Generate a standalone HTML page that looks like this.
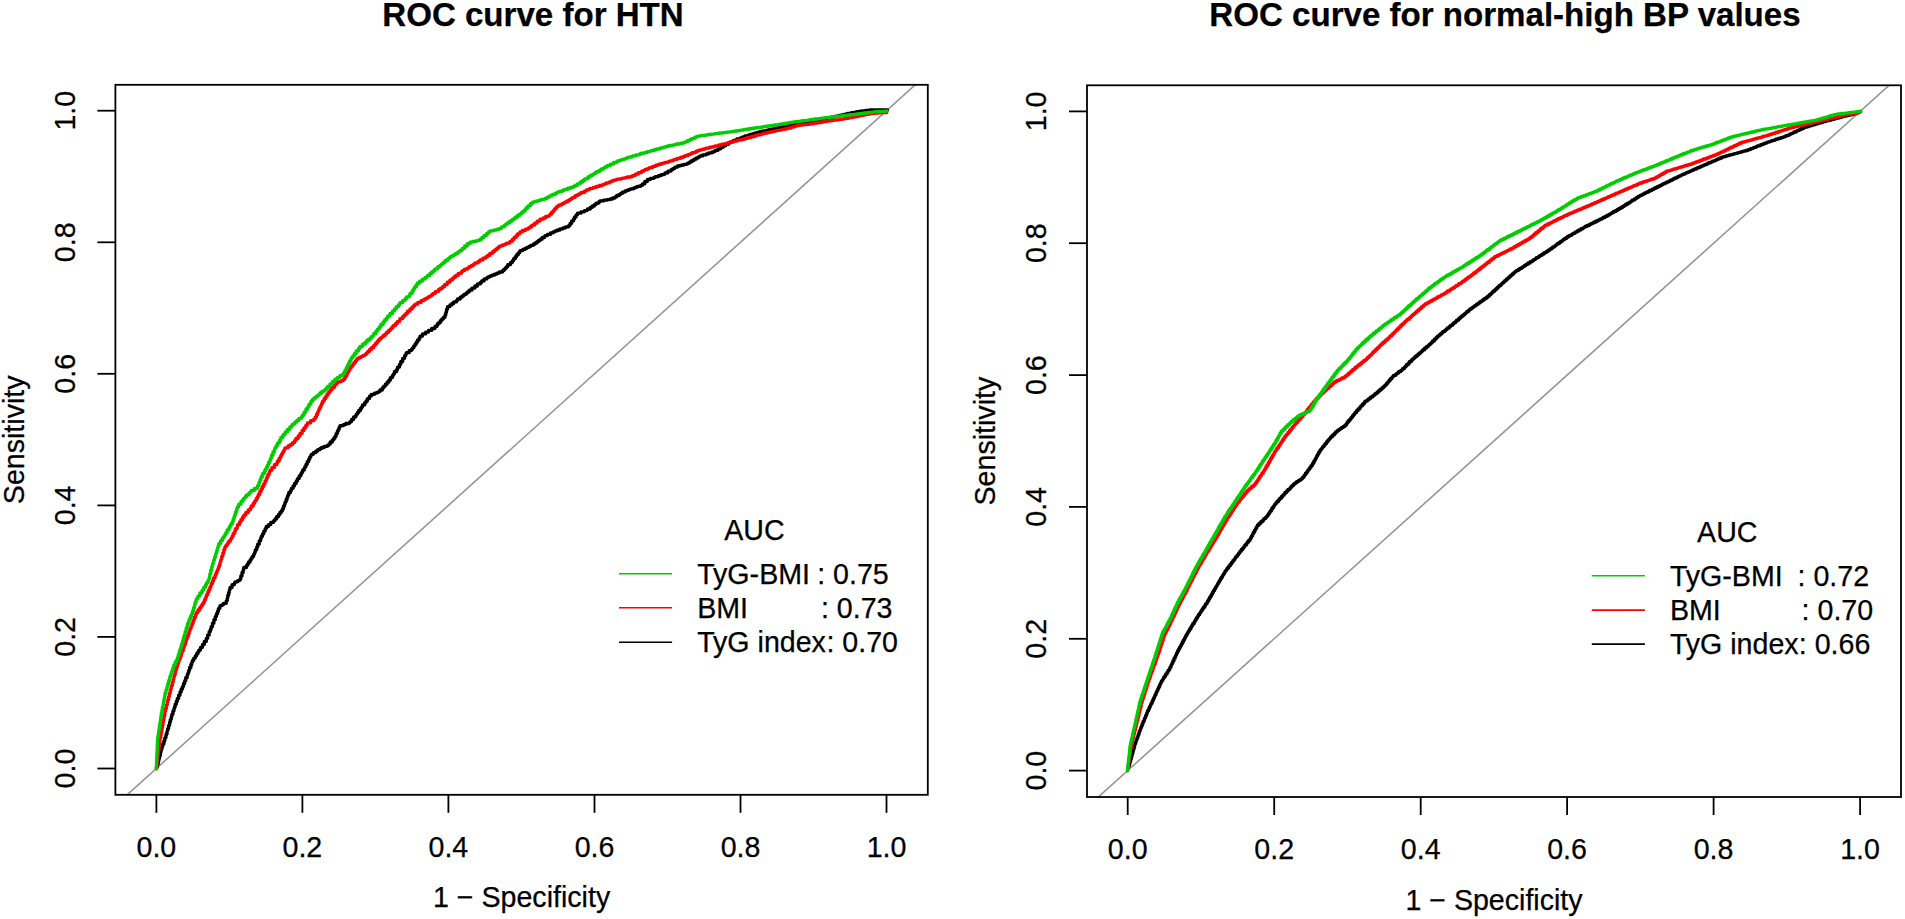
<!DOCTYPE html>
<html lang="en"><head><meta charset="utf-8"><title>ROC curves</title>
<style>
html,body{margin:0;padding:0;background:#fff;}
body{width:1905px;height:919px;overflow:hidden;}
svg{display:block;}
text{font-family:"Liberation Sans", Arial, Helvetica, sans-serif;fill:#000;stroke:#000;stroke-width:0.25px;}
.t{font-size:28.6px;}
.ttl{font-size:33.1px;font-weight:bold;}
.ax{stroke:#000;stroke-width:1.8;fill:none;stroke-linecap:butt;}
.cv{fill:none;stroke-width:3.3;stroke-linejoin:round;stroke-linecap:round;}
</style></head><body>
<svg width="1905" height="919" viewBox="0 0 1905 919">
<rect width="1905" height="919" fill="#fff"/>

<g id="panelL">
<clipPath id="clipL"><rect x="115.4" y="84.8" width="812.4" height="710.0"/></clipPath>
<line x1="115.4" y1="805.4" x2="927.8" y2="73.5" stroke="#969696" stroke-width="1.6" clip-path="url(#clipL)"/>
<path class="cv" stroke="#000000" d="M157.0,767.5 L157.0,766.4 L157.5,766.4 L157.5,765.4 L157.5,763.9 L158.2,763.9 L158.2,762.5 L158.2,761.3 L158.8,761.3 L158.8,760.1 L158.8,758.6 L159.5,758.6 L159.5,757.2 L159.5,755.7 L160.3,755.7 L160.3,754.2 L160.3,753.3 L160.7,753.3 L160.7,752.4 L160.7,751.6 L161.1,751.6 L161.1,750.7 L161.1,750.4 L161.3,750.4 L161.3,750.0 L161.3,748.9 L162.0,748.9 L162.0,747.9 L162.0,746.8 L162.7,746.8 L162.7,745.8 L162.7,743.9 L163.9,743.9 L163.9,742.1 L163.9,740.8 L164.8,740.8 L164.8,739.5 L164.8,737.8 L165.9,737.8 L165.9,736.1 L165.9,735.5 L166.3,735.5 L166.3,735.0 L166.3,733.5 L167.2,733.5 L167.2,732.0 L167.2,731.0 L167.7,731.0 L167.7,730.1 L167.7,728.6 L168.6,728.6 L168.6,727.1 L168.6,725.3 L169.6,725.3 L169.6,723.6 L169.6,722.2 L170.3,722.2 L170.3,720.9 L170.3,719.3 L171.3,719.3 L171.3,717.6 L171.3,717.6 L171.3,717.6 L171.3,717.5 L171.3,716.6 L171.9,716.6 L171.9,715.8 L171.9,714.2 L172.9,714.2 L172.9,712.6 L172.9,711.1 L173.9,711.1 L173.9,709.7 L173.9,708.6 L174.6,708.6 L174.6,707.5 L174.6,706.7 L175.2,706.7 L175.2,705.8 L175.2,704.2 L176.3,704.2 L176.3,702.5 L176.3,701.2 L177.3,701.2 L177.3,700.0 L177.3,698.4 L178.6,698.4 L178.6,696.9 L178.6,695.2 L180.0,695.2 L180.0,693.6 L180.0,692.0 L181.2,692.0 L181.2,690.5 L181.2,689.0 L182.5,689.0 L182.5,687.5 L182.5,686.3 L183.5,686.3 L183.5,685.1 L183.5,683.5 L184.7,683.5 L184.7,681.9 L184.7,680.7 L185.7,680.7 L185.7,679.4 L185.7,677.7 L187.1,677.7 L187.1,675.9 L187.1,675.5 L187.5,675.5 L187.5,675.0 L187.5,674.1 L188.2,674.1 L188.2,673.2 L188.2,672.3 L188.8,672.3 L188.8,671.4 L188.8,670.3 L189.6,670.3 L189.6,669.3 L189.6,667.5 L190.9,667.5 L190.9,665.7 L190.9,664.5 L191.8,664.5 L191.8,663.2 L191.8,662.3 L192.5,662.3 L192.5,661.3 L192.5,660.3 L193.8,660.3 L193.8,659.3 L193.8,658.1 L195.3,658.1 L195.3,656.9 L195.3,655.8 L196.6,655.8 L196.6,654.8 L196.6,653.7 L197.9,653.7 L197.9,652.7 L197.9,652.0 L198.8,652.0 L198.8,651.3 L198.8,650.1 L200.5,650.1 L200.5,648.8 L200.5,647.3 L202.5,647.3 L202.5,645.7 L202.5,644.4 L204.3,644.4 L204.3,643.1 L204.3,641.5 L206.3,641.5 L206.3,640.0 L206.3,638.3 L207.7,638.3 L207.7,636.7 L207.7,634.9 L209.2,634.9 L209.2,633.1 L209.2,631.6 L210.4,631.6 L210.4,630.1 L210.4,629.2 L211.2,629.2 L211.2,628.2 L211.2,626.6 L212.5,626.6 L212.5,625.0 L212.5,623.2 L213.9,623.2 L213.9,621.4 L213.9,619.7 L215.3,619.7 L215.3,618.0 L215.3,616.6 L216.4,616.6 L216.4,615.3 L216.4,613.7 L217.6,613.7 L217.6,612.2 L217.6,611.2 L218.4,611.2 L218.4,610.2 L218.4,608.6 L219.8,608.6 L219.8,606.9 L219.8,606.6 L220.0,606.6 L220.0,606.3 L220.0,605.7 L222.0,605.7 L222.0,605.1 L222.0,604.6 L223.5,604.6 L223.5,604.2 L223.5,603.3 L226.3,603.3 L226.3,602.5 L226.3,600.6 L227.3,600.6 L227.3,598.7 L227.3,597.8 L227.8,597.8 L227.8,596.9 L227.8,595.2 L228.7,595.2 L228.7,593.6 L228.7,592.3 L229.4,592.3 L229.4,591.1 L229.4,590.1 L229.9,590.1 L229.9,589.1 L229.9,589.0 L230.0,589.0 L230.0,588.8 L230.0,587.5 L232.1,587.5 L232.1,586.1 L232.1,584.7 L234.4,584.7 L234.4,583.3 L234.4,582.9 L235.0,582.9 L235.0,582.5 L235.0,581.8 L237.7,581.8 L237.7,581.1 L237.7,580.7 L239.3,580.7 L239.3,580.3 L239.3,580.2 L240.0,580.2 L240.0,580.0 L240.0,578.9 L240.8,578.9 L240.8,577.7 L240.8,576.0 L242.0,576.0 L242.0,574.2 L242.0,572.4 L243.2,572.4 L243.2,570.6 L243.2,569.7 L243.8,569.7 L243.8,568.8 L243.8,567.4 L246.5,567.4 L246.5,565.9 L246.5,565.4 L247.5,565.4 L247.5,564.8 L247.5,564.0 L248.5,564.0 L248.5,563.2 L248.5,562.0 L250.1,562.0 L250.1,560.7 L250.1,560.0 L251.1,560.0 L251.1,559.2 L251.1,558.3 L252.2,558.3 L252.2,557.4 L252.2,556.4 L253.6,556.4 L253.6,555.3 L253.6,555.1 L253.8,555.1 L253.8,555.0 L253.8,554.1 L254.6,554.1 L254.6,553.1 L254.6,552.3 L255.3,552.3 L255.3,551.5 L255.3,549.8 L256.7,549.8 L256.7,548.2 L256.7,547.1 L257.7,547.1 L257.7,546.0 L257.7,544.2 L259.2,544.2 L259.2,542.5 L259.2,540.8 L260.6,540.8 L260.6,539.1 L260.6,538.3 L261.3,538.3 L261.3,537.5 L261.3,536.3 L262.5,536.3 L262.5,535.1 L262.5,533.8 L263.8,533.8 L263.8,532.5 L263.8,531.1 L265.2,531.1 L265.2,529.7 L265.2,528.6 L266.3,528.6 L266.3,527.5 L266.3,526.5 L268.5,526.5 L268.5,525.6 L268.5,524.6 L270.8,524.6 L270.8,523.6 L270.8,522.3 L273.7,522.3 L273.7,521.1 L273.7,520.6 L275.0,520.6 L275.0,520.0 L275.0,518.9 L276.6,518.9 L276.6,517.9 L276.6,516.6 L278.6,516.6 L278.6,515.2 L278.6,514.4 L279.9,514.4 L279.9,513.5 L279.9,512.5 L281.3,512.5 L281.3,511.6 L281.3,510.8 L282.5,510.8 L282.5,510.0 L282.5,508.7 L283.5,508.7 L283.5,507.3 L283.5,506.0 L284.6,506.0 L284.6,504.6 L284.6,503.8 L285.2,503.8 L285.2,503.0 L285.2,501.8 L286.2,501.8 L286.2,500.6 L286.2,499.2 L287.2,499.2 L287.2,497.8 L287.2,497.0 L287.9,497.0 L287.9,496.2 L287.9,495.0 L288.8,495.0 L288.8,493.8 L288.8,492.5 L290.5,492.5 L290.5,491.2 L290.5,490.4 L291.4,490.4 L291.4,489.6 L291.4,488.3 L293.1,488.3 L293.1,487.0 L293.1,485.9 L294.5,485.9 L294.5,484.7 L294.5,483.4 L296.2,483.4 L296.2,482.0 L296.2,481.0 L297.5,481.0 L297.5,480.0 L297.5,478.6 L299.2,478.6 L299.2,477.2 L299.2,475.8 L300.9,475.8 L300.9,474.3 L300.9,473.6 L301.8,473.6 L301.8,472.9 L301.8,472.1 L302.7,472.1 L302.7,471.3 L302.7,469.9 L304.4,469.9 L304.4,468.6 L304.4,468.0 L305.0,468.0 L305.0,467.5 L305.0,466.5 L306.0,466.5 L306.0,465.5 L306.0,464.3 L307.2,464.3 L307.2,463.1 L307.2,461.7 L308.6,461.7 L308.6,460.4 L308.6,459.3 L309.7,459.3 L309.7,458.3 L309.7,457.1 L310.8,457.1 L310.8,456.0 L310.8,455.5 L311.3,455.5 L311.3,455.0 L311.3,454.3 L313.3,454.3 L313.3,453.5 L313.3,452.7 L315.8,452.7 L315.8,451.8 L315.8,451.1 L317.7,451.1 L317.7,450.4 L317.7,449.7 L319.8,449.7 L319.8,449.0 L319.8,448.9 L320.0,448.9 L320.0,448.8 L320.0,448.5 L321.6,448.5 L321.6,448.1 L321.6,447.5 L324.3,447.5 L324.3,446.9 L324.3,446.3 L327.4,446.3 L327.4,445.6 L327.4,445.3 L328.8,445.3 L328.8,445.0 L328.8,444.2 L330.2,444.2 L330.2,443.3 L330.2,442.0 L332.4,442.0 L332.4,440.6 L332.4,439.8 L333.8,439.8 L333.8,438.9 L333.8,438.2 L335.0,438.2 L335.0,437.5 L335.0,436.3 L336.1,436.3 L336.1,435.1 L336.1,433.6 L337.4,433.6 L337.4,432.1 L337.4,431.2 L338.2,431.2 L338.2,430.4 L338.2,429.3 L339.2,429.3 L339.2,428.2 L339.2,427.2 L340.0,427.2 L340.0,426.3 L340.0,425.7 L343.3,425.7 L343.3,425.0 L343.3,424.6 L345.8,424.6 L345.8,424.1 L345.8,423.5 L349.2,423.5 L349.2,422.8 L349.2,422.7 L350.0,422.7 L350.0,422.5 L350.0,421.6 L351.6,421.6 L351.6,420.6 L351.6,419.4 L353.6,419.4 L353.6,418.2 L353.6,416.8 L355.9,416.8 L355.9,415.4 L355.9,415.2 L356.3,415.2 L356.3,415.0 L356.3,414.1 L357.6,414.1 L357.6,413.2 L357.6,412.4 L358.7,412.4 L358.7,411.6 L358.7,410.5 L360.4,410.5 L360.4,409.3 L360.4,408.4 L361.6,408.4 L361.6,407.6 L361.6,406.9 L362.5,406.9 L362.5,406.3 L362.5,404.9 L364.7,404.9 L364.7,403.5 L364.7,402.7 L366.0,402.7 L366.0,401.8 L366.0,400.9 L367.4,400.9 L367.4,400.0 L367.4,398.6 L369.5,398.6 L369.5,397.3 L369.5,396.1 L371.3,396.1 L371.3,395.0 L371.3,394.3 L374.5,394.3 L374.5,393.6 L374.5,393.2 L376.8,393.2 L376.8,392.7 L376.8,392.3 L378.6,392.3 L378.6,391.9 L378.6,391.6 L380.0,391.6 L380.0,391.3 L380.0,390.0 L382.3,390.0 L382.3,388.7 L382.3,387.8 L383.8,387.8 L383.8,387.0 L383.8,386.1 L385.4,386.1 L385.4,385.1 L385.4,384.2 L387.1,384.2 L387.1,383.2 L387.1,382.2 L388.8,382.2 L388.8,381.3 L388.8,380.2 L390.3,380.2 L390.3,379.2 L390.3,377.6 L392.4,377.6 L392.4,376.1 L392.4,375.3 L393.6,375.3 L393.6,374.4 L393.6,373.7 L394.5,373.7 L394.5,373.0 L394.5,371.5 L396.7,371.5 L396.7,369.9 L396.7,369.4 L397.5,369.4 L397.5,368.8 L397.5,367.1 L399.5,367.1 L399.5,365.4 L399.5,364.3 L400.8,364.3 L400.8,363.2 L400.8,361.5 L402.7,361.5 L402.7,359.9 L402.7,358.3 L404.6,358.3 L404.6,356.6 L404.6,355.7 L405.7,355.7 L405.7,354.8 L405.7,354.3 L406.3,354.3 L406.3,353.8 L406.3,352.7 L409.1,352.7 L409.1,351.6 L409.1,350.6 L411.5,350.6 L411.5,349.6 L411.5,349.2 L412.5,349.2 L412.5,348.8 L412.5,347.8 L413.8,347.8 L413.8,346.9 L413.8,345.8 L415.1,345.8 L415.1,344.8 L415.1,343.9 L416.3,343.9 L416.3,343.0 L416.3,342.2 L417.4,342.2 L417.4,341.5 L417.4,340.2 L419.0,340.2 L419.0,339.0 L419.0,338.2 L420.0,338.2 L420.0,337.5 L420.0,336.2 L422.4,336.2 L422.4,334.9 L422.4,334.9 L422.5,334.9 L422.5,334.8 L422.5,333.9 L425.7,333.9 L425.7,332.9 L425.7,332.1 L428.5,332.1 L428.5,331.3 L428.5,330.4 L431.7,330.4 L431.7,329.4 L431.7,328.5 L434.9,328.5 L434.9,327.6 L434.9,327.5 L435.0,327.5 L435.0,327.5 L435.0,326.4 L437.0,326.4 L437.0,325.3 L437.0,324.6 L438.1,324.6 L438.1,324.0 L438.1,322.8 L440.3,322.8 L440.3,321.5 L440.3,320.7 L441.7,320.7 L441.7,320.0 L441.7,319.1 L443.3,319.1 L443.3,318.2 L443.3,317.3 L445.0,317.3 L445.0,316.3 L445.0,314.9 L445.8,314.9 L445.8,313.6 L445.8,312.3 L446.5,312.3 L446.5,311.0 L446.5,309.3 L447.5,309.3 L447.5,307.5 L447.5,306.6 L449.9,306.6 L449.9,305.7 L449.9,304.9 L451.9,304.9 L451.9,304.2 L451.9,303.5 L453.7,303.5 L453.7,302.9 L453.7,301.8 L456.6,301.8 L456.6,300.7 L456.6,300.3 L457.5,300.3 L457.5,300.0 L457.5,299.0 L460.2,299.0 L460.2,297.9 L460.2,297.2 L462.2,297.2 L462.2,296.5 L462.2,295.8 L463.9,295.8 L463.9,295.2 L463.9,294.3 L466.2,294.3 L466.2,293.5 L466.2,293.0 L467.5,293.0 L467.5,292.5 L467.5,291.9 L469.2,291.9 L469.2,291.3 L469.2,290.2 L471.9,290.2 L471.9,289.2 L471.9,288.1 L474.9,288.1 L474.9,286.9 L474.9,286.0 L477.5,286.0 L477.5,285.0 L477.5,283.9 L480.3,283.9 L480.3,282.9 L480.3,282.4 L481.7,282.4 L481.7,281.9 L481.7,280.9 L484.1,280.9 L484.1,280.0 L484.1,278.9 L487.0,278.9 L487.0,277.8 L487.0,277.7 L487.5,277.7 L487.5,277.5 L487.5,277.1 L489.6,277.1 L489.6,276.6 L489.6,276.2 L491.7,276.2 L491.7,275.8 L491.7,275.2 L494.4,275.2 L494.4,274.7 L494.4,274.2 L496.8,274.2 L496.8,273.7 L496.8,273.1 L499.3,273.1 L499.3,272.6 L499.3,272.0 L502.5,272.0 L502.5,271.3 L502.5,271.3 L502.5,271.3 L502.5,271.3 L502.5,270.7 L503.8,270.7 L503.8,270.0 L503.8,269.3 L505.2,269.3 L505.2,268.6 L505.2,267.9 L506.5,267.9 L506.5,267.3 L506.5,266.6 L507.8,266.6 L507.8,266.0 L507.8,264.6 L510.6,264.6 L510.6,263.2 L510.6,262.3 L512.5,262.3 L512.5,261.3 L512.5,260.6 L513.6,260.6 L513.6,259.8 L513.6,258.7 L515.3,258.7 L515.3,257.6 L515.3,256.6 L516.7,256.6 L516.7,255.6 L516.7,254.7 L518.2,254.7 L518.2,253.7 L518.2,252.8 L519.7,252.8 L519.7,251.8 L519.7,251.5 L520.0,251.5 L520.0,251.3 L520.0,250.6 L522.7,250.6 L522.7,250.0 L522.7,249.4 L524.9,249.4 L524.9,248.8 L524.9,248.4 L526.8,248.4 L526.8,247.9 L526.8,247.4 L529.0,247.4 L529.0,246.8 L529.0,246.4 L530.7,246.4 L530.7,245.9 L530.7,245.3 L533.3,245.3 L533.3,244.6 L533.3,244.2 L535.0,244.2 L535.0,243.8 L535.0,243.0 L537.0,243.0 L537.0,242.3 L537.0,241.7 L538.5,241.7 L538.5,241.2 L538.5,240.5 L540.2,240.5 L540.2,239.9 L540.2,239.2 L542.2,239.2 L542.2,238.4 L542.2,237.5 L544.6,237.5 L544.6,236.6 L544.6,236.4 L545.0,236.4 L545.0,236.3 L545.0,235.7 L547.3,235.7 L547.3,235.2 L547.3,234.4 L550.4,234.4 L550.4,233.6 L550.4,232.9 L553.1,232.9 L553.1,232.2 L553.1,231.8 L555.0,231.8 L555.0,231.3 L555.0,230.9 L557.4,230.9 L557.4,230.4 L557.4,230.0 L560.0,230.0 L560.0,229.5 L560.0,228.9 L563.0,228.9 L563.0,228.4 L563.0,227.9 L565.5,227.9 L565.5,227.5 L565.5,226.9 L568.6,226.9 L568.6,226.4 L568.6,226.3 L568.8,226.3 L568.8,226.3 L568.8,225.4 L570.1,225.4 L570.1,224.5 L570.1,223.3 L571.7,223.3 L571.7,222.1 L571.7,220.8 L573.6,220.8 L573.6,219.4 L573.6,218.7 L574.6,218.7 L574.6,217.9 L574.6,216.9 L576.1,216.9 L576.1,215.8 L576.1,214.8 L577.5,214.8 L577.5,213.8 L577.5,213.2 L580.9,213.2 L580.9,212.5 L580.9,211.8 L584.4,211.8 L584.4,211.2 L584.4,210.7 L586.8,210.7 L586.8,210.3 L586.8,210.1 L587.5,210.1 L587.5,210.0 L587.5,209.0 L590.3,209.0 L590.3,208.0 L590.3,207.4 L592.2,207.4 L592.2,206.7 L592.2,206.0 L594.4,206.0 L594.4,205.2 L594.4,204.6 L596.0,204.6 L596.0,204.1 L596.0,203.1 L598.9,203.1 L598.9,202.1 L598.9,201.7 L600.0,201.7 L600.0,201.3 L600.0,200.9 L603.6,200.9 L603.6,200.6 L603.6,200.2 L607.0,200.2 L607.0,199.9 L607.0,199.6 L610.1,199.6 L610.1,199.3 L610.1,199.0 L612.5,199.0 L612.5,198.8 L612.5,198.0 L615.0,198.0 L615.0,197.3 L615.0,196.8 L616.7,196.8 L616.7,196.3 L616.7,195.5 L619.2,195.5 L619.2,194.8 L619.2,194.3 L620.7,194.3 L620.7,193.9 L620.7,193.4 L622.4,193.4 L622.4,192.9 L622.4,192.1 L625.0,192.1 L625.0,191.3 L625.0,191.0 L626.7,191.0 L626.7,190.7 L626.7,190.4 L628.4,190.4 L628.4,190.1 L628.4,189.7 L630.2,189.7 L630.2,189.4 L630.2,188.8 L633.7,188.8 L633.7,188.2 L633.7,187.8 L635.6,187.8 L635.6,187.5 L635.6,187.2 L637.3,187.2 L637.3,186.9 L637.3,186.3 L640.6,186.3 L640.6,185.7 L640.6,185.3 L642.5,185.3 L642.5,185.0 L642.5,185.0 L642.5,185.0 L642.5,185.0 L642.5,183.9 L644.8,183.9 L644.8,182.7 L644.8,181.5 L647.3,181.5 L647.3,180.2 L647.3,180.1 L647.5,180.1 L647.5,180.0 L647.5,179.5 L650.3,179.5 L650.3,179.0 L650.3,178.4 L653.6,178.4 L653.6,177.8 L653.6,177.6 L655.2,177.6 L655.2,177.3 L655.2,176.7 L658.4,176.7 L658.4,176.1 L658.4,175.7 L661.1,175.7 L661.1,175.2 L661.1,174.6 L664.2,174.6 L664.2,174.1 L664.2,173.9 L665.0,173.9 L665.0,173.8 L665.0,172.9 L667.9,172.9 L667.9,172.1 L667.9,171.1 L671.1,171.1 L671.1,170.1 L671.1,169.7 L672.7,169.7 L672.7,169.2 L672.7,168.6 L674.7,168.6 L674.7,168.0 L674.7,167.2 L677.3,167.2 L677.3,166.4 L677.3,166.4 L677.5,166.4 L677.5,166.3 L677.5,166.0 L679.7,166.0 L679.7,165.8 L679.7,165.5 L681.7,165.5 L681.7,165.3 L681.7,165.0 L683.8,165.0 L683.8,164.7 L683.8,164.3 L686.8,164.3 L686.8,164.0 L686.8,163.9 L687.5,163.9 L687.5,163.8 L687.5,163.1 L689.7,163.1 L689.7,162.5 L689.7,161.8 L691.8,161.8 L691.8,161.2 L691.8,160.5 L694.0,160.5 L694.0,159.9 L694.0,159.2 L696.2,159.2 L696.2,158.6 L696.2,157.9 L698.4,157.9 L698.4,157.3 L698.4,156.8 L700.0,156.8 L700.0,156.3 L700.0,155.9 L702.7,155.9 L702.7,155.4 L702.7,154.8 L706.3,154.8 L706.3,154.2 L706.3,153.8 L708.8,153.8 L708.8,153.4 L708.8,152.8 L712.0,152.8 L712.0,152.3 L712.0,152.0 L713.9,152.0 L713.9,151.7 L713.9,151.5 L715.0,151.5 L715.0,151.3 L715.0,150.4 L717.9,150.4 L717.9,149.6 L717.9,148.8 L720.7,148.8 L720.7,148.0 L720.7,147.3 L723.1,147.3 L723.1,146.5 L723.1,145.8 L725.5,145.8 L725.5,145.1 L725.5,144.4 L728.2,144.4 L728.2,143.6 L728.2,143.0 L730.0,143.0 L730.0,142.5 L730.0,142.1 L731.9,142.1 L731.9,141.7 L731.9,141.4 L733.6,141.4 L733.6,141.0 L733.6,140.4 L736.7,140.4 L736.7,139.7 L736.7,139.0 L740.2,139.0 L740.2,138.3 L740.2,137.8 L742.8,137.8 L742.8,137.2 L742.8,136.8 L745.0,136.8 L745.0,136.3 L745.0,135.8 L748.2,135.8 L748.2,135.4 L748.2,135.1 L750.2,135.1 L750.2,134.8 L750.2,134.5 L752.4,134.5 L752.4,134.1 L752.4,133.8 L754.4,133.8 L754.4,133.5 L754.4,133.1 L757.3,133.1 L757.3,132.7 L757.3,132.4 L759.6,132.4 L759.6,132.0 L759.6,132.0 L760.0,132.0 L760.0,131.9 L760.0,131.5 L763.1,131.5 L763.1,131.2 L763.1,130.8 L766.9,130.8 L766.9,130.3 L766.9,130.1 L769.2,130.1 L769.2,129.8 L769.2,129.5 L772.3,129.5 L772.3,129.1 L772.3,128.8 L774.9,128.8 L774.9,128.5 L774.9,128.5 L775.0,128.5 L775.0,128.5 L775.0,128.2 L777.9,128.2 L777.9,127.9 L777.9,127.6 L780.1,127.6 L780.1,127.4 L780.1,127.1 L782.3,127.1 L782.3,126.9 L782.3,126.7 L784.0,126.7 L784.0,126.5 L784.0,126.4 L785.0,126.4 L785.0,126.3 L785.0,126.0 L787.5,126.0 L787.5,125.7 L787.5,125.4 L789.5,125.4 L789.5,125.2 L789.5,124.9 L791.9,124.9 L791.9,124.6 L791.9,124.3 L794.2,124.3 L794.2,124.0 L794.2,123.5 L797.5,123.5 L797.5,123.1 L797.5,122.9 L799.5,122.9 L799.5,122.6 L799.5,122.6 L800.0,122.6 L800.0,122.5 L800.0,122.3 L802.7,122.3 L802.7,122.1 L802.7,121.9 L805.7,121.9 L805.7,121.7 L805.7,121.5 L808.4,121.5 L808.4,121.3 L808.4,121.0 L811.9,121.0 L811.9,120.7 L811.9,120.5 L815.4,120.5 L815.4,120.2 L815.4,120.0 L818.3,120.0 L818.3,119.8 L818.3,119.6 L821.0,119.6 L821.0,119.4 L821.0,119.1 L824.3,119.1 L824.3,118.9 L824.3,118.9 L825.0,118.9 L825.0,118.8 L825.0,118.5 L827.5,118.5 L827.5,118.2 L827.5,117.9 L830.8,117.9 L830.8,117.5 L830.8,117.1 L834.5,117.1 L834.5,116.7 L834.5,116.4 L837.2,116.4 L837.2,116.1 L837.2,115.9 L839.3,115.9 L839.3,115.6 L839.3,115.4 L841.5,115.4 L841.5,115.1 L841.5,114.8 L844.7,114.8 L844.7,114.4 L844.7,114.1 L847.5,114.1 L847.5,113.8 L847.5,113.4 L851.3,113.4 L851.3,113.0 L851.3,112.7 L854.8,112.7 L854.8,112.3 L854.8,112.1 L857.0,112.1 L857.0,111.9 L857.0,111.7 L859.0,111.7 L859.0,111.5 L859.0,111.4 L860.0,111.4 L860.0,111.3 L860.0,111.2 L862.1,111.2 L862.1,111.0 L862.1,110.8 L865.3,110.8 L865.3,110.6 L865.3,110.4 L868.9,110.4 L868.9,110.1 L868.9,110.1 L870.0,110.1 L870.0,110.0 L870.0,110.0 L872.3,110.0 L872.3,110.0 L872.3,110.0 L875.9,110.0 L875.9,110.0 L875.9,110.0 L878.3,110.0 L878.3,110.0 L878.3,110.0 L880.9,110.0 L880.9,110.0 L880.9,110.0 L884.2,110.0 L884.2,110.0 L884.2,110.0 L886.1,110.0 L886.1,110.0 L886.1,110.0 L887.5,110.0 L887.5,110.0"/>
<path class="cv" stroke="#ff0000" d="M156.3,768.8 L156.3,767.0 L156.8,767.0 L156.8,765.3 L156.8,764.1 L157.0,764.1 L157.0,763.0 L157.0,761.7 L157.4,761.7 L157.4,760.5 L157.4,759.0 L157.7,759.0 L157.7,757.6 L157.7,756.0 L158.2,756.0 L158.2,754.4 L158.2,753.5 L158.4,753.5 L158.4,752.7 L158.4,751.5 L158.7,751.5 L158.7,750.3 L158.7,749.0 L159.0,749.0 L159.0,747.7 L159.0,746.3 L159.4,746.3 L159.4,744.9 L159.4,743.8 L159.6,743.8 L159.6,742.8 L159.6,741.4 L160.0,741.4 L160.0,740.0 L160.0,738.1 L160.7,738.1 L160.7,736.2 L160.7,735.0 L161.1,735.0 L161.1,733.7 L161.1,732.3 L161.7,732.3 L161.7,730.9 L161.7,729.9 L162.0,729.9 L162.0,729.0 L162.0,727.8 L162.4,727.8 L162.4,726.7 L162.4,725.1 L163.0,725.1 L163.0,723.6 L163.0,722.6 L163.3,722.6 L163.3,721.7 L163.3,719.9 L164.0,719.9 L164.0,718.1 L164.0,716.2 L164.7,716.2 L164.7,714.4 L164.7,713.5 L165.0,713.5 L165.0,712.6 L165.0,712.5 L165.0,712.5 L165.0,712.5 L165.0,711.3 L165.6,711.3 L165.6,710.1 L165.6,708.4 L166.4,708.4 L166.4,706.8 L166.4,705.1 L167.3,705.1 L167.3,703.5 L167.3,702.3 L167.8,702.3 L167.8,701.2 L167.8,699.7 L168.6,699.7 L168.6,698.1 L168.6,696.6 L169.4,696.6 L169.4,695.1 L169.4,693.4 L170.2,693.4 L170.2,691.7 L170.2,690.6 L170.8,690.6 L170.8,689.5 L170.8,688.5 L171.3,688.5 L171.3,687.5 L171.3,685.7 L172.3,685.7 L172.3,683.8 L172.3,682.3 L173.2,682.3 L173.2,680.7 L173.2,679.3 L173.9,679.3 L173.9,678.0 L173.9,677.0 L174.4,677.0 L174.4,676.1 L174.4,674.7 L175.2,674.7 L175.2,673.4 L175.2,672.2 L175.8,672.2 L175.8,671.0 L175.8,669.4 L176.7,669.4 L176.7,667.9 L176.7,666.4 L177.5,666.4 L177.5,665.0 L177.5,663.6 L178.5,663.6 L178.5,662.2 L178.5,661.2 L179.2,661.2 L179.2,660.3 L179.2,658.8 L180.3,658.8 L180.3,657.3 L180.3,655.9 L181.3,655.9 L181.3,654.4 L181.3,653.4 L182.0,653.4 L182.0,652.5 L182.0,650.7 L183.3,650.7 L183.3,649.0 L183.3,648.2 L183.8,648.2 L183.8,647.5 L183.8,646.6 L184.5,646.6 L184.5,645.7 L184.5,643.9 L185.7,643.9 L185.7,642.1 L185.7,641.2 L186.4,641.2 L186.4,640.2 L186.4,639.1 L187.2,639.1 L187.2,637.9 L187.2,636.4 L188.3,636.4 L188.3,634.8 L188.3,633.4 L189.3,633.4 L189.3,632.0 L189.3,631.0 L190.0,631.0 L190.0,630.0 L190.0,628.5 L191.1,628.5 L191.1,627.1 L191.1,625.8 L192.1,625.8 L192.1,624.6 L192.1,623.5 L193.0,623.5 L193.0,622.3 L193.0,621.4 L193.7,621.4 L193.7,620.4 L193.7,619.6 L194.4,619.6 L194.4,618.7 L194.4,617.2 L195.6,617.2 L195.6,615.6 L195.6,614.7 L196.3,614.7 L196.3,613.8 L196.3,612.6 L197.9,612.6 L197.9,611.4 L197.9,610.0 L199.7,610.0 L199.7,608.6 L199.7,607.6 L201.1,607.6 L201.1,606.5 L201.1,605.6 L202.4,605.6 L202.4,604.6 L202.4,603.6 L203.8,603.6 L203.8,602.5 L203.8,602.5 L203.8,602.5 L203.8,602.5 L203.8,601.7 L204.5,601.7 L204.5,600.9 L204.5,599.6 L205.6,599.6 L205.6,598.3 L205.6,597.3 L206.5,597.3 L206.5,596.2 L206.5,594.7 L207.8,594.7 L207.8,593.1 L207.8,592.0 L208.8,592.0 L208.8,590.8 L208.8,589.7 L209.8,589.7 L209.8,588.6 L209.8,587.4 L210.8,587.4 L210.8,586.2 L210.8,585.6 L211.3,585.6 L211.3,585.0 L211.3,583.4 L212.6,583.4 L212.6,581.9 L212.6,580.7 L213.6,580.7 L213.6,579.6 L213.6,578.0 L215.0,578.0 L215.0,576.3 L215.0,575.4 L215.8,575.4 L215.8,574.5 L215.8,573.5 L216.7,573.5 L216.7,572.4 L216.7,571.6 L217.4,571.6 L217.4,570.7 L217.4,569.8 L218.2,569.8 L218.2,568.9 L218.2,568.2 L218.8,568.2 L218.8,567.5 L218.8,565.9 L219.8,565.9 L219.8,564.3 L219.8,563.3 L220.4,563.3 L220.4,562.3 L220.4,561.3 L221.0,561.3 L221.0,560.3 L221.0,559.1 L221.8,559.1 L221.8,557.8 L221.8,556.2 L222.8,556.2 L222.8,554.6 L222.8,553.0 L223.8,553.0 L223.8,551.3 L223.8,549.7 L224.8,549.7 L224.8,548.1 L224.8,547.8 L225.0,547.8 L225.0,547.5 L225.0,546.7 L226.2,546.7 L226.2,545.9 L226.2,544.8 L227.7,544.8 L227.7,543.8 L227.7,542.9 L228.9,542.9 L228.9,542.1 L228.9,540.9 L230.6,540.9 L230.6,539.8 L230.6,539.3 L231.3,539.3 L231.3,538.8 L231.3,537.8 L232.2,537.8 L232.2,536.9 L232.2,535.9 L233.2,535.9 L233.2,534.9 L233.2,533.3 L234.8,533.3 L234.8,531.8 L234.8,531.0 L235.5,531.0 L235.5,530.2 L235.5,528.7 L237.1,528.7 L237.1,527.1 L237.1,526.7 L237.5,526.7 L237.5,526.3 L237.5,524.7 L239.5,524.7 L239.5,523.1 L239.5,522.0 L240.9,522.0 L240.9,520.9 L240.9,519.7 L242.4,519.7 L242.4,518.5 L242.4,517.4 L243.8,517.4 L243.8,516.3 L243.8,515.1 L245.8,515.1 L245.8,513.9 L245.8,512.5 L248.3,512.5 L248.3,511.0 L248.3,509.8 L250.4,509.8 L250.4,508.5 L250.4,508.0 L251.3,508.0 L251.3,507.5 L251.3,506.0 L253.2,506.0 L253.2,504.4 L253.2,503.3 L254.7,503.3 L254.7,502.1 L254.7,500.8 L256.3,500.8 L256.3,499.5 L256.3,498.5 L257.5,498.5 L257.5,497.5 L257.5,496.7 L258.3,496.7 L258.3,496.0 L258.3,494.5 L259.8,494.5 L259.8,492.9 L259.8,491.5 L261.2,491.5 L261.2,490.1 L261.2,488.9 L262.4,488.9 L262.4,487.6 L262.4,486.4 L263.7,486.4 L263.7,485.1 L263.7,483.9 L264.9,483.9 L264.9,482.7 L264.9,482.6 L265.0,482.6 L265.0,482.5 L265.0,481.2 L266.2,481.2 L266.2,479.9 L266.2,479.1 L266.9,479.1 L266.9,478.3 L266.9,477.0 L268.0,477.0 L268.0,475.7 L268.0,474.3 L269.3,474.3 L269.3,472.9 L269.3,472.1 L270.0,472.1 L270.0,471.3 L270.0,470.2 L271.9,470.2 L271.9,469.1 L271.9,467.6 L274.4,467.6 L274.4,466.1 L274.4,464.7 L276.8,464.7 L276.8,463.3 L276.8,462.9 L277.5,462.9 L277.5,462.5 L277.5,461.0 L279.2,461.0 L279.2,459.5 L279.2,458.1 L280.6,458.1 L280.6,456.8 L280.6,456.0 L281.5,456.0 L281.5,455.2 L281.5,454.1 L282.7,454.1 L282.7,453.0 L282.7,452.1 L283.7,452.1 L283.7,451.1 L283.7,450.3 L284.6,450.3 L284.6,449.5 L284.6,449.1 L285.0,449.1 L285.0,448.8 L285.0,447.8 L288.1,447.8 L288.1,446.7 L288.1,446.0 L290.1,446.0 L290.1,445.4 L290.1,444.6 L292.5,444.6 L292.5,443.8 L292.5,442.6 L294.6,442.6 L294.6,441.3 L294.6,440.6 L295.9,440.6 L295.9,439.8 L295.9,438.5 L298.2,438.5 L298.2,437.1 L298.2,436.0 L300.0,436.0 L300.0,435.0 L300.0,433.4 L302.1,433.4 L302.1,431.9 L302.1,430.5 L303.9,430.5 L303.9,429.2 L303.9,427.8 L305.8,427.8 L305.8,426.4 L305.8,425.4 L307.1,425.4 L307.1,424.3 L307.1,424.1 L307.5,424.1 L307.5,423.8 L307.5,422.8 L310.6,422.8 L310.6,421.7 L310.6,420.7 L313.6,420.7 L313.6,419.7 L313.6,419.3 L315.0,419.3 L315.0,418.8 L315.0,417.3 L316.4,417.3 L316.4,415.7 L316.4,414.5 L317.6,414.5 L317.6,413.2 L317.6,412.3 L318.4,412.3 L318.4,411.5 L318.4,410.7 L319.1,410.7 L319.1,409.9 L319.1,409.0 L319.9,409.0 L319.9,408.2 L319.9,407.2 L320.8,407.2 L320.8,406.2 L320.8,405.3 L321.6,405.3 L321.6,404.4 L321.6,403.4 L322.5,403.4 L322.5,402.5 L322.5,401.1 L324.2,401.1 L324.2,399.8 L324.2,398.5 L325.8,398.5 L325.8,397.3 L325.8,396.2 L327.2,396.2 L327.2,395.1 L327.2,393.8 L328.8,393.8 L328.8,392.5 L328.8,391.6 L330.4,391.6 L330.4,390.7 L330.4,389.7 L332.1,389.7 L332.1,388.7 L332.1,387.4 L334.4,387.4 L334.4,386.1 L334.4,385.1 L336.0,385.1 L336.0,384.2 L336.0,383.4 L337.4,383.4 L337.4,382.6 L337.4,382.5 L337.5,382.5 L337.5,382.5 L337.5,381.9 L340.6,381.9 L340.6,381.3 L340.6,380.8 L342.9,380.8 L342.9,380.4 L342.9,380.2 L343.8,380.2 L343.8,380.0 L343.8,378.7 L345.2,378.7 L345.2,377.5 L345.2,376.2 L346.6,376.2 L346.6,374.9 L346.6,373.9 L347.7,373.9 L347.7,372.9 L347.7,372.2 L348.5,372.2 L348.5,371.5 L348.5,370.5 L349.6,370.5 L349.6,369.6 L349.6,369.2 L350.0,369.2 L350.0,368.8 L350.0,368.0 L351.2,368.0 L351.2,367.2 L351.2,366.1 L352.8,366.1 L352.8,365.0 L352.8,364.2 L354.1,364.2 L354.1,363.3 L354.1,362.5 L355.4,362.5 L355.4,361.6 L355.4,360.8 L356.6,360.8 L356.6,360.0 L356.6,359.4 L357.5,359.4 L357.5,358.8 L357.5,358.3 L359.3,358.3 L359.3,357.9 L359.3,357.5 L360.9,357.5 L360.9,357.1 L360.9,356.6 L362.6,356.6 L362.6,356.2 L362.6,355.7 L364.4,355.7 L364.4,355.3 L364.4,355.1 L365.0,355.1 L365.0,355.0 L365.0,354.4 L366.3,354.4 L366.3,353.7 L366.3,353.1 L367.5,353.1 L367.5,352.5 L367.5,351.6 L369.4,351.6 L369.4,350.6 L369.4,349.7 L371.3,349.7 L371.3,348.8 L371.3,347.7 L373.6,347.7 L373.6,346.5 L373.6,346.4 L373.8,346.4 L373.8,346.3 L373.8,345.3 L375.4,345.3 L375.4,344.3 L375.4,343.3 L377.1,343.3 L377.1,342.3 L377.1,341.7 L378.2,341.7 L378.2,341.0 L378.2,339.9 L380.0,339.9 L380.0,338.8 L380.0,338.1 L381.7,338.1 L381.7,337.4 L381.7,336.9 L383.2,336.9 L383.2,336.3 L383.2,335.5 L385.0,335.5 L385.0,334.8 L385.0,334.1 L386.5,334.1 L386.5,333.4 L386.5,332.3 L388.6,332.3 L388.6,331.2 L388.6,330.3 L390.4,330.3 L390.4,329.5 L390.4,328.8 L391.8,328.8 L391.8,328.1 L391.8,327.5 L393.1,327.5 L393.1,326.8 L393.1,325.7 L395.4,325.7 L395.4,324.5 L395.4,323.7 L397.1,323.7 L397.1,322.9 L397.1,321.7 L399.5,321.7 L399.5,320.5 L399.5,320.2 L400.0,320.2 L400.0,320.0 L400.0,318.7 L402.7,318.7 L402.7,317.3 L402.7,316.5 L404.3,316.5 L404.3,315.7 L404.3,314.9 L405.9,314.9 L405.9,314.1 L405.9,313.3 L407.5,313.3 L407.5,312.5 L407.5,311.2 L410.0,311.2 L410.0,310.0 L410.0,308.9 L412.2,308.9 L412.2,307.8 L412.2,306.9 L413.9,306.9 L413.9,306.1 L413.9,305.5 L415.0,305.5 L415.0,305.0 L415.0,304.2 L417.8,304.2 L417.8,303.4 L417.8,302.4 L421.1,302.4 L421.1,301.5 L421.1,300.7 L423.7,300.7 L423.7,299.9 L423.7,299.5 L425.2,299.5 L425.2,299.1 L425.2,298.7 L426.7,298.7 L426.7,298.2 L426.7,297.8 L428.3,297.8 L428.3,297.3 L428.3,296.8 L430.0,296.8 L430.0,296.3 L430.0,295.8 L431.4,295.8 L431.4,295.3 L431.4,294.8 L432.9,294.8 L432.9,294.2 L432.9,293.3 L435.5,293.3 L435.5,292.4 L435.5,291.4 L438.5,291.4 L438.5,290.3 L438.5,289.7 L440.2,289.7 L440.2,289.1 L440.2,288.3 L442.5,288.3 L442.5,287.5 L442.5,286.6 L444.6,286.6 L444.6,285.7 L444.6,284.6 L447.2,284.6 L447.2,283.4 L447.2,282.2 L450.0,282.2 L450.0,281.0 L450.0,279.9 L452.5,279.9 L452.5,278.8 L452.5,278.3 L453.9,278.3 L453.9,277.7 L453.9,277.0 L455.8,277.0 L455.8,276.3 L455.8,275.4 L458.2,275.4 L458.2,274.5 L458.2,273.4 L461.3,273.4 L461.3,272.2 L461.3,271.8 L462.5,271.8 L462.5,271.3 L462.5,270.7 L464.5,270.7 L464.5,270.1 L464.5,269.2 L467.6,269.2 L467.6,268.3 L467.6,267.8 L469.2,267.8 L469.2,267.3 L469.2,266.6 L471.4,266.6 L471.4,265.9 L471.4,265.3 L473.5,265.3 L473.5,264.7 L473.5,264.2 L475.0,264.2 L475.0,263.8 L475.0,262.8 L478.2,262.8 L478.2,261.9 L478.2,261.3 L480.0,261.3 L480.0,260.8 L480.0,259.9 L482.9,259.9 L482.9,259.1 L482.9,258.2 L485.7,258.2 L485.7,257.4 L485.7,256.8 L487.5,256.8 L487.5,256.3 L487.5,255.4 L489.8,255.4 L489.8,254.5 L489.8,253.3 L492.7,253.3 L492.7,252.1 L492.7,251.4 L494.7,251.4 L494.7,250.6 L494.7,249.8 L496.7,249.8 L496.7,248.9 L496.7,248.3 L498.4,248.3 L498.4,247.6 L498.4,246.9 L500.0,246.9 L500.0,246.3 L500.0,245.8 L502.6,245.8 L502.6,245.3 L502.6,244.9 L504.7,244.9 L504.7,244.5 L504.7,244.1 L506.6,244.1 L506.6,243.8 L506.6,243.2 L509.7,243.2 L509.7,242.6 L509.7,242.6 L510.0,242.6 L510.0,242.5 L510.0,241.3 L512.3,241.3 L512.3,240.2 L512.3,239.3 L514.1,239.3 L514.1,238.4 L514.1,237.4 L516.1,237.4 L516.1,236.4 L516.1,235.7 L517.5,235.7 L517.5,235.0 L517.5,233.8 L519.8,233.8 L519.8,232.7 L519.8,232.6 L520.0,232.6 L520.0,232.5 L520.0,231.9 L522.4,231.9 L522.4,231.3 L522.4,230.5 L525.5,230.5 L525.5,229.8 L525.5,229.1 L528.3,229.1 L528.3,228.3 L528.3,227.9 L530.0,227.9 L530.0,227.5 L530.0,226.8 L531.8,226.8 L531.8,226.2 L531.8,225.1 L534.6,225.1 L534.6,224.0 L534.6,223.1 L537.1,223.1 L537.1,222.2 L537.1,221.1 L540.0,221.1 L540.0,220.0 L540.0,219.2 L543.3,219.2 L543.3,218.4 L543.3,217.8 L545.7,217.8 L545.7,217.2 L545.7,216.3 L549.0,216.3 L549.0,215.5 L549.0,215.3 L550.0,215.3 L550.0,215.0 L550.0,214.1 L551.6,214.1 L551.6,213.2 L551.6,212.2 L553.2,212.2 L553.2,211.3 L553.2,210.6 L554.4,210.6 L554.4,209.9 L554.4,208.9 L556.1,208.9 L556.1,207.9 L556.1,207.1 L557.5,207.1 L557.5,206.3 L557.5,205.9 L559.2,205.9 L559.2,205.4 L559.2,204.8 L561.9,204.8 L561.9,204.1 L561.9,203.7 L563.6,203.7 L563.6,203.3 L563.6,202.8 L565.2,202.8 L565.2,202.4 L565.2,201.9 L567.5,201.9 L567.5,201.3 L567.5,200.7 L569.4,200.7 L569.4,200.1 L569.4,199.6 L570.9,199.6 L570.9,199.2 L570.9,198.6 L572.6,198.6 L572.6,198.1 L572.6,197.3 L575.2,197.3 L575.2,196.4 L575.2,195.7 L577.5,195.7 L577.5,195.0 L577.5,194.6 L579.0,194.6 L579.0,194.2 L579.0,193.8 L581.0,193.8 L581.0,193.3 L581.0,192.4 L584.4,192.4 L584.4,191.6 L584.4,191.1 L586.4,191.1 L586.4,190.6 L586.4,189.9 L589.0,189.9 L589.0,189.3 L589.0,189.0 L590.0,189.0 L590.0,188.8 L590.0,188.3 L593.3,188.3 L593.3,187.8 L593.3,187.4 L596.2,187.4 L596.2,186.9 L596.2,186.4 L599.5,186.4 L599.5,185.9 L599.5,185.5 L602.2,185.5 L602.2,185.1 L602.2,185.0 L602.5,185.0 L602.5,185.0 L602.5,184.6 L604.4,184.6 L604.4,184.2 L604.4,183.9 L606.2,183.9 L606.2,183.5 L606.2,182.9 L609.4,182.9 L609.4,182.2 L609.4,181.9 L611.2,181.9 L611.2,181.5 L611.2,181.2 L612.8,181.2 L612.8,180.9 L612.8,180.4 L615.0,180.4 L615.0,180.0 L615.0,179.8 L617.1,179.8 L617.1,179.6 L617.1,179.2 L620.7,179.2 L620.7,178.8 L620.7,178.6 L622.5,178.6 L622.5,178.4 L622.5,178.1 L625.2,178.1 L625.2,177.8 L625.2,177.6 L627.3,177.6 L627.3,177.4 L627.3,177.0 L630.8,177.0 L630.8,176.7 L630.8,176.5 L632.5,176.5 L632.5,176.3 L632.5,175.6 L635.3,175.6 L635.3,174.9 L635.3,174.1 L638.3,174.1 L638.3,173.4 L638.3,172.6 L641.6,172.6 L641.6,171.7 L641.6,171.2 L643.7,171.2 L643.7,170.6 L643.7,170.3 L645.0,170.3 L645.0,170.0 L645.0,169.5 L647.5,169.5 L647.5,169.0 L647.5,168.6 L649.3,168.6 L649.3,168.3 L649.3,167.6 L652.6,167.6 L652.6,167.0 L652.6,166.4 L655.4,166.4 L655.4,165.9 L655.4,165.4 L657.5,165.4 L657.5,165.0 L657.5,164.7 L659.6,164.7 L659.6,164.4 L659.6,164.0 L662.3,164.0 L662.3,163.6 L662.3,163.2 L664.9,163.2 L664.9,162.8 L664.9,162.3 L668.1,162.3 L668.1,161.9 L668.1,161.6 L669.9,161.6 L669.9,161.3 L669.9,161.3 L670.0,161.3 L670.0,161.3 L670.0,160.9 L672.6,160.9 L672.6,160.4 L672.6,160.1 L674.4,160.1 L674.4,159.8 L674.4,159.4 L677.1,159.4 L677.1,158.9 L677.1,158.4 L680.3,158.4 L680.3,157.9 L680.3,157.5 L682.8,157.5 L682.8,157.0 L682.8,156.7 L685.0,156.7 L685.0,156.3 L685.0,155.7 L687.8,155.7 L687.8,155.1 L687.8,154.7 L689.8,154.7 L689.8,154.3 L689.8,153.8 L692.1,153.8 L692.1,153.3 L692.1,152.6 L695.7,152.6 L695.7,151.8 L695.7,151.3 L697.9,151.3 L697.9,150.9 L697.9,150.4 L700.0,150.4 L700.0,150.0 L700.0,149.8 L701.8,149.8 L701.8,149.6 L701.8,149.3 L703.9,149.3 L703.9,149.0 L703.9,148.8 L705.9,148.8 L705.9,148.5 L705.9,148.1 L709.6,148.1 L709.6,147.6 L709.6,147.2 L712.8,147.2 L712.8,146.8 L712.8,146.6 L715.0,146.6 L715.0,146.3 L715.0,145.8 L718.8,145.8 L718.8,145.3 L718.8,145.0 L721.7,145.0 L721.7,144.6 L721.7,144.1 L725.4,144.1 L725.4,143.7 L725.4,143.3 L728.2,143.3 L728.2,143.0 L728.2,142.7 L730.0,142.7 L730.0,142.5 L730.0,142.0 L733.7,142.0 L733.7,141.6 L733.7,141.1 L737.3,141.1 L737.3,140.7 L737.3,140.2 L741.0,140.2 L741.0,139.8 L741.0,139.5 L743.7,139.5 L743.7,139.1 L743.7,139.0 L745.0,139.0 L745.0,138.8 L745.0,138.4 L747.5,138.4 L747.5,138.1 L747.5,137.5 L751.3,137.5 L751.3,137.0 L751.3,136.5 L754.9,136.5 L754.9,136.0 L754.9,135.7 L757.1,135.7 L757.1,135.3 L757.1,134.9 L760.0,134.9 L760.0,134.5 L760.0,134.3 L762.0,134.3 L762.0,134.0 L762.0,133.8 L763.9,133.8 L763.9,133.6 L763.9,133.2 L767.1,133.2 L767.1,132.8 L767.1,132.6 L769.4,132.6 L769.4,132.3 L769.4,132.0 L772.1,132.0 L772.1,131.7 L772.1,131.3 L775.0,131.3 L775.0,131.0 L775.0,130.8 L776.7,130.8 L776.7,130.7 L776.7,130.3 L780.0,130.3 L780.0,130.0 L780.0,129.8 L782.3,129.8 L782.3,129.6 L782.3,129.3 L784.9,129.3 L784.9,129.1 L784.9,128.9 L787.3,128.9 L787.3,128.6 L787.3,128.6 L788.0,128.6 L788.0,128.5 L788.0,128.0 L791.2,128.0 L791.2,127.5 L791.2,127.2 L793.4,127.2 L793.4,126.8 L793.4,126.6 L795.3,126.6 L795.3,126.3 L795.3,125.9 L797.5,125.9 L797.5,125.6 L797.5,125.4 L800.1,125.4 L800.1,125.3 L800.1,125.2 L801.9,125.2 L801.9,125.1 L801.9,124.9 L803.9,124.9 L803.9,124.8 L803.9,124.6 L807.3,124.6 L807.3,124.4 L807.3,124.3 L810.0,124.3 L810.0,124.1 L810.0,123.8 L813.8,123.8 L813.8,123.5 L813.8,123.1 L817.6,123.1 L817.6,122.8 L817.6,122.5 L821.2,122.5 L821.2,122.2 L821.2,122.0 L823.7,122.0 L823.7,121.8 L823.7,121.6 L825.7,121.6 L825.7,121.5 L825.7,121.3 L828.0,121.3 L828.0,121.1 L828.0,120.9 L830.7,120.9 L830.7,120.7 L830.7,120.6 L833.5,120.6 L833.5,120.4 L833.5,120.2 L836.4,120.2 L836.4,120.0 L836.4,119.8 L838.9,119.8 L838.9,119.7 L838.9,119.6 L840.0,119.6 L840.0,119.5 L840.0,119.3 L842.3,119.3 L842.3,119.1 L842.3,118.9 L845.0,118.9 L845.0,118.6 L845.0,118.3 L848.6,118.3 L848.6,118.0 L848.6,117.7 L852.0,117.7 L852.0,117.4 L852.0,117.2 L854.3,117.2 L854.3,117.0 L854.3,117.0 L854.6,117.0 L854.6,117.0 L854.6,116.6 L858.0,116.6 L858.0,116.3 L858.0,116.1 L859.7,116.1 L859.7,115.9 L859.7,115.7 L861.6,115.7 L861.6,115.5 L861.6,115.3 L864.0,115.3 L864.0,115.0 L864.0,114.7 L866.8,114.7 L866.8,114.5 L866.8,114.3 L868.8,114.3 L868.8,114.1 L868.8,113.9 L870.6,113.9 L870.6,113.8 L870.6,113.6 L872.5,113.6 L872.5,113.4 L872.5,113.3 L875.9,113.3 L875.9,113.2 L875.9,113.1 L878.6,113.1 L878.6,113.1 L878.6,112.9 L882.5,112.9 L882.5,112.8 L882.5,112.7 L885.9,112.7 L885.9,112.6 L885.9,112.6 L886.8,112.6 L886.8,112.6"/>
<path class="cv" stroke="#00cd00" d="M156.3,768.8 L156.3,767.9 L156.4,767.9 L156.4,767.0 L156.4,766.0 L156.5,766.0 L156.5,765.0 L156.5,764.1 L156.5,764.1 L156.5,763.2 L156.5,761.9 L156.6,761.9 L156.6,760.6 L156.6,759.4 L156.7,759.4 L156.7,758.2 L156.7,757.3 L156.8,757.3 L156.8,756.4 L156.8,754.9 L156.9,754.9 L156.9,753.5 L156.9,752.5 L157.0,752.5 L157.0,751.6 L157.0,750.4 L157.1,750.4 L157.1,749.2 L157.1,748.1 L157.2,748.1 L157.2,747.0 L157.2,745.2 L157.4,745.2 L157.4,743.5 L157.4,742.2 L157.5,742.2 L157.5,740.9 L157.5,740.4 L157.5,740.4 L157.5,740.0 L157.5,739.1 L157.8,739.1 L157.8,738.2 L157.8,736.9 L158.2,736.9 L158.2,735.6 L158.2,734.1 L158.6,734.1 L158.6,732.6 L158.6,731.0 L159.1,731.0 L159.1,729.4 L159.1,727.6 L159.7,727.6 L159.7,725.7 L159.7,724.0 L160.2,724.0 L160.2,722.3 L160.2,721.2 L160.5,721.2 L160.5,720.1 L160.5,719.1 L160.8,719.1 L160.8,718.1 L160.8,716.6 L161.3,716.6 L161.3,715.0 L161.3,713.3 L161.9,713.3 L161.9,711.6 L161.9,710.2 L162.4,710.2 L162.4,708.8 L162.4,707.1 L163.1,707.1 L163.1,705.4 L163.1,703.9 L163.6,703.9 L163.6,702.5 L163.6,701.4 L164.0,701.4 L164.0,700.2 L164.0,699.2 L164.4,699.2 L164.4,698.2 L164.4,697.4 L164.7,697.4 L164.7,696.5 L164.7,695.8 L165.0,695.8 L165.0,695.0 L165.0,693.2 L166.0,693.2 L166.0,691.5 L166.0,689.7 L167.0,689.7 L167.0,687.9 L167.0,686.6 L167.8,686.6 L167.8,685.3 L167.8,683.7 L168.7,683.7 L168.7,682.2 L168.7,680.4 L169.7,680.4 L169.7,678.6 L169.7,678.0 L170.0,678.0 L170.0,677.5 L170.0,676.1 L171.0,676.1 L171.0,674.6 L171.0,673.4 L171.8,673.4 L171.8,672.2 L171.8,670.8 L172.7,670.8 L172.7,669.5 L172.7,668.5 L173.4,668.5 L173.4,667.5 L173.4,666.9 L173.8,666.9 L173.8,666.3 L173.8,664.9 L175.2,664.9 L175.2,663.4 L175.2,661.7 L176.9,661.7 L176.9,659.9 L176.9,659.4 L177.5,659.4 L177.5,658.8 L177.5,657.6 L178.3,657.6 L178.3,656.3 L178.3,655.1 L179.0,655.1 L179.0,654.0 L179.0,652.7 L179.8,652.7 L179.8,651.4 L179.8,649.7 L180.8,649.7 L180.8,648.1 L180.8,646.8 L181.6,646.8 L181.6,645.5 L181.6,644.0 L182.5,644.0 L182.5,642.5 L182.5,641.5 L183.1,641.5 L183.1,640.6 L183.1,639.4 L183.7,639.4 L183.7,638.3 L183.7,636.9 L184.5,636.9 L184.5,635.5 L184.5,634.3 L185.2,634.3 L185.2,633.0 L185.2,631.3 L186.2,631.3 L186.2,629.6 L186.2,627.9 L187.2,627.9 L187.2,626.2 L187.2,625.6 L187.5,625.6 L187.5,625.0 L187.5,623.6 L188.6,623.6 L188.6,622.2 L188.6,621.4 L189.3,621.4 L189.3,620.5 L189.3,619.2 L190.4,619.2 L190.4,617.8 L190.4,616.4 L191.5,616.4 L191.5,615.1 L191.5,613.8 L192.5,613.8 L192.5,612.5 L192.5,612.5 L192.5,612.5 L192.5,612.5 L192.5,610.9 L193.5,610.9 L193.5,609.4 L193.5,607.6 L194.5,607.6 L194.5,605.8 L194.5,604.9 L195.1,604.9 L195.1,604.0 L195.1,602.5 L196.0,602.5 L196.0,600.9 L196.0,600.5 L196.3,600.5 L196.3,600.0 L196.3,598.8 L197.9,598.8 L197.9,597.6 L197.9,596.1 L199.9,596.1 L199.9,594.6 L199.9,593.0 L202.1,593.0 L202.1,591.4 L202.1,590.1 L203.8,590.1 L203.8,588.8 L203.8,588.8 L203.8,588.8 L203.8,588.8 L203.8,587.2 L205.6,587.2 L205.6,585.5 L205.6,584.6 L206.7,584.6 L206.7,583.7 L206.7,582.6 L207.9,582.6 L207.9,581.5 L207.9,580.8 L208.8,580.8 L208.8,580.0 L208.8,578.8 L209.4,578.8 L209.4,577.7 L209.4,576.6 L209.9,576.6 L209.9,575.5 L209.9,573.6 L210.8,573.6 L210.8,571.8 L210.8,569.9 L211.7,569.9 L211.7,568.1 L211.7,566.9 L212.3,566.9 L212.3,565.8 L212.3,565.4 L212.5,565.4 L212.5,565.0 L212.5,563.9 L213.2,563.9 L213.2,562.8 L213.2,561.9 L213.8,561.9 L213.8,560.9 L213.8,559.8 L214.5,559.8 L214.5,558.8 L214.5,556.9 L215.6,556.9 L215.6,555.1 L215.6,554.2 L216.2,554.2 L216.2,553.3 L216.2,552.3 L216.8,552.3 L216.8,551.2 L216.8,550.2 L217.5,550.2 L217.5,549.2 L217.5,548.3 L218.0,548.3 L218.0,547.4 L218.0,546.2 L218.8,546.2 L218.8,545.0 L218.8,543.6 L220.6,543.6 L220.6,542.2 L220.6,540.6 L222.4,540.6 L222.4,539.1 L222.4,537.8 L224.1,537.8 L224.1,536.5 L224.1,535.8 L225.0,535.8 L225.0,535.0 L225.0,534.3 L225.9,534.3 L225.9,533.5 L225.9,532.6 L227.1,532.6 L227.1,531.6 L227.1,529.9 L229.0,529.9 L229.0,528.3 L229.0,527.5 L230.0,527.5 L230.0,526.7 L230.0,525.7 L231.1,525.7 L231.1,524.8 L231.1,523.6 L232.5,523.6 L232.5,522.5 L232.5,521.4 L233.2,521.4 L233.2,520.3 L233.2,519.0 L234.1,519.0 L234.1,517.6 L234.1,516.7 L234.7,516.7 L234.7,515.9 L234.7,514.8 L235.4,514.8 L235.4,513.8 L235.4,512.0 L236.6,512.0 L236.6,510.2 L236.6,509.2 L237.2,509.2 L237.2,508.3 L237.2,507.9 L237.5,507.9 L237.5,507.5 L237.5,506.7 L238.7,506.7 L238.7,505.8 L238.7,504.2 L241.0,504.2 L241.0,502.7 L241.0,501.4 L242.9,501.4 L242.9,500.1 L242.9,499.4 L243.8,499.4 L243.8,498.8 L243.8,498.1 L245.2,498.1 L245.2,497.4 L245.2,496.7 L246.5,496.7 L246.5,496.1 L246.5,494.9 L248.9,494.9 L248.9,493.7 L248.9,493.0 L250.3,493.0 L250.3,492.3 L250.3,491.8 L251.3,491.8 L251.3,491.3 L251.3,490.4 L254.3,490.4 L254.3,489.5 L254.3,488.5 L257.4,488.5 L257.4,487.6 L257.4,487.5 L257.5,487.5 L257.5,487.5 L257.5,485.7 L258.9,485.7 L258.9,483.9 L258.9,482.6 L259.9,482.6 L259.9,481.2 L259.9,480.0 L260.8,480.0 L260.8,478.9 L260.8,478.2 L261.3,478.2 L261.3,477.5 L261.3,476.4 L262.5,476.4 L262.5,475.3 L262.5,473.6 L264.4,473.6 L264.4,471.9 L264.4,470.9 L265.5,470.9 L265.5,469.8 L265.5,469.0 L266.5,469.0 L266.5,468.1 L266.5,467.2 L267.5,467.2 L267.5,466.4 L267.5,466.3 L267.5,466.3 L267.5,466.3 L267.5,465.2 L268.5,465.2 L268.5,464.0 L268.5,462.3 L269.9,462.3 L269.9,460.6 L269.9,459.8 L270.7,459.8 L270.7,458.9 L270.7,457.9 L271.5,457.9 L271.5,457.0 L271.5,455.2 L273.0,455.2 L273.0,453.5 L273.0,451.7 L274.5,451.7 L274.5,449.9 L274.5,449.3 L275.0,449.3 L275.0,448.8 L275.0,447.8 L276.1,447.8 L276.1,446.9 L276.1,445.8 L277.4,445.8 L277.4,444.8 L277.4,443.1 L279.4,443.1 L279.4,441.5 L279.4,440.3 L280.8,440.3 L280.8,439.1 L280.8,437.7 L282.5,437.7 L282.5,436.3 L282.5,436.3 L282.5,436.3 L282.5,436.3 L282.5,435.7 L283.6,435.7 L283.6,435.0 L283.6,434.1 L285.3,434.1 L285.3,433.2 L285.3,431.9 L287.5,431.9 L287.5,430.7 L287.5,429.4 L289.8,429.4 L289.8,428.1 L289.8,427.0 L291.7,427.0 L291.7,425.9 L291.7,425.4 L292.5,425.4 L292.5,425.0 L292.5,424.1 L294.7,424.1 L294.7,423.1 L294.7,422.2 L296.7,422.2 L296.7,421.4 L296.7,420.4 L298.9,420.4 L298.9,419.5 L298.9,418.3 L301.5,418.3 L301.5,417.1 L301.5,416.7 L302.5,416.7 L302.5,416.3 L302.5,415.0 L304.1,415.0 L304.1,413.7 L304.1,412.1 L306.0,412.1 L306.0,410.5 L306.0,409.0 L307.9,409.0 L307.9,407.5 L307.9,406.6 L309.0,406.6 L309.0,405.7 L309.0,404.1 L311.0,404.1 L311.0,402.4 L311.0,401.2 L312.5,401.2 L312.5,400.0 L312.5,399.3 L314.1,399.3 L314.1,398.7 L314.1,398.0 L315.8,398.0 L315.8,397.2 L315.8,396.6 L317.5,396.6 L317.5,395.9 L317.5,395.3 L318.9,395.3 L318.9,394.7 L318.9,394.3 L320.0,394.3 L320.0,393.8 L320.0,393.0 L322.0,393.0 L322.0,392.2 L322.0,391.1 L324.9,391.1 L324.9,389.9 L324.9,389.4 L326.3,389.4 L326.3,388.8 L326.3,388.2 L327.5,388.2 L327.5,387.6 L327.5,386.3 L330.1,386.3 L330.1,385.0 L330.1,383.8 L332.5,383.8 L332.5,382.5 L332.5,381.3 L335.0,381.3 L335.0,380.0 L335.0,379.1 L337.6,379.1 L337.6,378.1 L337.6,377.3 L340.0,377.3 L340.0,376.5 L340.0,375.5 L342.7,375.5 L342.7,374.5 L342.7,374.2 L343.8,374.2 L343.8,373.8 L343.8,372.5 L345.1,372.5 L345.1,371.2 L345.1,370.0 L346.3,370.0 L346.3,368.8 L346.3,367.9 L347.2,367.9 L347.2,367.0 L347.2,365.7 L348.5,365.7 L348.5,364.3 L348.5,363.3 L349.6,363.3 L349.6,362.2 L349.6,360.9 L350.9,360.9 L350.9,359.7 L350.9,359.2 L351.3,359.2 L351.3,358.8 L351.3,357.9 L352.8,357.9 L352.8,356.9 L352.8,355.9 L354.3,355.9 L354.3,354.9 L354.3,353.7 L356.1,353.7 L356.1,352.5 L356.1,351.0 L358.5,351.0 L358.5,349.5 L358.5,348.5 L360.0,348.5 L360.0,347.5 L360.0,346.3 L362.7,346.3 L362.7,345.1 L362.7,344.0 L365.4,344.0 L365.4,342.8 L365.4,342.0 L367.2,342.0 L367.2,341.3 L367.2,340.0 L370.0,340.0 L370.0,338.8 L370.0,338.0 L371.6,338.0 L371.6,337.1 L371.6,336.4 L372.9,336.4 L372.9,335.7 L372.9,335.3 L373.8,335.3 L373.8,334.8 L373.8,333.5 L375.9,333.5 L375.9,332.2 L375.9,331.2 L377.4,331.2 L377.4,330.3 L377.4,329.1 L379.3,329.1 L379.3,327.8 L379.3,326.9 L380.8,326.9 L380.8,326.0 L380.8,324.5 L383.1,324.5 L383.1,323.0 L383.1,321.9 L384.8,321.9 L384.8,320.9 L384.8,319.8 L386.5,319.8 L386.5,318.7 L386.5,318.1 L387.5,318.1 L387.5,317.5 L387.5,316.2 L390.0,316.2 L390.0,314.8 L390.0,313.4 L392.6,313.4 L392.6,311.9 L392.6,310.9 L394.5,310.9 L394.5,309.8 L394.5,308.8 L396.3,308.8 L396.3,307.9 L396.3,306.7 L398.4,306.7 L398.4,305.6 L398.4,304.9 L399.6,304.9 L399.6,304.2 L399.6,304.0 L400.0,304.0 L400.0,303.8 L400.0,302.6 L402.7,302.6 L402.7,301.4 L402.7,300.3 L405.3,300.3 L405.3,299.2 L405.3,298.6 L406.6,298.6 L406.6,298.0 L406.6,296.8 L409.3,296.8 L409.3,295.6 L409.3,295.3 L410.0,295.3 L410.0,295.0 L410.0,293.4 L412.2,293.4 L412.2,291.8 L412.2,290.7 L413.5,290.7 L413.5,289.7 L413.5,288.8 L414.8,288.8 L414.8,287.9 L414.8,286.7 L416.4,286.7 L416.4,285.5 L416.4,284.6 L417.5,284.6 L417.5,283.8 L417.5,283.0 L419.6,283.0 L419.6,282.2 L419.6,281.1 L422.5,281.1 L422.5,280.0 L422.5,279.1 L425.1,279.1 L425.1,278.1 L425.1,277.3 L427.1,277.3 L427.1,276.6 L427.1,276.4 L427.5,276.4 L427.5,276.3 L427.5,275.4 L429.7,275.4 L429.7,274.5 L429.7,273.7 L431.6,273.7 L431.6,272.8 L431.6,272.0 L433.5,272.0 L433.5,271.2 L433.5,270.6 L435.0,270.6 L435.0,270.0 L435.0,268.8 L437.8,268.8 L437.8,267.7 L437.8,266.7 L440.1,266.7 L440.1,265.8 L440.1,265.1 L441.6,265.1 L441.6,264.5 L441.6,263.8 L443.3,263.8 L443.3,263.1 L443.3,262.3 L445.2,262.3 L445.2,261.5 L445.2,260.5 L447.6,260.5 L447.6,259.5 L447.6,258.9 L449.1,258.9 L449.1,258.2 L449.1,257.9 L450.0,257.9 L450.0,257.5 L450.0,256.9 L452.0,256.9 L452.0,256.2 L452.0,255.6 L454.0,255.6 L454.0,255.0 L454.0,254.6 L455.5,254.6 L455.5,254.1 L455.5,253.3 L457.9,253.3 L457.9,252.6 L457.9,251.9 L460.0,251.9 L460.0,251.3 L460.0,250.3 L462.2,250.3 L462.2,249.4 L462.2,248.3 L464.7,248.3 L464.7,247.2 L464.7,246.0 L467.3,246.0 L467.3,244.9 L467.3,243.7 L470.0,243.7 L470.0,242.5 L470.0,242.5 L470.0,242.5 L470.0,242.5 L470.0,242.2 L472.6,242.2 L472.6,241.9 L472.6,241.5 L475.7,241.5 L475.7,241.1 L475.7,240.8 L477.6,240.8 L477.6,240.6 L477.6,240.3 L480.0,240.3 L480.0,240.0 L480.0,239.2 L481.9,239.2 L481.9,238.3 L481.9,237.4 L484.0,237.4 L484.0,236.5 L484.0,235.3 L486.7,235.3 L486.7,234.1 L486.7,233.4 L488.5,233.4 L488.5,232.6 L488.5,232.0 L490.0,232.0 L490.0,231.3 L490.0,230.9 L493.4,230.9 L493.4,230.4 L493.4,230.1 L496.4,230.1 L496.4,229.7 L496.4,229.5 L498.2,229.5 L498.2,229.3 L498.2,229.0 L499.9,229.0 L499.9,228.8 L499.9,228.8 L500.0,228.8 L500.0,228.8 L500.0,228.3 L501.4,228.3 L501.4,227.8 L501.4,226.8 L504.3,226.8 L504.3,225.8 L504.3,225.2 L506.0,225.2 L506.0,224.6 L506.0,223.9 L507.9,223.9 L507.9,223.3 L507.9,222.5 L510.0,222.5 L510.0,221.8 L510.0,221.0 L512.3,221.0 L512.3,220.2 L512.3,220.1 L512.5,220.1 L512.5,220.0 L512.5,219.1 L515.0,219.1 L515.0,218.1 L515.0,217.2 L517.5,217.2 L517.5,216.3 L517.5,215.5 L519.6,215.5 L519.6,214.7 L519.6,214.1 L521.1,214.1 L521.1,213.5 L521.1,213.0 L522.5,213.0 L522.5,212.5 L522.5,211.4 L524.8,211.4 L524.8,210.2 L524.8,209.6 L526.1,209.6 L526.1,208.9 L526.1,208.0 L528.0,208.0 L528.0,207.0 L528.0,205.8 L530.4,205.8 L530.4,204.6 L530.4,203.6 L532.5,203.6 L532.5,202.5 L532.5,202.2 L534.3,202.2 L534.3,202.0 L534.3,201.7 L535.9,201.7 L535.9,201.5 L535.9,201.1 L538.5,201.1 L538.5,200.7 L538.5,200.3 L541.0,200.3 L541.0,200.0 L541.0,199.4 L544.6,199.4 L544.6,198.9 L544.6,198.9 L545.0,198.9 L545.0,198.8 L545.0,198.3 L547.2,198.3 L547.2,197.7 L547.2,197.1 L549.5,197.1 L549.5,196.5 L549.5,195.9 L552.2,195.9 L552.2,195.2 L552.2,194.4 L555.4,194.4 L555.4,193.5 L555.4,193.1 L557.3,193.1 L557.3,192.6 L557.3,192.5 L557.5,192.5 L557.5,192.5 L557.5,192.2 L559.3,192.2 L559.3,191.9 L559.3,191.4 L562.2,191.4 L562.2,190.8 L562.2,190.5 L563.8,190.5 L563.8,190.3 L563.8,189.6 L567.4,189.6 L567.4,189.0 L567.4,188.5 L570.1,188.5 L570.1,188.0 L570.1,187.5 L572.9,187.5 L572.9,187.0 L572.9,186.7 L574.7,186.7 L574.7,186.4 L574.7,186.4 L575.0,186.4 L575.0,186.3 L575.0,185.5 L577.3,185.5 L577.3,184.8 L577.3,183.8 L580.3,183.8 L580.3,182.8 L580.3,182.0 L582.7,182.0 L582.7,181.2 L582.7,180.5 L584.6,180.5 L584.6,179.9 L584.6,178.8 L587.8,178.8 L587.8,177.7 L587.8,177.0 L590.0,177.0 L590.0,176.3 L590.0,175.6 L592.5,175.6 L592.5,174.9 L592.5,174.3 L594.3,174.3 L594.3,173.8 L594.3,173.2 L596.3,173.2 L596.3,172.6 L596.3,171.6 L599.5,171.6 L599.5,170.7 L599.5,170.2 L601.2,170.2 L601.2,169.7 L601.2,169.0 L603.7,169.0 L603.7,168.3 L603.7,167.9 L605.0,167.9 L605.0,167.5 L605.0,167.0 L607.2,167.0 L607.2,166.4 L607.2,165.6 L610.3,165.6 L610.3,164.9 L610.3,164.1 L613.6,164.1 L613.6,163.2 L613.6,162.4 L616.8,162.4 L616.8,161.6 L616.8,161.5 L617.5,161.5 L617.5,161.3 L617.5,161.0 L619.5,161.0 L619.5,160.6 L619.5,160.3 L621.2,160.3 L621.2,160.1 L621.2,159.6 L623.8,159.6 L623.8,159.2 L623.8,158.8 L626.0,158.8 L626.0,158.5 L626.0,158.1 L628.0,158.1 L628.0,157.8 L628.0,157.2 L631.5,157.2 L631.5,156.6 L631.5,156.5 L632.5,156.5 L632.5,156.3 L632.5,155.8 L635.9,155.8 L635.9,155.3 L635.9,154.8 L639.5,154.8 L639.5,154.3 L639.5,154.0 L641.4,154.0 L641.4,153.8 L641.4,153.2 L645.0,153.2 L645.0,152.7 L645.0,152.4 L647.4,152.4 L647.4,152.0 L647.4,151.7 L649.5,151.7 L649.5,151.4 L649.5,151.4 L650.0,151.4 L650.0,151.3 L650.0,151.1 L651.7,151.1 L651.7,150.8 L651.7,150.4 L654.4,150.4 L654.4,150.0 L654.4,149.7 L656.8,149.7 L656.8,149.3 L656.8,148.9 L660.3,148.9 L660.3,148.4 L660.3,147.9 L663.7,147.9 L663.7,147.4 L663.7,147.1 L665.4,147.1 L665.4,146.9 L665.4,146.6 L667.5,146.6 L667.5,146.3 L667.5,146.0 L670.0,146.0 L670.0,145.8 L670.0,145.5 L672.0,145.5 L672.0,145.3 L672.0,145.1 L674.2,145.1 L674.2,144.8 L674.2,144.6 L676.4,144.6 L676.4,144.4 L676.4,144.0 L679.6,144.0 L679.6,143.7 L679.6,143.4 L682.0,143.4 L682.0,143.2 L682.0,143.0 L683.9,143.0 L683.9,142.7 L683.9,142.6 L685.0,142.6 L685.0,142.5 L685.0,141.9 L687.4,141.9 L687.4,141.3 L687.4,140.7 L690.0,140.7 L690.0,140.0 L690.0,139.5 L692.0,139.5 L692.0,139.0 L692.0,138.3 L694.9,138.3 L694.9,137.6 L694.9,137.1 L696.9,137.1 L696.9,136.6 L696.9,136.5 L697.5,136.5 L697.5,136.3 L697.5,136.1 L700.5,136.1 L700.5,135.9 L700.5,135.7 L702.6,135.7 L702.6,135.6 L702.6,135.3 L705.9,135.3 L705.9,135.1 L705.9,134.9 L708.4,134.9 L708.4,134.7 L708.4,134.5 L711.3,134.5 L711.3,134.3 L711.3,134.1 L714.3,134.1 L714.3,133.9 L714.3,133.9 L715.0,133.9 L715.0,133.8 L715.0,133.6 L717.7,133.6 L717.7,133.5 L717.7,133.4 L719.4,133.4 L719.4,133.2 L719.4,133.0 L722.9,133.0 L722.9,132.8 L722.9,132.6 L726.4,132.6 L726.4,132.4 L726.4,132.2 L729.2,132.2 L729.2,132.0 L729.2,131.8 L732.1,131.8 L732.1,131.7 L732.1,131.5 L734.4,131.5 L734.4,131.4 L734.4,131.3 L735.0,131.3 L735.0,131.3 L735.0,131.0 L738.2,131.0 L738.2,130.8 L738.2,130.6 L740.3,130.6 L740.3,130.4 L740.3,130.1 L743.8,130.1 L743.8,129.8 L743.8,129.5 L747.6,129.5 L747.6,129.2 L747.6,129.0 L750.0,129.0 L750.0,128.8 L750.0,128.5 L753.9,128.5 L753.9,128.2 L753.9,128.0 L756.6,128.0 L756.6,127.8 L756.6,127.7 L758.7,127.7 L758.7,127.5 L758.7,127.3 L761.9,127.3 L761.9,127.0 L761.9,126.8 L764.3,126.8 L764.3,126.7 L764.3,126.4 L767.6,126.4 L767.6,126.2 L767.6,126.0 L770.0,126.0 L770.0,125.8 L770.0,125.6 L771.9,125.6 L771.9,125.5 L771.9,125.3 L774.7,125.3 L774.7,125.0 L774.7,124.8 L778.3,124.8 L778.3,124.5 L778.3,124.3 L781.0,124.3 L781.0,124.1 L781.0,123.8 L783.8,123.8 L783.8,123.6 L783.8,123.3 L787.4,123.3 L787.4,123.0 L787.4,122.8 L790.1,122.8 L790.1,122.6 L790.1,122.5 L792.0,122.5 L792.0,122.3 L792.0,122.1 L795.0,122.1 L795.0,121.9 L795.0,121.7 L798.5,121.7 L798.5,121.4 L798.5,121.3 L800.6,121.3 L800.6,121.2 L800.6,121.0 L802.4,121.0 L802.4,120.9 L802.4,120.7 L805.8,120.7 L805.8,120.5 L805.8,120.3 L808.7,120.3 L808.7,120.1 L808.7,119.9 L811.0,119.9 L811.0,119.8 L811.0,119.5 L814.7,119.5 L814.7,119.3 L814.7,119.0 L818.3,119.0 L818.3,118.8 L818.3,118.6 L821.2,118.6 L821.2,118.4 L821.2,118.2 L825.0,118.2 L825.0,117.9 L825.0,117.7 L828.0,117.7 L828.0,117.5 L828.0,117.3 L831.3,117.3 L831.3,117.1 L831.3,117.0 L833.6,117.0 L833.6,116.8 L833.6,116.7 L835.3,116.7 L835.3,116.6 L835.3,116.4 L838.5,116.4 L838.5,116.3 L838.5,116.1 L841.8,116.1 L841.8,115.9 L841.8,115.7 L844.3,115.7 L844.3,115.6 L844.3,115.5 L845.0,115.5 L845.0,115.5 L845.0,115.3 L847.9,115.3 L847.9,115.1 L847.9,115.0 L850.2,115.0 L850.2,114.9 L850.2,114.7 L853.4,114.7 L853.4,114.5 L853.4,114.3 L856.3,114.3 L856.3,114.1 L856.3,114.0 L858.8,114.0 L858.8,113.8 L858.8,113.7 L860.7,113.7 L860.7,113.6 L860.7,113.4 L863.6,113.4 L863.6,113.2 L863.6,113.2 L864.0,113.2 L864.0,113.2 L864.0,113.0 L867.3,113.0 L867.3,112.8 L867.3,112.7 L869.3,112.7 L869.3,112.5 L869.3,112.4 L871.9,112.4 L871.9,112.2 L871.9,112.1 L874.0,112.1 L874.0,111.9 L874.0,111.9 L875.0,111.9 L875.0,111.8 L875.0,111.7 L878.0,111.7 L878.0,111.6 L878.0,111.5 L879.9,111.5 L879.9,111.5 L879.9,111.4 L881.7,111.4 L881.7,111.4 L881.7,111.3 L884.4,111.3 L884.4,111.2 L884.4,111.1 L886.6,111.1 L886.6,111.0 L886.6,111.0 L887.0,111.0 L887.0,111.0"/>
<rect class="ax" x="115.4" y="84.8" width="812.4" height="710.0"/>
<line class="ax" x1="156.4" y1="794.8" x2="156.4" y2="812.8"/>
<line class="ax" x1="115.4" y1="768.5" x2="97.4" y2="768.5"/>
<text class="t" x="156.4" y="856.5" text-anchor="middle">0.0</text>
<text class="t" transform="translate(74.8,768.5) rotate(-90)" text-anchor="middle">0.0</text>
<line class="ax" x1="302.4" y1="794.8" x2="302.4" y2="812.8"/>
<line class="ax" x1="115.4" y1="636.9" x2="97.4" y2="636.9"/>
<text class="t" x="302.4" y="856.5" text-anchor="middle">0.2</text>
<text class="t" transform="translate(74.8,636.9) rotate(-90)" text-anchor="middle">0.2</text>
<line class="ax" x1="448.4" y1="794.8" x2="448.4" y2="812.8"/>
<line class="ax" x1="115.4" y1="505.4" x2="97.4" y2="505.4"/>
<text class="t" x="448.4" y="856.5" text-anchor="middle">0.4</text>
<text class="t" transform="translate(74.8,505.4) rotate(-90)" text-anchor="middle">0.4</text>
<line class="ax" x1="594.5" y1="794.8" x2="594.5" y2="812.8"/>
<line class="ax" x1="115.4" y1="373.8" x2="97.4" y2="373.8"/>
<text class="t" x="594.5" y="856.5" text-anchor="middle">0.6</text>
<text class="t" transform="translate(74.8,373.8) rotate(-90)" text-anchor="middle">0.6</text>
<line class="ax" x1="740.5" y1="794.8" x2="740.5" y2="812.8"/>
<line class="ax" x1="115.4" y1="242.3" x2="97.4" y2="242.3"/>
<text class="t" x="740.5" y="856.5" text-anchor="middle">0.8</text>
<text class="t" transform="translate(74.8,242.3) rotate(-90)" text-anchor="middle">0.8</text>
<line class="ax" x1="886.5" y1="794.8" x2="886.5" y2="812.8"/>
<line class="ax" x1="115.4" y1="110.7" x2="97.4" y2="110.7"/>
<text class="t" x="886.5" y="856.5" text-anchor="middle">1.0</text>
<text class="t" transform="translate(74.8,110.7) rotate(-90)" text-anchor="middle">1.0</text>
<text class="t" x="521.6" y="907.4" text-anchor="middle">1 − Specificity</text>
<text class="t" transform="translate(23.7,439.8) rotate(-90)" text-anchor="middle">Sensitivity</text>
<text class="ttl" x="533" y="26.3" text-anchor="middle">ROC curve for HTN</text>
<text class="t" x="724.2" y="539.7">AUC</text>
<line x1="619" y1="573.8" x2="672.1" y2="573.8" stroke="#00cd00" stroke-width="1.6"/>
<text class="t" x="697.2" y="583.6">TyG-BMI</text>
<text class="t" x="817.2" y="583.6">: 0.75</text>
<line x1="619" y1="607.7" x2="672.1" y2="607.7" stroke="#ff0000" stroke-width="1.6"/>
<text class="t" x="697.2" y="617.5">BMI</text>
<text class="t" x="820.9" y="617.5">: 0.73</text>
<line x1="619" y1="642.2" x2="672.1" y2="642.2" stroke="#000000" stroke-width="1.6"/>
<text class="t" x="697.2" y="652">TyG index</text>
<text class="t" x="826.4" y="652">: 0.70</text>
</g>
<g id="panelR">
<clipPath id="clipR"><rect x="1087.0" y="85.3" width="814.0" height="711.7"/></clipPath>
<line x1="1087.0" y1="807.2" x2="1901.0" y2="74.6" stroke="#969696" stroke-width="1.6" clip-path="url(#clipR)"/>
<path class="cv" stroke="#000000" d="M1128.8,767.0 L1128.8,766.3 L1129.2,766.3 L1129.2,765.6 L1129.2,764.9 L1129.6,764.9 L1129.6,764.3 L1129.6,763.3 L1130.1,763.3 L1130.1,762.3 L1130.1,761.0 L1130.8,761.0 L1130.8,759.7 L1130.8,758.5 L1131.5,758.5 L1131.5,757.2 L1131.5,756.2 L1132.0,756.2 L1132.0,755.3 L1132.0,754.4 L1132.5,754.4 L1132.5,753.5 L1132.5,752.9 L1132.9,752.9 L1132.9,752.2 L1132.9,751.4 L1133.3,751.4 L1133.3,750.6 L1133.3,749.8 L1133.8,749.8 L1133.8,749.0 L1133.8,747.7 L1134.5,747.7 L1134.5,746.4 L1134.5,745.7 L1134.8,745.7 L1134.8,745.1 L1134.8,744.8 L1135.0,744.8 L1135.0,744.5 L1135.0,743.6 L1135.7,743.6 L1135.7,742.7 L1135.7,741.8 L1136.3,741.8 L1136.3,740.9 L1136.3,740.1 L1136.9,740.1 L1136.9,739.3 L1136.9,738.1 L1137.8,738.1 L1137.8,736.8 L1137.8,736.1 L1138.3,736.1 L1138.3,735.4 L1138.3,734.4 L1139.0,734.4 L1139.0,733.4 L1139.0,732.4 L1139.7,732.4 L1139.7,731.5 L1139.7,730.8 L1140.2,730.8 L1140.2,730.0 L1140.2,729.3 L1140.7,729.3 L1140.7,728.6 L1140.7,727.8 L1141.3,727.8 L1141.3,727.0 L1141.3,725.9 L1142.2,725.9 L1142.2,724.7 L1142.2,723.6 L1143.1,723.6 L1143.1,722.5 L1143.1,721.3 L1144.2,721.3 L1144.2,720.1 L1144.2,719.5 L1144.7,719.5 L1144.7,718.8 L1144.7,717.8 L1145.6,717.8 L1145.6,716.7 L1145.6,715.6 L1146.5,715.6 L1146.5,714.5 L1146.5,713.7 L1147.1,713.7 L1147.1,713.0 L1147.1,712.5 L1147.5,712.5 L1147.5,712.0 L1147.5,710.7 L1148.7,710.7 L1148.7,709.5 L1148.7,708.7 L1149.4,708.7 L1149.4,707.9 L1149.4,706.8 L1150.4,706.8 L1150.4,705.7 L1150.4,705.1 L1151.0,705.1 L1151.0,704.4 L1151.0,703.4 L1152.0,703.4 L1152.0,702.4 L1152.0,701.6 L1152.7,701.6 L1152.7,700.9 L1152.7,700.0 L1153.5,700.0 L1153.5,699.0 L1153.5,698.2 L1154.3,698.2 L1154.3,697.4 L1154.3,696.6 L1155.0,696.6 L1155.0,695.8 L1155.0,694.7 L1156.0,694.7 L1156.0,693.6 L1156.0,692.7 L1156.8,692.7 L1156.8,691.8 L1156.8,690.8 L1157.8,690.8 L1157.8,689.7 L1157.8,688.8 L1158.6,688.8 L1158.6,688.0 L1158.6,686.9 L1159.6,686.9 L1159.6,685.7 L1159.6,685.0 L1160.3,685.0 L1160.3,684.3 L1160.3,683.3 L1161.1,683.3 L1161.1,682.4 L1161.1,682.2 L1161.3,682.2 L1161.3,682.0 L1161.3,681.2 L1162.3,681.2 L1162.3,680.5 L1162.3,679.9 L1163.0,679.9 L1163.0,679.4 L1163.0,678.8 L1163.7,678.8 L1163.7,678.1 L1163.7,677.2 L1164.9,677.2 L1164.9,676.3 L1164.9,675.6 L1165.8,675.6 L1165.8,675.0 L1165.8,673.9 L1167.1,673.9 L1167.1,672.9 L1167.1,672.1 L1168.1,672.1 L1168.1,671.2 L1168.1,670.1 L1169.6,670.1 L1169.6,668.9 L1169.6,668.6 L1170.0,668.6 L1170.0,668.3 L1170.0,667.2 L1171.0,667.2 L1171.0,666.2 L1171.0,665.3 L1171.7,665.3 L1171.7,664.5 L1171.7,663.9 L1172.3,663.9 L1172.3,663.4 L1172.3,662.4 L1173.1,662.4 L1173.1,661.5 L1173.1,660.4 L1174.1,660.4 L1174.1,659.3 L1174.1,658.1 L1175.3,658.1 L1175.3,656.9 L1175.3,656.2 L1175.9,656.2 L1175.9,655.5 L1175.9,654.8 L1176.5,654.8 L1176.5,654.2 L1176.5,653.1 L1177.5,653.1 L1177.5,652.0 L1177.5,650.9 L1178.6,650.9 L1178.6,649.9 L1178.6,649.0 L1179.6,649.0 L1179.6,648.2 L1179.6,647.1 L1180.7,647.1 L1180.7,646.1 L1180.7,645.4 L1181.4,645.4 L1181.4,644.8 L1181.4,643.9 L1182.3,643.9 L1182.3,643.0 L1182.3,642.0 L1183.4,642.0 L1183.4,641.0 L1183.4,640.0 L1184.4,640.0 L1184.4,639.0 L1184.4,638.4 L1185.1,638.4 L1185.1,637.8 L1185.1,637.1 L1185.8,637.1 L1185.8,636.5 L1185.8,635.5 L1186.8,635.5 L1186.8,634.6 L1186.8,633.9 L1187.5,633.9 L1187.5,633.3 L1187.5,632.7 L1188.2,632.7 L1188.2,632.1 L1188.2,631.6 L1188.9,631.6 L1188.9,631.1 L1188.9,630.5 L1189.6,630.5 L1189.6,629.9 L1189.6,628.9 L1190.9,628.9 L1190.9,627.8 L1190.9,627.0 L1191.8,627.0 L1191.8,626.3 L1191.8,625.4 L1192.8,625.4 L1192.8,624.6 L1192.8,623.4 L1194.3,623.4 L1194.3,622.2 L1194.3,621.3 L1195.4,621.3 L1195.4,620.4 L1195.4,619.7 L1196.3,619.7 L1196.3,619.0 L1196.3,618.0 L1197.5,618.0 L1197.5,617.0 L1197.5,617.0 L1197.5,617.0 L1197.5,617.0 L1197.5,616.3 L1198.4,616.3 L1198.4,615.6 L1198.4,614.7 L1199.7,614.7 L1199.7,613.7 L1199.7,613.1 L1200.5,613.1 L1200.5,612.5 L1200.5,612.0 L1201.2,612.0 L1201.2,611.4 L1201.2,610.6 L1202.3,610.6 L1202.3,609.7 L1202.3,609.0 L1203.3,609.0 L1203.3,608.3 L1203.3,607.2 L1204.8,607.2 L1204.8,606.0 L1204.8,605.4 L1205.6,605.4 L1205.6,604.9 L1205.6,603.8 L1207.0,603.8 L1207.0,602.8 L1207.0,602.4 L1207.5,602.4 L1207.5,602.0 L1207.5,600.9 L1208.7,600.9 L1208.7,599.8 L1208.7,599.0 L1209.7,599.0 L1209.7,598.2 L1209.7,597.2 L1210.8,597.2 L1210.8,596.2 L1210.8,595.5 L1211.7,595.5 L1211.7,594.7 L1211.7,594.0 L1212.4,594.0 L1212.4,593.4 L1212.4,592.5 L1213.4,592.5 L1213.4,591.7 L1213.4,590.6 L1214.6,590.6 L1214.6,589.5 L1214.6,588.8 L1215.5,588.8 L1215.5,588.0 L1215.5,587.3 L1216.3,587.3 L1216.3,586.7 L1216.3,585.8 L1217.2,585.8 L1217.2,585.0 L1217.2,584.8 L1217.5,584.8 L1217.5,584.5 L1217.5,583.8 L1218.4,583.8 L1218.4,583.0 L1218.4,582.1 L1219.5,582.1 L1219.5,581.2 L1219.5,580.3 L1220.5,580.3 L1220.5,579.4 L1220.5,578.5 L1221.6,578.5 L1221.6,577.6 L1221.6,576.9 L1222.5,576.9 L1222.5,576.2 L1222.5,575.6 L1223.1,575.6 L1223.1,575.1 L1223.1,574.6 L1223.8,574.6 L1223.8,574.0 L1223.8,573.3 L1224.7,573.3 L1224.7,572.5 L1224.7,572.3 L1225.0,572.3 L1225.0,572.0 L1225.0,571.1 L1226.2,571.1 L1226.2,570.3 L1226.2,569.6 L1227.2,569.6 L1227.2,569.0 L1227.2,568.0 L1228.6,568.0 L1228.6,567.0 L1228.6,566.9 L1228.8,566.9 L1228.8,566.8 L1228.8,565.9 L1230.2,565.9 L1230.2,565.0 L1230.2,564.1 L1231.6,564.1 L1231.6,563.1 L1231.6,562.3 L1232.8,562.3 L1232.8,561.5 L1232.8,560.7 L1234.0,560.7 L1234.0,560.0 L1234.0,559.3 L1235.0,559.3 L1235.0,558.6 L1235.0,558.1 L1235.8,558.1 L1235.8,557.6 L1235.8,556.6 L1237.3,556.6 L1237.3,555.6 L1237.3,554.8 L1238.5,554.8 L1238.5,554.0 L1238.5,553.5 L1239.3,553.5 L1239.3,552.9 L1239.3,552.5 L1240.0,552.5 L1240.0,552.0 L1240.0,551.2 L1241.3,551.2 L1241.3,550.3 L1241.3,549.5 L1242.7,549.5 L1242.7,548.6 L1242.7,547.9 L1243.9,547.9 L1243.9,547.1 L1243.9,546.6 L1244.8,546.6 L1244.8,546.0 L1244.8,544.9 L1246.5,544.9 L1246.5,543.9 L1246.5,543.3 L1247.4,543.3 L1247.4,542.7 L1247.4,542.0 L1248.6,542.0 L1248.6,541.3 L1248.6,540.4 L1250.0,540.4 L1250.0,539.5 L1250.0,538.9 L1250.7,538.9 L1250.7,538.3 L1250.7,537.4 L1251.6,537.4 L1251.6,536.5 L1251.6,535.7 L1252.6,535.7 L1252.6,534.8 L1252.6,534.1 L1253.3,534.1 L1253.3,533.4 L1253.3,532.2 L1254.6,532.2 L1254.6,531.0 L1254.6,530.2 L1255.5,530.2 L1255.5,529.4 L1255.5,528.9 L1256.1,528.9 L1256.1,528.3 L1256.1,527.5 L1257.0,527.5 L1257.0,526.6 L1257.0,526.2 L1257.5,526.2 L1257.5,525.8 L1257.5,525.0 L1259.2,525.0 L1259.2,524.1 L1259.2,523.2 L1261.0,523.2 L1261.0,522.3 L1261.0,521.4 L1262.9,521.4 L1262.9,520.4 L1262.9,520.0 L1263.8,520.0 L1263.8,519.5 L1263.8,518.7 L1265.4,518.7 L1265.4,517.9 L1265.4,517.3 L1266.6,517.3 L1266.6,516.7 L1266.6,516.3 L1267.5,516.3 L1267.5,515.8 L1267.5,515.1 L1268.4,515.1 L1268.4,514.4 L1268.4,513.7 L1269.4,513.7 L1269.4,513.0 L1269.4,512.4 L1270.1,512.4 L1270.1,511.8 L1270.1,510.9 L1271.4,510.9 L1271.4,510.0 L1271.4,509.4 L1272.1,509.4 L1272.1,508.9 L1272.1,507.7 L1273.6,507.7 L1273.6,506.6 L1273.6,506.1 L1274.3,506.1 L1274.3,505.5 L1274.3,505.0 L1275.0,505.0 L1275.0,504.5 L1275.0,503.9 L1276.0,503.9 L1276.0,503.4 L1276.0,502.9 L1276.9,502.9 L1276.9,502.4 L1276.9,501.5 L1278.5,501.5 L1278.5,500.6 L1278.5,499.8 L1279.8,499.8 L1279.8,499.1 L1279.8,498.2 L1281.5,498.2 L1281.5,497.3 L1281.5,496.5 L1282.8,496.5 L1282.8,495.8 L1282.8,494.9 L1284.3,494.9 L1284.3,494.1 L1284.3,493.7 L1285.0,493.7 L1285.0,493.3 L1285.0,492.5 L1286.6,492.5 L1286.6,491.7 L1286.6,491.0 L1288.0,491.0 L1288.0,490.3 L1288.0,489.3 L1290.0,489.3 L1290.0,488.3 L1290.0,487.9 L1290.8,487.9 L1290.8,487.5 L1290.8,487.0 L1291.8,487.0 L1291.8,486.5 L1291.8,485.7 L1293.4,485.7 L1293.4,484.9 L1293.4,484.1 L1295.0,484.1 L1295.0,483.3 L1295.0,482.8 L1296.6,482.8 L1296.6,482.3 L1296.6,481.6 L1298.5,481.6 L1298.5,481.0 L1298.5,480.4 L1300.2,480.4 L1300.2,479.8 L1300.2,479.3 L1301.8,479.3 L1301.8,478.8 L1301.8,478.5 L1302.5,478.5 L1302.5,478.3 L1302.5,477.4 L1303.8,477.4 L1303.8,476.5 L1303.8,476.0 L1304.5,476.0 L1304.5,475.5 L1304.5,474.9 L1305.5,474.9 L1305.5,474.2 L1305.5,473.2 L1306.9,473.2 L1306.9,472.2 L1306.9,471.6 L1307.8,471.6 L1307.8,470.9 L1307.8,470.1 L1309.0,470.1 L1309.0,469.4 L1309.0,468.7 L1309.9,468.7 L1309.9,468.0 L1309.9,467.3 L1311.0,467.3 L1311.0,466.6 L1311.0,465.7 L1312.3,465.7 L1312.3,464.8 L1312.3,464.6 L1312.5,464.6 L1312.5,464.5 L1312.5,463.3 L1313.8,463.3 L1313.8,462.1 L1313.8,461.2 L1314.8,461.2 L1314.8,460.4 L1314.8,459.7 L1315.5,459.7 L1315.5,459.0 L1315.5,458.3 L1316.3,458.3 L1316.3,457.5 L1316.3,457.0 L1316.9,457.0 L1316.9,456.4 L1316.9,455.7 L1317.7,455.7 L1317.7,455.0 L1317.7,454.1 L1318.7,454.1 L1318.7,453.1 L1318.7,452.2 L1319.8,452.2 L1319.8,451.2 L1319.8,451.0 L1320.0,451.0 L1320.0,450.8 L1320.0,450.2 L1320.9,450.2 L1320.9,449.6 L1320.9,449.1 L1321.8,449.1 L1321.8,448.6 L1321.8,448.0 L1322.7,448.0 L1322.7,447.4 L1322.7,446.6 L1324.0,446.6 L1324.0,445.9 L1324.0,445.2 L1325.0,445.2 L1325.0,444.6 L1325.0,443.6 L1326.6,443.6 L1326.6,442.6 L1326.6,441.7 L1327.9,441.7 L1327.9,440.9 L1327.9,440.2 L1329.0,440.2 L1329.0,439.6 L1329.0,438.9 L1330.0,438.9 L1330.0,438.3 L1330.0,437.9 L1330.9,437.9 L1330.9,437.4 L1330.9,436.6 L1332.6,436.6 L1332.6,435.7 L1332.6,434.9 L1334.3,434.9 L1334.3,434.0 L1334.3,433.4 L1335.5,433.4 L1335.5,432.8 L1335.5,431.9 L1337.2,431.9 L1337.2,431.1 L1337.2,431.0 L1337.5,431.0 L1337.5,430.8 L1337.5,430.4 L1338.8,430.4 L1338.8,429.9 L1338.8,429.5 L1340.1,429.5 L1340.1,429.1 L1340.1,428.7 L1341.4,428.7 L1341.4,428.2 L1341.4,427.6 L1343.2,427.6 L1343.2,427.0 L1343.2,426.4 L1345.0,426.4 L1345.0,425.8 L1345.0,424.9 L1346.5,424.9 L1346.5,424.0 L1346.5,423.4 L1347.3,423.4 L1347.3,422.9 L1347.3,421.9 L1348.8,421.9 L1348.8,421.0 L1348.8,420.2 L1350.1,420.2 L1350.1,419.5 L1350.1,418.8 L1351.2,418.8 L1351.2,418.0 L1351.2,417.3 L1352.5,417.3 L1352.5,416.5 L1352.5,415.7 L1353.6,415.7 L1353.6,415.0 L1353.6,414.4 L1354.6,414.4 L1354.6,413.8 L1354.6,413.6 L1355.0,413.6 L1355.0,413.3 L1355.0,412.5 L1356.5,412.5 L1356.5,411.6 L1356.5,410.7 L1358.0,410.7 L1358.0,409.9 L1358.0,408.9 L1359.8,408.9 L1359.8,407.9 L1359.8,407.3 L1360.8,407.3 L1360.8,406.7 L1360.8,405.8 L1362.5,405.8 L1362.5,404.8 L1362.5,403.9 L1364.2,403.9 L1364.2,402.9 L1364.2,402.5 L1365.0,402.5 L1365.0,402.0 L1365.0,401.2 L1367.2,401.2 L1367.2,400.3 L1367.2,399.9 L1368.4,399.9 L1368.4,399.5 L1368.4,398.8 L1370.3,398.8 L1370.3,398.0 L1370.3,397.2 L1372.4,397.2 L1372.4,396.4 L1372.4,396.0 L1373.5,396.0 L1373.5,395.6 L1373.5,395.1 L1375.0,395.1 L1375.0,394.5 L1375.0,393.6 L1377.0,393.6 L1377.0,392.7 L1377.0,392.2 L1378.3,392.2 L1378.3,391.6 L1378.3,390.8 L1380.2,390.8 L1380.2,389.9 L1380.2,389.1 L1382.2,389.1 L1382.2,388.2 L1382.2,387.6 L1383.7,387.6 L1383.7,387.0 L1383.7,386.5 L1384.8,386.5 L1384.8,386.0 L1384.8,385.9 L1385.0,385.9 L1385.0,385.8 L1385.0,384.8 L1386.6,384.8 L1386.6,383.9 L1386.6,383.2 L1387.9,383.2 L1387.9,382.4 L1387.9,381.8 L1389.0,381.8 L1389.0,381.2 L1389.0,380.4 L1390.2,380.4 L1390.2,379.7 L1390.2,378.7 L1391.9,378.7 L1391.9,377.7 L1391.9,377.3 L1392.5,377.3 L1392.5,377.0 L1392.5,376.6 L1393.5,376.6 L1393.5,376.3 L1393.5,375.4 L1395.7,375.4 L1395.7,374.6 L1395.7,374.1 L1397.0,374.1 L1397.0,373.6 L1397.0,373.1 L1398.5,373.1 L1398.5,372.5 L1398.5,371.7 L1400.7,371.7 L1400.7,370.9 L1400.7,370.4 L1402.0,370.4 L1402.0,369.9 L1402.0,369.7 L1402.5,369.7 L1402.5,369.5 L1402.5,368.6 L1404.4,368.6 L1404.4,367.6 L1404.4,367.1 L1405.5,367.1 L1405.5,366.5 L1405.5,366.0 L1406.6,366.0 L1406.6,365.4 L1406.6,364.5 L1408.5,364.5 L1408.5,363.5 L1408.5,363.0 L1409.6,363.0 L1409.6,362.4 L1409.6,361.5 L1411.5,361.5 L1411.5,360.5 L1411.5,360.0 L1412.5,360.0 L1412.5,359.5 L1412.5,358.9 L1413.8,358.9 L1413.8,358.4 L1413.8,357.9 L1414.9,357.9 L1414.9,357.4 L1414.9,356.7 L1416.5,356.7 L1416.5,356.0 L1416.5,355.3 L1418.1,355.3 L1418.1,354.6 L1418.1,354.0 L1419.5,354.0 L1419.5,353.4 L1419.5,352.8 L1421.0,352.8 L1421.0,352.1 L1421.0,351.6 L1422.2,351.6 L1422.2,351.0 L1422.2,350.9 L1422.5,350.9 L1422.5,350.8 L1422.5,349.9 L1424.5,349.9 L1424.5,349.0 L1424.5,348.2 L1426.3,348.2 L1426.3,347.4 L1426.3,346.6 L1428.2,346.6 L1428.2,345.8 L1428.2,345.3 L1429.2,345.3 L1429.2,344.9 L1429.2,344.4 L1430.4,344.4 L1430.4,343.8 L1430.4,343.3 L1431.5,343.3 L1431.5,342.8 L1431.5,342.4 L1432.5,342.4 L1432.5,342.0 L1432.5,341.0 L1434.4,341.0 L1434.4,340.0 L1434.4,339.1 L1436.2,339.1 L1436.2,338.1 L1436.2,337.5 L1437.5,337.5 L1437.5,336.8 L1437.5,336.1 L1439.1,336.1 L1439.1,335.5 L1439.1,335.0 L1440.2,335.0 L1440.2,334.6 L1440.2,334.0 L1441.6,334.0 L1441.6,333.4 L1441.6,333.0 L1442.6,333.0 L1442.6,332.6 L1442.6,331.7 L1444.7,331.7 L1444.7,330.9 L1444.7,330.4 L1445.9,330.4 L1445.9,329.9 L1445.9,329.3 L1447.2,329.3 L1447.2,328.8 L1447.2,328.0 L1449.3,328.0 L1449.3,327.1 L1449.3,326.6 L1450.5,326.6 L1450.5,326.1 L1450.5,325.3 L1452.5,325.3 L1452.5,324.5 L1452.5,323.9 L1453.8,323.9 L1453.8,323.4 L1453.8,322.7 L1455.5,322.7 L1455.5,321.9 L1455.5,321.5 L1456.5,321.5 L1456.5,321.0 L1456.5,320.2 L1458.6,320.2 L1458.6,319.3 L1458.6,318.7 L1459.9,318.7 L1459.9,318.1 L1459.9,317.5 L1461.3,317.5 L1461.3,317.0 L1461.3,316.2 L1463.0,316.2 L1463.0,315.5 L1463.0,314.8 L1464.6,314.8 L1464.6,314.1 L1464.6,313.6 L1465.8,313.6 L1465.8,313.1 L1465.8,312.6 L1466.9,312.6 L1466.9,312.2 L1466.9,311.5 L1468.5,311.5 L1468.5,310.8 L1468.5,310.4 L1469.4,310.4 L1469.4,310.0 L1469.4,309.7 L1470.0,309.7 L1470.0,309.5 L1470.0,309.0 L1471.4,309.0 L1471.4,308.5 L1471.4,308.1 L1472.6,308.1 L1472.6,307.6 L1472.6,307.1 L1474.0,307.1 L1474.0,306.6 L1474.0,306.2 L1475.1,306.2 L1475.1,305.8 L1475.1,305.3 L1476.5,305.3 L1476.5,304.8 L1476.5,304.2 L1478.2,304.2 L1478.2,303.6 L1478.2,303.1 L1479.7,303.1 L1479.7,302.6 L1479.7,302.0 L1481.1,302.0 L1481.1,301.5 L1481.1,301.1 L1482.5,301.1 L1482.5,300.6 L1482.5,300.0 L1484.1,300.0 L1484.1,299.4 L1484.1,298.7 L1486.1,298.7 L1486.1,298.0 L1486.1,297.5 L1487.5,297.5 L1487.5,297.0 L1487.5,296.2 L1489.3,296.2 L1489.3,295.4 L1489.3,294.7 L1490.7,294.7 L1490.7,294.0 L1490.7,293.6 L1491.8,293.6 L1491.8,293.1 L1491.8,292.6 L1492.9,292.6 L1492.9,292.1 L1492.9,291.2 L1494.8,291.2 L1494.8,290.4 L1494.8,289.7 L1496.2,289.7 L1496.2,289.0 L1496.2,288.4 L1497.5,288.4 L1497.5,287.8 L1497.5,287.1 L1499.0,287.1 L1499.0,286.5 L1499.0,285.6 L1500.9,285.6 L1500.9,284.7 L1500.9,284.1 L1502.3,284.1 L1502.3,283.5 L1502.3,283.4 L1502.5,283.4 L1502.5,283.3 L1502.5,282.7 L1503.8,282.7 L1503.8,282.1 L1503.8,281.7 L1504.7,281.7 L1504.7,281.3 L1504.7,280.6 L1506.3,280.6 L1506.3,279.9 L1506.3,279.2 L1507.7,279.2 L1507.7,278.6 L1507.7,277.9 L1509.2,277.9 L1509.2,277.2 L1509.2,276.6 L1510.6,276.6 L1510.6,276.0 L1510.6,275.3 L1512.1,275.3 L1512.1,274.6 L1512.1,273.9 L1513.8,273.9 L1513.8,273.1 L1513.8,272.6 L1514.9,272.6 L1514.9,272.1 L1514.9,272.0 L1515.0,272.0 L1515.0,272.0 L1515.0,271.6 L1516.2,271.6 L1516.2,271.3 L1516.2,270.6 L1518.3,270.6 L1518.3,269.9 L1518.3,269.5 L1519.6,269.5 L1519.6,269.1 L1519.6,268.4 L1521.7,268.4 L1521.7,267.7 L1521.7,267.3 L1523.0,267.3 L1523.0,266.9 L1523.0,266.5 L1524.2,266.5 L1524.2,266.1 L1524.2,265.6 L1525.9,265.6 L1525.9,265.0 L1525.9,264.3 L1528.0,264.3 L1528.0,263.7 L1528.0,263.0 L1530.2,263.0 L1530.2,262.3 L1530.2,261.6 L1532.4,261.6 L1532.4,260.9 L1532.4,260.8 L1532.5,260.8 L1532.5,260.8 L1532.5,260.5 L1533.6,260.5 L1533.6,260.1 L1533.6,259.6 L1535.1,259.6 L1535.1,259.1 L1535.1,258.8 L1536.2,258.8 L1536.2,258.4 L1536.2,257.7 L1538.3,257.7 L1538.3,257.1 L1538.3,256.6 L1539.9,256.6 L1539.9,256.0 L1539.9,255.4 L1541.9,255.4 L1541.9,254.7 L1541.9,254.1 L1544.0,254.1 L1544.0,253.4 L1544.0,252.6 L1546.3,252.6 L1546.3,251.9 L1546.3,251.3 L1548.2,251.3 L1548.2,250.6 L1548.2,250.1 L1550.0,250.1 L1550.0,249.5 L1550.0,248.9 L1551.7,248.9 L1551.7,248.3 L1551.7,247.9 L1552.8,247.9 L1552.8,247.5 L1552.8,246.8 L1554.9,246.8 L1554.9,246.0 L1554.9,245.6 L1556.0,245.6 L1556.0,245.2 L1556.0,244.8 L1557.1,244.8 L1557.1,244.4 L1557.1,243.7 L1559.1,243.7 L1559.1,243.0 L1559.1,242.5 L1560.5,242.5 L1560.5,242.0 L1560.5,241.3 L1562.3,241.3 L1562.3,240.7 L1562.3,240.3 L1563.3,240.3 L1563.3,240.0 L1563.3,239.5 L1564.6,239.5 L1564.6,239.1 L1564.6,238.4 L1566.5,238.4 L1566.5,237.7 L1566.5,237.4 L1567.5,237.4 L1567.5,237.0 L1567.5,236.5 L1569.3,236.5 L1569.3,236.0 L1569.3,235.3 L1571.6,235.3 L1571.6,234.7 L1571.6,234.3 L1572.9,234.3 L1572.9,233.9 L1572.9,233.3 L1575.0,233.3 L1575.0,232.7 L1575.0,232.1 L1577.0,232.1 L1577.0,231.6 L1577.0,231.0 L1578.9,231.0 L1578.9,230.5 L1578.9,229.9 L1581.0,229.9 L1581.0,229.3 L1581.0,228.7 L1583.1,228.7 L1583.1,228.1 L1583.1,227.8 L1584.1,227.8 L1584.1,227.5 L1584.1,227.3 L1585.0,227.3 L1585.0,227.0 L1585.0,226.5 L1586.8,226.5 L1586.8,226.1 L1586.8,225.5 L1589.3,225.5 L1589.3,224.8 L1589.3,224.5 L1590.7,224.5 L1590.7,224.2 L1590.7,223.7 L1592.6,223.7 L1592.6,223.2 L1592.6,222.9 L1593.9,222.9 L1593.9,222.6 L1593.9,222.0 L1596.1,222.0 L1596.1,221.4 L1596.1,221.0 L1597.9,221.0 L1597.9,220.6 L1597.9,220.1 L1599.7,220.1 L1599.7,219.7 L1599.7,219.2 L1601.7,219.2 L1601.7,218.6 L1601.7,218.3 L1603.0,218.3 L1603.0,218.0 L1603.0,217.5 L1605.0,217.5 L1605.0,217.0 L1605.0,216.4 L1607.2,216.4 L1607.2,215.8 L1607.2,215.1 L1609.4,215.1 L1609.4,214.5 L1609.4,214.1 L1610.8,214.1 L1610.8,213.7 L1610.8,213.3 L1612.2,213.3 L1612.2,212.9 L1612.2,212.5 L1613.5,212.5 L1613.5,212.2 L1613.5,211.5 L1615.8,211.5 L1615.8,210.9 L1615.8,210.4 L1617.4,210.4 L1617.4,209.9 L1617.4,209.5 L1619.0,209.5 L1619.0,209.0 L1619.0,208.5 L1620.8,208.5 L1620.8,208.0 L1620.8,207.5 L1622.5,207.5 L1622.5,207.0 L1622.5,206.5 L1623.9,206.5 L1623.9,206.1 L1623.9,205.6 L1625.4,205.6 L1625.4,205.1 L1625.4,204.5 L1627.4,204.5 L1627.4,203.8 L1627.4,203.2 L1629.5,203.2 L1629.5,202.5 L1629.5,202.1 L1630.9,202.1 L1630.9,201.6 L1630.9,201.3 L1632.0,201.3 L1632.0,200.9 L1632.0,200.2 L1634.3,200.2 L1634.3,199.5 L1634.3,198.8 L1636.3,198.8 L1636.3,198.2 L1636.3,197.6 L1638.1,197.6 L1638.1,197.0 L1638.1,196.5 L1639.6,196.5 L1639.6,196.0 L1639.6,195.9 L1640.0,195.9 L1640.0,195.8 L1640.0,195.4 L1641.7,195.4 L1641.7,195.0 L1641.7,194.6 L1643.1,194.6 L1643.1,194.3 L1643.1,194.0 L1644.3,194.0 L1644.3,193.6 L1644.3,193.2 L1645.9,193.2 L1645.9,192.9 L1645.9,192.4 L1647.8,192.4 L1647.8,191.9 L1647.8,191.5 L1649.4,191.5 L1649.4,191.1 L1649.4,190.5 L1651.8,190.5 L1651.8,189.9 L1651.8,189.4 L1653.8,189.4 L1653.8,188.9 L1653.8,188.4 L1655.5,188.4 L1655.5,188.0 L1655.5,187.5 L1657.5,187.5 L1657.5,187.0 L1657.5,186.5 L1659.4,186.5 L1659.4,186.0 L1659.4,185.6 L1661.4,185.6 L1661.4,185.1 L1661.4,184.6 L1663.2,184.6 L1663.2,184.2 L1663.2,183.7 L1665.0,183.7 L1665.0,183.3 L1665.0,182.8 L1666.8,182.8 L1666.8,182.4 L1666.8,181.8 L1669.1,181.8 L1669.1,181.3 L1669.1,181.0 L1670.4,181.0 L1670.4,180.6 L1670.4,180.1 L1672.6,180.1 L1672.6,179.5 L1672.6,179.2 L1674.1,179.2 L1674.1,178.8 L1674.1,178.2 L1676.4,178.2 L1676.4,177.7 L1676.4,177.4 L1677.6,177.4 L1677.6,177.1 L1677.6,176.6 L1679.4,176.6 L1679.4,176.2 L1679.4,175.8 L1681.1,175.8 L1681.1,175.4 L1681.1,175.1 L1682.0,175.1 L1682.0,174.9 L1682.0,174.6 L1683.4,174.6 L1683.4,174.3 L1683.4,174.0 L1684.9,174.0 L1684.9,173.6 L1684.9,173.3 L1686.2,173.3 L1686.2,173.1 L1686.2,172.6 L1688.1,172.6 L1688.1,172.2 L1688.1,171.8 L1690.0,171.8 L1690.0,171.4 L1690.0,171.1 L1691.1,171.1 L1691.1,170.9 L1691.1,170.6 L1692.5,170.6 L1692.5,170.3 L1692.5,170.0 L1693.9,170.0 L1693.9,169.7 L1693.9,169.1 L1696.4,169.1 L1696.4,168.6 L1696.4,168.2 L1698.1,168.2 L1698.1,167.8 L1698.1,167.4 L1700.1,167.4 L1700.1,166.9 L1700.1,166.6 L1701.6,166.6 L1701.6,166.3 L1701.6,165.8 L1703.7,165.8 L1703.7,165.4 L1703.7,165.2 L1704.5,165.2 L1704.5,165.0 L1704.5,164.6 L1706.6,164.6 L1706.6,164.1 L1706.6,163.9 L1707.7,163.9 L1707.7,163.6 L1707.7,163.2 L1709.4,163.2 L1709.4,162.9 L1709.4,162.5 L1711.3,162.5 L1711.3,162.1 L1711.3,161.8 L1712.4,161.8 L1712.4,161.6 L1712.4,161.1 L1714.7,161.1 L1714.7,160.6 L1714.7,160.3 L1716.3,160.3 L1716.3,159.9 L1716.3,159.6 L1717.8,159.6 L1717.8,159.3 L1717.8,158.8 L1719.8,158.8 L1719.8,158.4 L1719.8,158.0 L1721.8,158.0 L1721.8,157.6 L1721.8,157.2 L1723.3,157.2 L1723.3,156.9 L1723.3,156.6 L1725.8,156.6 L1725.8,156.2 L1725.8,155.9 L1727.7,155.9 L1727.7,155.7 L1727.7,155.4 L1729.4,155.4 L1729.4,155.2 L1729.4,155.0 L1730.7,155.0 L1730.7,154.9 L1730.7,154.6 L1732.7,154.6 L1732.7,154.3 L1732.7,154.1 L1734.4,154.1 L1734.4,153.8 L1734.4,153.6 L1736.4,153.6 L1736.4,153.3 L1736.4,153.1 L1738.1,153.1 L1738.1,152.8 L1738.1,152.7 L1739.3,152.7 L1739.3,152.5 L1739.3,152.3 L1740.5,152.3 L1740.5,152.2 L1740.5,152.0 L1741.9,152.0 L1741.9,151.8 L1741.9,151.6 L1743.2,151.6 L1743.2,151.4 L1743.2,151.1 L1745.6,151.1 L1745.6,150.7 L1745.6,150.5 L1747.7,150.5 L1747.7,150.2 L1747.7,150.1 L1748.3,150.1 L1748.3,150.0 L1748.3,149.6 L1750.5,149.6 L1750.5,149.1 L1750.5,148.7 L1752.5,148.7 L1752.5,148.3 L1752.5,148.1 L1753.7,148.1 L1753.7,147.8 L1753.7,147.4 L1756.0,147.4 L1756.0,146.9 L1756.0,146.6 L1757.4,146.6 L1757.4,146.3 L1757.4,145.8 L1760.0,145.8 L1760.0,145.3 L1760.0,145.0 L1761.3,145.0 L1761.3,144.8 L1761.3,144.5 L1762.9,144.5 L1762.9,144.2 L1762.9,143.9 L1764.4,143.9 L1764.4,143.6 L1764.4,143.1 L1766.7,143.1 L1766.7,142.6 L1766.7,142.6 L1767.0,142.6 L1767.0,142.5 L1767.0,142.2 L1769.0,142.2 L1769.0,141.8 L1769.0,141.6 L1770.4,141.6 L1770.4,141.4 L1770.4,141.1 L1772.2,141.1 L1772.2,140.8 L1772.2,140.4 L1774.4,140.4 L1774.4,140.1 L1774.4,139.9 L1775.6,139.9 L1775.6,139.7 L1775.6,139.2 L1778.1,139.2 L1778.1,138.8 L1778.1,138.4 L1780.6,138.4 L1780.6,138.0 L1780.6,137.6 L1783.1,137.6 L1783.1,137.2 L1783.1,136.8 L1785.3,136.8 L1785.3,136.5 L1785.3,136.4 L1785.8,136.4 L1785.8,136.3 L1785.8,135.7 L1788.3,135.7 L1788.3,135.1 L1788.3,134.8 L1789.8,134.8 L1789.8,134.4 L1789.8,134.1 L1791.3,134.1 L1791.3,133.7 L1791.3,133.4 L1792.6,133.4 L1792.6,133.1 L1792.6,132.8 L1793.9,132.8 L1793.9,132.5 L1793.9,132.0 L1796.2,132.0 L1796.2,131.4 L1796.2,131.1 L1797.4,131.1 L1797.4,130.9 L1797.4,130.3 L1799.5,130.3 L1799.5,129.8 L1799.5,129.4 L1801.2,129.4 L1801.2,129.1 L1801.2,128.5 L1803.6,128.5 L1803.6,127.9 L1803.6,127.7 L1804.5,127.7 L1804.5,127.5 L1804.5,127.2 L1806.7,127.2 L1806.7,126.8 L1806.7,126.5 L1809.1,126.5 L1809.1,126.1 L1809.1,125.9 L1810.4,125.9 L1810.4,125.8 L1810.4,125.5 L1811.9,125.5 L1811.9,125.3 L1811.9,125.0 L1813.6,125.0 L1813.6,124.8 L1813.6,124.5 L1815.4,124.5 L1815.4,124.2 L1815.4,123.9 L1817.6,123.9 L1817.6,123.6 L1817.6,123.2 L1820.1,123.2 L1820.1,122.8 L1820.1,122.5 L1822.4,122.5 L1822.4,122.2 L1822.4,122.0 L1823.3,122.0 L1823.3,121.9 L1823.3,121.6 L1825.5,121.6 L1825.5,121.3 L1825.5,121.1 L1827.2,121.1 L1827.2,120.8 L1827.2,120.6 L1829.2,120.6 L1829.2,120.3 L1829.2,120.0 L1831.5,120.0 L1831.5,119.7 L1831.5,119.4 L1833.9,119.4 L1833.9,119.1 L1833.9,118.8 L1835.7,118.8 L1835.7,118.6 L1835.7,118.4 L1837.4,118.4 L1837.4,118.1 L1837.4,117.9 L1839.5,117.9 L1839.5,117.6 L1839.5,117.4 L1841.0,117.4 L1841.0,117.2 L1841.0,117.0 L1842.0,117.0 L1842.0,116.9 L1842.0,116.8 L1843.2,116.8 L1843.2,116.6 L1843.2,116.3 L1845.3,116.3 L1845.3,116.1 L1845.3,115.8 L1847.3,115.8 L1847.3,115.6 L1847.3,115.4 L1848.7,115.4 L1848.7,115.2 L1848.7,115.0 L1850.8,115.0 L1850.8,114.7 L1850.8,114.5 L1852.7,114.5 L1852.7,114.3 L1852.7,114.0 L1854.5,114.0 L1854.5,113.8 L1854.5,113.3 L1856.9,113.3 L1856.9,112.9 L1856.9,112.5 L1858.9,112.5 L1858.9,112.1 L1858.9,111.8 L1860.5,111.8 L1860.5,111.5"/>
<path class="cv" stroke="#ff0000" d="M1127.5,770.8 L1127.5,769.5 L1127.9,769.5 L1127.9,768.2 L1127.9,767.5 L1128.1,767.5 L1128.1,766.8 L1128.1,765.5 L1128.5,765.5 L1128.5,764.3 L1128.5,763.0 L1128.8,763.0 L1128.8,761.8 L1128.8,760.4 L1129.2,760.4 L1129.2,759.0 L1129.2,757.8 L1129.6,757.8 L1129.6,756.6 L1129.6,755.7 L1129.9,755.7 L1129.9,754.8 L1129.9,754.1 L1130.1,754.1 L1130.1,753.3 L1130.1,752.2 L1130.4,752.2 L1130.4,751.1 L1130.4,750.3 L1130.6,750.3 L1130.6,749.6 L1130.6,748.4 L1131.0,748.4 L1131.0,747.2 L1131.0,747.1 L1131.0,747.1 L1131.0,747.0 L1131.0,745.8 L1131.6,745.8 L1131.6,744.6 L1131.6,743.7 L1132.0,743.7 L1132.0,742.8 L1132.0,742.0 L1132.4,742.0 L1132.4,741.2 L1132.4,739.9 L1133.0,739.9 L1133.0,738.6 L1133.0,737.5 L1133.6,737.5 L1133.6,736.4 L1133.6,735.6 L1134.0,735.6 L1134.0,734.7 L1134.0,733.7 L1134.5,733.7 L1134.5,732.6 L1134.5,731.7 L1135.0,731.7 L1135.0,730.8 L1135.0,729.7 L1135.5,729.7 L1135.5,728.6 L1135.5,727.6 L1136.0,727.6 L1136.0,726.7 L1136.0,725.9 L1136.4,725.9 L1136.4,725.1 L1136.4,724.8 L1136.5,724.8 L1136.5,724.5 L1136.5,723.2 L1137.1,723.2 L1137.1,722.0 L1137.1,720.8 L1137.7,720.8 L1137.7,719.6 L1137.7,718.8 L1138.1,718.8 L1138.1,718.0 L1138.1,717.3 L1138.4,717.3 L1138.4,716.5 L1138.4,715.4 L1139.0,715.4 L1139.0,714.2 L1139.0,713.0 L1139.6,713.0 L1139.6,711.8 L1139.6,710.7 L1140.1,710.7 L1140.1,709.6 L1140.1,708.9 L1140.5,708.9 L1140.5,708.1 L1140.5,707.0 L1141.1,707.0 L1141.1,705.8 L1141.1,704.8 L1141.5,704.8 L1141.5,703.9 L1141.5,703.0 L1142.0,703.0 L1142.0,702.1 L1142.0,702.1 L1142.0,702.1 L1142.0,702.0 L1142.0,701.1 L1142.6,701.1 L1142.6,700.2 L1142.6,699.1 L1143.3,699.1 L1143.3,698.0 L1143.3,696.9 L1144.0,696.9 L1144.0,695.8 L1144.0,694.4 L1144.8,694.4 L1144.8,693.1 L1144.8,692.5 L1145.2,692.5 L1145.2,691.8 L1145.2,690.8 L1145.9,690.8 L1145.9,689.8 L1145.9,688.5 L1146.7,688.5 L1146.7,687.2 L1146.7,686.1 L1147.4,686.1 L1147.4,685.1 L1147.4,684.0 L1148.0,684.0 L1148.0,683.0 L1148.0,681.8 L1148.8,681.8 L1148.8,680.6 L1148.8,680.3 L1149.0,680.3 L1149.0,680.0 L1149.0,678.8 L1149.8,678.8 L1149.8,677.7 L1149.8,676.6 L1150.6,676.6 L1150.6,675.6 L1150.6,674.6 L1151.3,674.6 L1151.3,673.6 L1151.3,672.8 L1151.9,672.8 L1151.9,672.0 L1151.9,671.0 L1152.7,671.0 L1152.7,670.0 L1152.7,669.3 L1153.1,669.3 L1153.1,668.6 L1153.1,667.7 L1153.8,667.7 L1153.8,666.7 L1153.8,666.0 L1154.4,666.0 L1154.4,665.2 L1154.4,663.9 L1155.3,663.9 L1155.3,662.7 L1155.3,661.5 L1156.1,661.5 L1156.1,660.3 L1156.1,659.4 L1156.8,659.4 L1156.8,658.5 L1156.8,658.3 L1157.0,658.3 L1157.0,658.0 L1157.0,657.1 L1157.6,657.1 L1157.6,656.3 L1157.6,655.3 L1158.2,655.3 L1158.2,654.3 L1158.2,653.7 L1158.7,653.7 L1158.7,653.0 L1158.7,651.7 L1159.5,651.7 L1159.5,650.5 L1159.5,649.4 L1160.3,649.4 L1160.3,648.2 L1160.3,647.1 L1161.0,647.1 L1161.0,645.9 L1161.0,645.3 L1161.4,645.3 L1161.4,644.7 L1161.4,643.5 L1162.2,643.5 L1162.2,642.3 L1162.2,641.7 L1162.6,641.7 L1162.6,641.1 L1162.6,640.1 L1163.3,640.1 L1163.3,639.1 L1163.3,638.2 L1163.9,638.2 L1163.9,637.3 L1163.9,636.6 L1164.3,636.6 L1164.3,636.0 L1164.3,635.1 L1164.9,635.1 L1164.9,634.2 L1164.9,634.1 L1165.0,634.1 L1165.0,634.0 L1165.0,633.0 L1166.0,633.0 L1166.0,632.0 L1166.0,631.3 L1166.7,631.3 L1166.7,630.5 L1166.7,629.4 L1167.9,629.4 L1167.9,628.3 L1167.9,627.5 L1168.7,627.5 L1168.7,626.7 L1168.7,625.5 L1169.8,625.5 L1169.8,624.3 L1169.8,623.5 L1170.7,623.5 L1170.7,622.7 L1170.7,622.1 L1171.2,622.1 L1171.2,621.5 L1171.2,620.8 L1172.0,620.8 L1172.0,620.0 L1172.0,619.4 L1172.6,619.4 L1172.6,618.8 L1172.6,618.1 L1173.2,618.1 L1173.2,617.4 L1173.2,616.3 L1174.3,616.3 L1174.3,615.2 L1174.3,614.5 L1174.9,614.5 L1174.9,613.9 L1174.9,613.0 L1175.7,613.0 L1175.7,612.0 L1175.7,610.9 L1176.8,610.9 L1176.8,609.7 L1176.8,608.7 L1177.7,608.7 L1177.7,607.8 L1177.7,607.0 L1178.5,607.0 L1178.5,606.2 L1178.5,605.1 L1179.5,605.1 L1179.5,604.0 L1179.5,602.9 L1180.7,602.9 L1180.7,601.8 L1180.7,600.8 L1181.7,600.8 L1181.7,599.9 L1181.7,598.9 L1182.7,598.9 L1182.7,598.0 L1182.7,597.2 L1183.5,597.2 L1183.5,596.4 L1183.5,595.6 L1184.4,595.6 L1184.4,594.8 L1184.4,593.6 L1185.7,593.6 L1185.7,592.4 L1185.7,591.2 L1187.0,591.2 L1187.0,590.0 L1187.0,589.5 L1187.5,589.5 L1187.5,588.9 L1187.5,588.2 L1188.2,588.2 L1188.2,587.6 L1188.2,586.9 L1188.9,586.9 L1188.9,586.2 L1188.9,585.1 L1190.0,585.1 L1190.0,584.0 L1190.0,583.3 L1190.7,583.3 L1190.7,582.6 L1190.7,581.9 L1191.4,581.9 L1191.4,581.3 L1191.4,580.2 L1192.4,580.2 L1192.4,579.1 L1192.4,578.5 L1193.1,578.5 L1193.1,577.8 L1193.1,576.6 L1194.3,576.6 L1194.3,575.3 L1194.3,575.2 L1194.5,575.2 L1194.5,575.0 L1194.5,573.8 L1195.7,573.8 L1195.7,572.7 L1195.7,571.6 L1196.9,571.6 L1196.9,570.4 L1196.9,569.8 L1197.6,569.8 L1197.6,569.1 L1197.6,568.0 L1198.7,568.0 L1198.7,566.9 L1198.7,566.9 L1198.8,566.9 L1198.8,566.8 L1198.8,566.1 L1199.6,566.1 L1199.6,565.5 L1199.6,564.9 L1200.2,564.9 L1200.2,564.4 L1200.2,563.4 L1201.4,563.4 L1201.4,562.4 L1201.4,561.5 L1202.5,561.5 L1202.5,560.5 L1202.5,559.8 L1203.3,559.8 L1203.3,559.1 L1203.3,558.0 L1204.6,558.0 L1204.6,556.9 L1204.6,556.3 L1205.4,556.3 L1205.4,555.6 L1205.4,554.8 L1206.3,554.8 L1206.3,554.0 L1206.3,553.4 L1207.0,553.4 L1207.0,552.8 L1207.0,552.4 L1207.5,552.4 L1207.5,552.0 L1207.5,550.9 L1208.9,550.9 L1208.9,549.8 L1208.9,548.9 L1209.9,548.9 L1209.9,548.1 L1209.9,547.5 L1210.7,547.5 L1210.7,546.8 L1210.7,546.2 L1211.5,546.2 L1211.5,545.5 L1211.5,544.5 L1212.7,544.5 L1212.7,543.6 L1212.7,542.9 L1213.5,542.9 L1213.5,542.2 L1213.5,541.1 L1214.9,541.1 L1214.9,540.0 L1214.9,539.4 L1215.6,539.4 L1215.6,538.9 L1215.6,537.8 L1217.0,537.8 L1217.0,536.7 L1217.0,536.2 L1217.5,536.2 L1217.5,535.8 L1217.5,534.7 L1218.7,534.7 L1218.7,533.6 L1218.7,532.8 L1219.6,532.8 L1219.6,532.1 L1219.6,531.5 L1220.3,531.5 L1220.3,530.9 L1220.3,530.3 L1221.0,530.3 L1221.0,529.7 L1221.0,528.7 L1222.1,528.7 L1222.1,527.8 L1222.1,527.2 L1222.7,527.2 L1222.7,526.7 L1222.7,526.1 L1223.4,526.1 L1223.4,525.5 L1223.4,524.4 L1224.6,524.4 L1224.6,523.3 L1224.6,522.2 L1225.9,522.2 L1225.9,521.1 L1225.9,520.0 L1227.2,520.0 L1227.2,518.9 L1227.2,518.6 L1227.5,518.6 L1227.5,518.3 L1227.5,517.4 L1228.7,517.4 L1228.7,516.6 L1228.7,515.5 L1230.1,515.5 L1230.1,514.4 L1230.1,513.4 L1231.4,513.4 L1231.4,512.5 L1231.4,511.6 L1232.5,511.6 L1232.5,510.7 L1232.5,509.9 L1233.6,509.9 L1233.6,509.2 L1233.6,508.7 L1234.3,508.7 L1234.3,508.1 L1234.3,507.6 L1235.0,507.6 L1235.0,507.0 L1235.0,506.4 L1235.9,506.4 L1235.9,505.7 L1235.9,504.9 L1237.0,504.9 L1237.0,504.1 L1237.0,503.7 L1237.5,503.7 L1237.5,503.3 L1237.5,502.2 L1239.2,502.2 L1239.2,501.2 L1239.2,500.3 L1240.5,500.3 L1240.5,499.5 L1240.5,498.6 L1242.0,498.6 L1242.0,497.6 L1242.0,496.6 L1243.7,496.6 L1243.7,495.6 L1243.7,495.0 L1244.7,495.0 L1244.7,494.4 L1244.7,493.3 L1246.3,493.3 L1246.3,492.3 L1246.3,491.6 L1247.5,491.6 L1247.5,490.8 L1247.5,490.3 L1248.7,490.3 L1248.7,489.8 L1248.7,489.3 L1249.8,489.3 L1249.8,488.9 L1249.8,488.1 L1251.7,488.1 L1251.7,487.3 L1251.7,486.4 L1253.7,486.4 L1253.7,485.6 L1253.7,485.0 L1255.0,485.0 L1255.0,484.5 L1255.0,483.7 L1256.0,483.7 L1256.0,483.0 L1256.0,482.1 L1257.2,482.1 L1257.2,481.2 L1257.2,480.6 L1258.0,480.6 L1258.0,480.0 L1258.0,479.4 L1258.9,479.4 L1258.9,478.7 L1258.9,477.9 L1259.9,477.9 L1259.9,477.1 L1259.9,476.1 L1261.2,476.1 L1261.2,475.2 L1261.2,474.6 L1262.0,474.6 L1262.0,474.0 L1262.0,472.9 L1263.5,472.9 L1263.5,471.8 L1263.5,471.3 L1264.2,471.3 L1264.2,470.8 L1264.2,470.1 L1265.0,470.1 L1265.0,469.5 L1265.0,468.8 L1265.8,468.8 L1265.8,468.1 L1265.8,467.0 L1267.0,467.0 L1267.0,465.9 L1267.0,464.9 L1268.3,464.9 L1268.3,463.8 L1268.3,462.6 L1269.6,462.6 L1269.6,461.4 L1269.6,460.6 L1270.6,460.6 L1270.6,459.7 L1270.6,458.7 L1271.7,458.7 L1271.7,457.7 L1271.7,457.0 L1272.6,457.0 L1272.6,456.2 L1272.6,455.1 L1273.8,455.1 L1273.8,454.0 L1273.8,453.5 L1274.5,453.5 L1274.5,452.9 L1274.5,452.4 L1275.0,452.4 L1275.0,452.0 L1275.0,451.1 L1276.2,451.1 L1276.2,450.2 L1276.2,449.7 L1276.9,449.7 L1276.9,449.1 L1276.9,448.0 L1278.4,448.0 L1278.4,446.9 L1278.4,446.2 L1279.4,446.2 L1279.4,445.5 L1279.4,444.9 L1280.1,444.9 L1280.1,444.4 L1280.1,443.7 L1281.0,443.7 L1281.0,443.0 L1281.0,442.5 L1281.7,442.5 L1281.7,442.0 L1281.7,441.3 L1282.6,441.3 L1282.6,440.6 L1282.6,439.6 L1283.9,439.6 L1283.9,438.7 L1283.9,437.8 L1285.0,437.8 L1285.0,437.0 L1285.0,436.1 L1286.4,436.1 L1286.4,435.3 L1286.4,434.3 L1288.0,434.3 L1288.0,433.3 L1288.0,432.3 L1289.6,432.3 L1289.6,431.3 L1289.6,430.4 L1291.0,430.4 L1291.0,429.5 L1291.0,428.8 L1292.2,428.8 L1292.2,428.1 L1292.2,427.4 L1293.2,427.4 L1293.2,426.8 L1293.2,426.2 L1294.1,426.2 L1294.1,425.7 L1294.1,425.1 L1295.0,425.1 L1295.0,424.5 L1295.0,423.9 L1296.0,423.9 L1296.0,423.4 L1296.0,422.5 L1297.6,422.5 L1297.6,421.6 L1297.6,420.9 L1298.7,420.9 L1298.7,420.3 L1298.7,419.5 L1300.2,419.5 L1300.2,418.7 L1300.2,417.9 L1301.5,417.9 L1301.5,417.2 L1301.5,416.3 L1303.0,416.3 L1303.0,415.5 L1303.0,415.0 L1304.0,415.0 L1304.0,414.4 L1304.0,413.9 L1305.0,413.9 L1305.0,413.3 L1305.0,412.4 L1306.4,412.4 L1306.4,411.5 L1306.4,410.9 L1307.4,410.9 L1307.4,410.3 L1307.4,409.4 L1308.8,409.4 L1308.8,408.5 L1308.8,407.5 L1310.5,407.5 L1310.5,406.4 L1310.5,405.7 L1311.7,405.7 L1311.7,405.0 L1311.7,403.9 L1313.4,403.9 L1313.4,402.8 L1313.4,402.0 L1314.7,402.0 L1314.7,401.1 L1314.7,401.0 L1315.0,401.0 L1315.0,400.8 L1315.0,400.1 L1316.4,400.1 L1316.4,399.4 L1316.4,398.5 L1318.1,398.5 L1318.1,397.7 L1318.1,396.8 L1319.8,396.8 L1319.8,396.0 L1319.8,395.5 L1320.8,395.5 L1320.8,395.0 L1320.8,394.2 L1322.3,394.2 L1322.3,393.5 L1322.3,392.8 L1323.8,392.8 L1323.8,392.0 L1323.8,391.4 L1325.0,391.4 L1325.0,390.8 L1325.0,390.1 L1326.7,390.1 L1326.7,389.3 L1326.7,388.4 L1328.7,388.4 L1328.7,387.6 L1328.7,386.7 L1330.5,386.7 L1330.5,385.9 L1330.5,385.1 L1332.4,385.1 L1332.4,384.3 L1332.4,383.8 L1333.5,383.8 L1333.5,383.3 L1333.5,382.7 L1335.0,382.7 L1335.0,382.0 L1335.0,381.5 L1337.0,381.5 L1337.0,381.0 L1337.0,380.4 L1339.4,380.4 L1339.4,379.8 L1339.4,379.5 L1340.5,379.5 L1340.5,379.3 L1340.5,378.9 L1341.8,378.9 L1341.8,378.6 L1341.8,378.0 L1344.3,378.0 L1344.3,377.4 L1344.3,377.2 L1345.0,377.2 L1345.0,377.0 L1345.0,376.2 L1346.8,376.2 L1346.8,375.5 L1346.8,374.8 L1348.4,374.8 L1348.4,374.1 L1348.4,373.5 L1349.8,373.5 L1349.8,372.9 L1349.8,372.2 L1351.2,372.2 L1351.2,371.6 L1351.2,370.9 L1352.8,370.9 L1352.8,370.2 L1352.8,369.3 L1354.9,369.3 L1354.9,368.4 L1354.9,368.4 L1355.0,368.4 L1355.0,368.3 L1355.0,367.5 L1356.9,367.5 L1356.9,366.8 L1356.9,366.2 L1358.2,366.2 L1358.2,365.7 L1358.2,365.0 L1360.1,365.0 L1360.1,364.2 L1360.1,363.6 L1361.8,363.6 L1361.8,362.9 L1361.8,362.1 L1363.6,362.1 L1363.6,361.4 L1363.6,360.6 L1365.7,360.6 L1365.7,359.8 L1365.7,359.4 L1366.7,359.4 L1366.7,358.9 L1366.7,358.6 L1367.5,358.6 L1367.5,358.3 L1367.5,357.5 L1369.0,357.5 L1369.0,356.8 L1369.0,356.2 L1370.2,356.2 L1370.2,355.6 L1370.2,354.9 L1371.6,354.9 L1371.6,354.2 L1371.6,353.8 L1372.5,353.8 L1372.5,353.3 L1372.5,352.7 L1373.6,352.7 L1373.6,352.2 L1373.6,351.3 L1375.4,351.3 L1375.4,350.4 L1375.4,349.6 L1377.1,349.6 L1377.1,348.7 L1377.1,347.8 L1378.9,347.8 L1378.9,346.9 L1378.9,346.4 L1379.9,346.4 L1379.9,345.9 L1379.9,345.8 L1380.0,345.8 L1380.0,345.8 L1380.0,345.2 L1381.3,345.2 L1381.3,344.6 L1381.3,343.9 L1382.8,343.9 L1382.8,343.3 L1382.8,342.5 L1384.6,342.5 L1384.6,341.7 L1384.6,341.1 L1385.8,341.1 L1385.8,340.6 L1385.8,339.8 L1387.6,339.8 L1387.6,339.0 L1387.6,338.3 L1389.2,338.3 L1389.2,337.6 L1389.2,337.2 L1390.0,337.2 L1390.0,336.8 L1390.0,335.9 L1391.8,335.9 L1391.8,335.1 L1391.8,334.6 L1392.7,334.6 L1392.7,334.1 L1392.7,333.4 L1394.2,333.4 L1394.2,332.6 L1394.2,332.1 L1395.3,332.1 L1395.3,331.6 L1395.3,331.1 L1396.2,331.1 L1396.2,330.7 L1396.2,330.0 L1397.6,330.0 L1397.6,329.3 L1397.6,328.6 L1399.0,328.6 L1399.0,327.9 L1399.0,327.1 L1400.6,327.1 L1400.6,326.4 L1400.6,325.7 L1401.9,325.7 L1401.9,325.1 L1401.9,324.1 L1403.8,324.1 L1403.8,323.2 L1403.8,322.6 L1405.0,322.6 L1405.0,322.0 L1405.0,321.5 L1406.1,321.5 L1406.1,321.0 L1406.1,320.6 L1407.0,320.6 L1407.0,320.3 L1407.0,319.4 L1409.1,319.4 L1409.1,318.5 L1409.1,317.8 L1410.5,317.8 L1410.5,317.2 L1410.5,316.8 L1411.5,316.8 L1411.5,316.3 L1411.5,315.8 L1412.6,315.8 L1412.6,315.3 L1412.6,314.6 L1414.3,314.6 L1414.3,313.8 L1414.3,313.3 L1415.5,313.3 L1415.5,312.8 L1415.5,312.3 L1416.8,312.3 L1416.8,311.7 L1416.8,310.9 L1418.5,310.9 L1418.5,310.2 L1418.5,309.6 L1419.9,309.6 L1419.9,309.0 L1419.9,308.3 L1421.6,308.3 L1421.6,307.5 L1421.6,306.6 L1423.6,306.6 L1423.6,305.7 L1423.6,305.1 L1425.0,305.1 L1425.0,304.5 L1425.0,304.0 L1426.9,304.0 L1426.9,303.4 L1426.9,302.9 L1428.8,302.9 L1428.8,302.3 L1428.8,301.9 L1430.3,301.9 L1430.3,301.5 L1430.3,301.0 L1432.3,301.0 L1432.3,300.4 L1432.3,299.9 L1434.2,299.9 L1434.2,299.3 L1434.2,298.8 L1436.1,298.8 L1436.1,298.3 L1436.1,297.8 L1437.8,297.8 L1437.8,297.3 L1437.8,296.7 L1439.9,296.7 L1439.9,296.1 L1439.9,295.8 L1441.2,295.8 L1441.2,295.4 L1441.2,294.8 L1443.3,294.8 L1443.3,294.3 L1443.3,293.8 L1445.0,293.8 L1445.0,293.3 L1445.0,293.0 L1446.1,293.0 L1446.1,292.6 L1446.1,292.2 L1447.4,292.2 L1447.4,291.7 L1447.4,291.0 L1449.7,291.0 L1449.7,290.2 L1449.7,289.9 L1450.9,289.9 L1450.9,289.5 L1450.9,288.8 L1453.0,288.8 L1453.0,288.2 L1453.0,287.6 L1454.8,287.6 L1454.8,287.0 L1454.8,286.6 L1455.9,286.6 L1455.9,286.3 L1455.9,285.7 L1457.7,285.7 L1457.7,285.1 L1457.7,284.8 L1458.7,284.8 L1458.7,284.4 L1458.7,283.7 L1460.9,283.7 L1460.9,283.0 L1460.9,282.6 L1462.3,282.6 L1462.3,282.1 L1462.3,282.1 L1462.5,282.1 L1462.5,282.0 L1462.5,281.2 L1464.6,281.2 L1464.6,280.4 L1464.6,280.0 L1465.7,280.0 L1465.7,279.6 L1465.7,279.0 L1467.2,279.0 L1467.2,278.5 L1467.2,278.0 L1468.4,278.0 L1468.4,277.6 L1468.4,276.9 L1470.3,276.9 L1470.3,276.2 L1470.3,275.8 L1471.4,275.8 L1471.4,275.4 L1471.4,275.0 L1472.5,275.0 L1472.5,274.6 L1472.5,274.2 L1473.6,274.2 L1473.6,273.7 L1473.6,273.0 L1475.6,273.0 L1475.6,272.2 L1475.6,271.7 L1476.9,271.7 L1476.9,271.2 L1476.9,271.0 L1477.5,271.0 L1477.5,270.8 L1477.5,270.2 L1479.0,270.2 L1479.0,269.6 L1479.0,269.0 L1480.6,269.0 L1480.6,268.3 L1480.6,267.7 L1482.1,267.7 L1482.1,267.2 L1482.1,266.3 L1484.2,266.3 L1484.2,265.5 L1484.2,265.0 L1485.6,265.0 L1485.6,264.4 L1485.6,263.8 L1487.1,263.8 L1487.1,263.2 L1487.1,262.4 L1489.2,262.4 L1489.2,261.6 L1489.2,261.1 L1490.4,261.1 L1490.4,260.6 L1490.4,260.2 L1491.6,260.2 L1491.6,259.7 L1491.6,258.9 L1493.6,258.9 L1493.6,258.1 L1493.6,257.6 L1494.9,257.6 L1494.9,257.1 L1494.9,257.0 L1495.0,257.0 L1495.0,257.0 L1495.0,256.4 L1497.3,256.4 L1497.3,255.9 L1497.3,255.5 L1498.9,255.5 L1498.9,255.1 L1498.9,254.7 L1500.4,254.7 L1500.4,254.3 L1500.4,254.0 L1501.6,254.0 L1501.6,253.7 L1501.6,253.1 L1504.0,253.1 L1504.0,252.5 L1504.0,252.1 L1505.7,252.1 L1505.7,251.7 L1505.7,251.3 L1507.2,251.3 L1507.2,250.9 L1507.2,250.6 L1508.6,250.6 L1508.6,250.3 L1508.6,249.9 L1510.0,249.9 L1510.0,249.6 L1510.0,249.0 L1512.3,249.0 L1512.3,248.4 L1512.3,248.4 L1512.5,248.4 L1512.5,248.3 L1512.5,247.8 L1514.3,247.8 L1514.3,247.3 L1514.3,246.7 L1516.2,246.7 L1516.2,246.2 L1516.2,245.7 L1518.0,245.7 L1518.0,245.2 L1518.0,244.7 L1519.7,244.7 L1519.7,244.2 L1519.7,243.7 L1521.3,243.7 L1521.3,243.3 L1521.3,242.9 L1522.6,242.9 L1522.6,242.5 L1522.6,241.9 L1524.8,241.9 L1524.8,241.3 L1524.8,240.6 L1527.1,240.6 L1527.1,240.0 L1527.1,239.4 L1528.9,239.4 L1528.9,238.9 L1528.9,238.6 L1530.0,238.6 L1530.0,238.3 L1530.0,237.4 L1532.0,237.4 L1532.0,236.6 L1532.0,236.1 L1533.2,236.1 L1533.2,235.6 L1533.2,235.2 L1534.3,235.2 L1534.3,234.7 L1534.3,234.0 L1536.0,234.0 L1536.0,233.3 L1536.0,232.5 L1538.0,232.5 L1538.0,231.7 L1538.0,231.0 L1539.6,231.0 L1539.6,230.3 L1539.6,229.9 L1540.7,229.9 L1540.7,229.4 L1540.7,228.5 L1542.8,228.5 L1542.8,227.6 L1542.8,227.2 L1543.9,227.2 L1543.9,226.7 L1543.9,226.3 L1545.0,226.3 L1545.0,225.8 L1545.0,225.2 L1547.5,225.2 L1547.5,224.6 L1547.5,224.0 L1549.7,224.0 L1549.7,223.5 L1549.7,222.9 L1551.8,222.9 L1551.8,222.4 L1551.8,222.1 L1553.0,222.1 L1553.0,221.8 L1553.0,221.2 L1555.3,221.2 L1555.3,220.6 L1555.3,220.2 L1557.0,220.2 L1557.0,219.8 L1557.0,219.5 L1558.1,219.5 L1558.1,219.3 L1558.1,218.7 L1560.3,218.7 L1560.3,218.2 L1560.3,217.6 L1562.7,217.6 L1562.7,217.0 L1562.7,216.7 L1563.8,216.7 L1563.8,216.4 L1563.8,216.1 L1565.0,216.1 L1565.0,215.8 L1565.0,215.3 L1567.4,215.3 L1567.4,214.8 L1567.4,214.4 L1569.0,214.4 L1569.0,214.1 L1569.0,213.7 L1570.6,213.7 L1570.6,213.4 L1570.6,212.9 L1572.8,212.9 L1572.8,212.4 L1572.8,212.1 L1574.6,212.1 L1574.6,211.7 L1574.6,211.1 L1577.1,211.1 L1577.1,210.6 L1577.1,210.1 L1579.5,210.1 L1579.5,209.6 L1579.5,209.1 L1581.9,209.1 L1581.9,208.6 L1581.9,208.4 L1582.5,208.4 L1582.5,208.3 L1582.5,208.0 L1583.9,208.0 L1583.9,207.7 L1583.9,207.3 L1586.0,207.3 L1586.0,206.8 L1586.0,206.4 L1588.0,206.4 L1588.0,206.0 L1588.0,205.6 L1589.8,205.6 L1589.8,205.2 L1589.8,204.8 L1591.7,204.8 L1591.7,204.4 L1591.7,204.0 L1593.3,204.0 L1593.3,203.7 L1593.3,203.4 L1594.7,203.4 L1594.7,203.1 L1594.7,202.6 L1597.1,202.6 L1597.1,202.0 L1597.1,201.7 L1598.7,201.7 L1598.7,201.3 L1598.7,201.1 L1600.0,201.1 L1600.0,200.8 L1600.0,200.8 L1600.0,200.8 L1600.0,200.8 L1600.0,200.4 L1601.8,200.4 L1601.8,200.0 L1601.8,199.5 L1603.9,199.5 L1603.9,199.1 L1603.9,198.7 L1605.5,198.7 L1605.5,198.4 L1605.5,198.1 L1606.8,198.1 L1606.8,197.8 L1606.8,197.4 L1608.4,197.4 L1608.4,197.1 L1608.4,196.6 L1610.8,196.6 L1610.8,196.1 L1610.8,195.7 L1612.2,195.7 L1612.2,195.4 L1612.2,194.9 L1614.7,194.9 L1614.7,194.3 L1614.7,194.0 L1616.2,194.0 L1616.2,193.7 L1616.2,193.1 L1618.6,193.1 L1618.6,192.6 L1618.6,192.3 L1620.0,192.3 L1620.0,192.0 L1620.0,191.6 L1621.8,191.6 L1621.8,191.2 L1621.8,191.0 L1623.0,191.0 L1623.0,190.7 L1623.0,190.4 L1624.4,190.4 L1624.4,190.1 L1624.4,189.7 L1626.2,189.7 L1626.2,189.3 L1626.2,188.9 L1627.9,188.9 L1627.9,188.6 L1627.9,188.2 L1629.8,188.2 L1629.8,187.8 L1629.8,187.4 L1631.2,187.4 L1631.2,187.1 L1631.2,186.8 L1632.7,186.8 L1632.7,186.5 L1632.7,186.1 L1634.3,186.1 L1634.3,185.8 L1634.3,185.3 L1636.7,185.3 L1636.7,184.7 L1636.7,184.5 L1637.9,184.5 L1637.9,184.2 L1637.9,183.8 L1639.6,183.8 L1639.6,183.5 L1639.6,183.4 L1640.0,183.4 L1640.0,183.3 L1640.0,183.0 L1642.0,183.0 L1642.0,182.6 L1642.0,182.4 L1643.5,182.4 L1643.5,182.1 L1643.5,181.7 L1646.2,181.7 L1646.2,181.2 L1646.2,181.0 L1647.5,181.0 L1647.5,180.8 L1647.5,180.6 L1648.8,180.6 L1648.8,180.4 L1648.8,180.2 L1650.0,180.2 L1650.0,180.0 L1650.0,179.7 L1651.8,179.7 L1651.8,179.4 L1651.8,179.0 L1654.2,179.0 L1654.2,178.6 L1654.2,178.4 L1655.0,178.4 L1655.0,178.3 L1655.0,177.9 L1656.4,177.9 L1656.4,177.5 L1656.4,176.8 L1658.6,176.8 L1658.6,176.2 L1658.6,175.9 L1659.7,175.9 L1659.7,175.5 L1659.7,175.2 L1660.8,175.2 L1660.8,174.9 L1660.8,174.4 L1662.7,174.4 L1662.7,173.8 L1662.7,173.5 L1663.9,173.5 L1663.9,173.1 L1663.9,172.6 L1665.7,172.6 L1665.7,172.1 L1665.7,171.7 L1666.9,171.7 L1666.9,171.4 L1666.9,171.3 L1667.0,171.3 L1667.0,171.3 L1667.0,170.9 L1669.5,170.9 L1669.5,170.6 L1669.5,170.3 L1671.3,170.3 L1671.3,170.0 L1671.3,169.8 L1672.9,169.8 L1672.9,169.5 L1672.9,169.2 L1675.0,169.2 L1675.0,168.9 L1675.0,168.6 L1677.2,168.6 L1677.2,168.2 L1677.2,168.1 L1678.4,168.1 L1678.4,167.9 L1678.4,167.6 L1679.9,167.6 L1679.9,167.4 L1679.9,167.2 L1681.7,167.2 L1681.7,166.9 L1681.7,166.6 L1683.6,166.6 L1683.6,166.3 L1683.6,166.1 L1685.2,166.1 L1685.2,165.9 L1685.2,165.5 L1687.3,165.5 L1687.3,165.2 L1687.3,165.0 L1688.9,165.0 L1688.9,164.7 L1688.9,164.4 L1691.4,164.4 L1691.4,164.0 L1691.4,163.9 L1692.0,163.9 L1692.0,163.8 L1692.0,163.5 L1693.5,163.5 L1693.5,163.3 L1693.5,163.0 L1694.7,163.0 L1694.7,162.8 L1694.7,162.5 L1696.0,162.5 L1696.0,162.3 L1696.0,162.0 L1697.5,162.0 L1697.5,161.7 L1697.5,161.3 L1699.9,161.3 L1699.9,160.8 L1699.9,160.5 L1701.6,160.5 L1701.6,160.2 L1701.6,159.8 L1703.4,159.8 L1703.4,159.5 L1703.4,159.0 L1706.0,159.0 L1706.0,158.5 L1706.0,158.1 L1708.6,158.1 L1708.6,157.6 L1708.6,157.1 L1710.8,157.1 L1710.8,156.7 L1710.8,156.4 L1712.3,156.4 L1712.3,156.2 L1712.3,155.9 L1713.9,155.9 L1713.9,155.6 L1713.9,155.2 L1715.8,155.2 L1715.8,154.8 L1715.8,154.6 L1717.0,154.6 L1717.0,154.4 L1717.0,154.0 L1718.6,154.0 L1718.6,153.6 L1718.6,153.3 L1720.0,153.3 L1720.0,153.0 L1720.0,152.6 L1721.4,152.6 L1721.4,152.3 L1721.4,151.8 L1723.6,151.8 L1723.6,151.3 L1723.6,150.8 L1725.5,150.8 L1725.5,150.3 L1725.5,149.9 L1727.3,149.9 L1727.3,149.5 L1727.3,149.1 L1729.0,149.1 L1729.0,148.7 L1729.0,148.2 L1731.0,148.2 L1731.0,147.7 L1731.0,147.2 L1733.1,147.2 L1733.1,146.8 L1733.1,146.5 L1734.2,146.5 L1734.2,146.2 L1734.2,145.7 L1736.5,145.7 L1736.5,145.1 L1736.5,144.7 L1738.2,144.7 L1738.2,144.3 L1738.2,143.9 L1739.8,143.9 L1739.8,143.5 L1739.8,143.0 L1742.0,143.0 L1742.0,142.5 L1742.0,142.2 L1744.3,142.2 L1744.3,141.9 L1744.3,141.6 L1746.0,141.6 L1746.0,141.4 L1746.0,141.2 L1747.2,141.2 L1747.2,141.1 L1747.2,140.8 L1749.0,140.8 L1749.0,140.6 L1749.0,140.3 L1750.9,140.3 L1750.9,140.0 L1750.9,139.8 L1752.6,139.8 L1752.6,139.6 L1752.6,139.4 L1753.9,139.4 L1753.9,139.2 L1753.9,138.9 L1756.0,138.9 L1756.0,138.6 L1756.0,138.4 L1757.5,138.4 L1757.5,138.2 L1757.5,137.9 L1759.9,137.9 L1759.9,137.6 L1759.9,137.3 L1761.8,137.3 L1761.8,137.0 L1761.8,136.8 L1763.4,136.8 L1763.4,136.6 L1763.4,136.2 L1765.9,136.2 L1765.9,135.9 L1765.9,135.8 L1767.0,135.8 L1767.0,135.6 L1767.0,135.4 L1768.3,135.4 L1768.3,135.2 L1768.3,134.9 L1769.8,134.9 L1769.8,134.7 L1769.8,134.5 L1771.1,134.5 L1771.1,134.3 L1771.1,134.0 L1772.9,134.0 L1772.9,133.7 L1772.9,133.3 L1775.4,133.3 L1775.4,132.9 L1775.4,132.5 L1778.0,132.5 L1778.0,132.1 L1778.0,131.7 L1780.1,131.7 L1780.1,131.4 L1780.1,131.1 L1781.5,131.1 L1781.5,130.9 L1781.5,130.7 L1783.0,130.7 L1783.0,130.4 L1783.0,130.2 L1784.4,130.2 L1784.4,130.0 L1784.4,129.7 L1786.1,129.7 L1786.1,129.4 L1786.1,129.1 L1788.2,129.1 L1788.2,128.7 L1788.2,128.5 L1789.4,128.5 L1789.4,128.3 L1789.4,128.0 L1791.3,128.0 L1791.3,127.7 L1791.3,127.6 L1792.0,127.6 L1792.0,127.5 L1792.0,127.3 L1794.2,127.3 L1794.2,127.0 L1794.2,126.7 L1796.7,126.7 L1796.7,126.5 L1796.7,126.3 L1798.5,126.3 L1798.5,126.1 L1798.5,125.8 L1800.6,125.8 L1800.6,125.6 L1800.6,125.4 L1802.2,125.4 L1802.2,125.2 L1802.2,125.0 L1804.0,125.0 L1804.0,124.8 L1804.0,124.6 L1806.2,124.6 L1806.2,124.3 L1806.2,124.2 L1807.5,124.2 L1807.5,124.0 L1807.5,123.8 L1809.4,123.8 L1809.4,123.6 L1809.4,123.4 L1811.4,123.4 L1811.4,123.2 L1811.4,123.0 L1812.8,123.0 L1812.8,122.8 L1812.8,122.7 L1814.4,122.7 L1814.4,122.5 L1814.4,122.2 L1816.9,122.2 L1816.9,121.9 L1816.9,121.9 L1817.0,121.9 L1817.0,121.9 L1817.0,121.7 L1818.5,121.7 L1818.5,121.5 L1818.5,121.3 L1820.1,121.3 L1820.1,121.1 L1820.1,120.9 L1822.0,120.9 L1822.0,120.6 L1822.0,120.4 L1823.8,120.4 L1823.8,120.2 L1823.8,120.0 L1825.5,120.0 L1825.5,119.8 L1825.5,119.5 L1827.2,119.5 L1827.2,119.3 L1827.2,119.1 L1828.7,119.1 L1828.7,119.0 L1828.7,118.7 L1830.6,118.7 L1830.6,118.5 L1830.6,118.2 L1832.7,118.2 L1832.7,117.9 L1832.7,117.8 L1834.0,117.8 L1834.0,117.6 L1834.0,117.3 L1836.1,117.3 L1836.1,117.1 L1836.1,116.9 L1837.8,116.9 L1837.8,116.7 L1837.8,116.3 L1840.4,116.3 L1840.4,116.0 L1840.4,115.8 L1842.0,115.8 L1842.0,115.6 L1842.0,115.5 L1843.4,115.5 L1843.4,115.4 L1843.4,115.2 L1845.7,115.2 L1845.7,115.0 L1845.7,114.8 L1847.4,114.8 L1847.4,114.7 L1847.4,114.6 L1848.8,114.6 L1848.8,114.5 L1848.8,114.3 L1851.3,114.3 L1851.3,114.0 L1851.3,113.8 L1853.9,113.8 L1853.9,113.6 L1853.9,113.4 L1856.4,113.4 L1856.4,113.2 L1856.4,113.2 L1857.0,113.2 L1857.0,113.1 L1857.0,112.5 L1859.5,112.5 L1859.5,112.0 L1859.5,111.7 L1860.5,111.7 L1860.5,111.5"/>
<path class="cv" stroke="#00cd00" d="M1127.5,770.8 L1127.5,769.7 L1127.7,769.7 L1127.7,768.5 L1127.7,767.4 L1128.0,767.4 L1128.0,766.3 L1128.0,765.0 L1128.2,765.0 L1128.2,763.7 L1128.2,762.5 L1128.5,762.5 L1128.5,761.2 L1128.5,760.3 L1128.7,760.3 L1128.7,759.5 L1128.7,758.7 L1128.8,758.7 L1128.8,758.0 L1128.8,756.9 L1129.1,756.9 L1129.1,755.9 L1129.1,754.9 L1129.3,754.9 L1129.3,753.8 L1129.3,752.9 L1129.5,752.9 L1129.5,752.0 L1129.5,750.8 L1129.7,750.8 L1129.7,749.5 L1129.7,748.2 L1130.0,748.2 L1130.0,747.0 L1130.0,745.9 L1130.5,745.9 L1130.5,744.8 L1130.5,743.8 L1130.9,743.8 L1130.9,742.7 L1130.9,741.6 L1131.4,741.6 L1131.4,740.5 L1131.4,739.8 L1131.8,739.8 L1131.8,739.0 L1131.8,737.8 L1132.3,737.8 L1132.3,736.6 L1132.3,735.9 L1132.6,735.9 L1132.6,735.2 L1132.6,733.9 L1133.2,733.9 L1133.2,732.6 L1133.2,731.6 L1133.7,731.6 L1133.7,730.5 L1133.7,729.7 L1134.0,729.7 L1134.0,728.9 L1134.0,728.1 L1134.4,728.1 L1134.4,727.4 L1134.4,726.4 L1134.8,726.4 L1134.8,725.3 L1134.8,724.9 L1135.0,724.9 L1135.0,724.5 L1135.0,723.4 L1135.5,723.4 L1135.5,722.2 L1135.5,721.6 L1135.8,721.6 L1135.8,720.9 L1135.8,719.6 L1136.4,719.6 L1136.4,718.4 L1136.4,717.5 L1136.8,717.5 L1136.8,716.5 L1136.8,715.6 L1137.2,715.6 L1137.2,714.7 L1137.2,713.5 L1137.7,713.5 L1137.7,712.4 L1137.7,711.3 L1138.2,711.3 L1138.2,710.2 L1138.2,709.3 L1138.6,709.3 L1138.6,708.4 L1138.6,707.6 L1138.9,707.6 L1138.9,706.7 L1138.9,705.8 L1139.4,705.8 L1139.4,704.8 L1139.4,704.2 L1139.6,704.2 L1139.6,703.6 L1139.6,702.8 L1140.0,702.8 L1140.0,702.0 L1140.0,702.0 L1140.0,702.0 L1140.0,702.0 L1140.0,701.3 L1140.4,701.3 L1140.4,700.7 L1140.4,700.0 L1140.9,700.0 L1140.9,699.4 L1140.9,698.2 L1141.7,698.2 L1141.7,697.0 L1141.7,696.1 L1142.2,696.1 L1142.2,695.3 L1142.2,694.3 L1142.9,694.3 L1142.9,693.3 L1142.9,692.3 L1143.6,692.3 L1143.6,691.3 L1143.6,690.2 L1144.3,690.2 L1144.3,689.1 L1144.3,688.3 L1144.8,688.3 L1144.8,687.5 L1144.8,686.3 L1145.6,686.3 L1145.6,685.1 L1145.6,684.6 L1146.0,684.6 L1146.0,684.0 L1146.0,682.8 L1146.8,682.8 L1146.8,681.6 L1146.8,680.8 L1147.3,680.8 L1147.3,680.0 L1147.3,679.7 L1147.5,679.7 L1147.5,679.5 L1147.5,678.7 L1148.0,678.7 L1148.0,677.9 L1148.0,676.8 L1148.8,676.8 L1148.8,675.6 L1148.8,674.8 L1149.4,674.8 L1149.4,673.9 L1149.4,672.9 L1150.0,672.9 L1150.0,671.9 L1150.0,671.0 L1150.6,671.0 L1150.6,670.2 L1150.6,669.0 L1151.4,669.0 L1151.4,667.8 L1151.4,666.7 L1152.2,666.7 L1152.2,665.5 L1152.2,664.8 L1152.6,664.8 L1152.6,664.1 L1152.6,662.9 L1153.4,662.9 L1153.4,661.8 L1153.4,660.5 L1154.3,660.5 L1154.3,659.2 L1154.3,658.5 L1154.8,658.5 L1154.8,657.7 L1154.8,657.4 L1155.0,657.4 L1155.0,657.0 L1155.0,655.7 L1155.8,655.7 L1155.8,654.4 L1155.8,653.1 L1156.6,653.1 L1156.6,651.8 L1156.6,651.2 L1157.1,651.2 L1157.1,650.5 L1157.1,649.3 L1157.8,649.3 L1157.8,648.2 L1157.8,646.9 L1158.6,646.9 L1158.6,645.6 L1158.6,644.8 L1159.1,644.8 L1159.1,644.0 L1159.1,642.9 L1159.8,642.9 L1159.8,641.7 L1159.8,640.9 L1160.3,640.9 L1160.3,640.1 L1160.3,638.9 L1161.1,638.9 L1161.1,637.8 L1161.1,636.8 L1161.7,636.8 L1161.7,635.8 L1161.7,634.9 L1162.3,634.9 L1162.3,634.0 L1162.3,633.6 L1162.5,633.6 L1162.5,633.3 L1162.5,632.3 L1163.6,632.3 L1163.6,631.3 L1163.6,630.3 L1164.7,630.3 L1164.7,629.3 L1164.7,628.6 L1165.5,628.6 L1165.5,627.8 L1165.5,627.3 L1166.1,627.3 L1166.1,626.7 L1166.1,626.1 L1166.7,626.1 L1166.7,625.5 L1166.7,624.8 L1167.5,624.8 L1167.5,624.1 L1167.5,622.9 L1168.8,622.9 L1168.8,621.7 L1168.8,620.6 L1170.0,620.6 L1170.0,619.6 L1170.0,619.5 L1170.0,619.5 L1170.0,619.5 L1170.0,618.4 L1171.0,618.4 L1171.0,617.3 L1171.0,616.7 L1171.6,616.7 L1171.6,616.0 L1171.6,615.2 L1172.4,615.2 L1172.4,614.4 L1172.4,613.2 L1173.5,613.2 L1173.5,611.9 L1173.5,610.8 L1174.6,610.8 L1174.6,609.6 L1174.6,608.3 L1175.8,608.3 L1175.8,607.1 L1175.8,605.9 L1176.8,605.9 L1176.8,604.8 L1176.8,604.0 L1177.5,604.0 L1177.5,603.3 L1177.5,602.2 L1178.7,602.2 L1178.7,601.2 L1178.7,600.0 L1179.9,600.0 L1179.9,598.8 L1179.9,598.0 L1180.8,598.0 L1180.8,597.2 L1180.8,596.6 L1181.4,596.6 L1181.4,596.1 L1181.4,595.3 L1182.2,595.3 L1182.2,594.6 L1182.2,594.0 L1182.8,594.0 L1182.8,593.5 L1182.8,592.8 L1183.6,592.8 L1183.6,592.1 L1183.6,591.1 L1184.6,591.1 L1184.6,590.2 L1184.6,589.8 L1185.0,589.8 L1185.0,589.5 L1185.0,588.8 L1185.7,588.8 L1185.7,588.1 L1185.7,587.5 L1186.3,587.5 L1186.3,586.9 L1186.3,586.1 L1187.1,586.1 L1187.1,585.3 L1187.1,584.4 L1188.0,584.4 L1188.0,583.5 L1188.0,582.5 L1189.0,582.5 L1189.0,581.5 L1189.0,580.3 L1190.2,580.3 L1190.2,579.1 L1190.2,578.5 L1190.8,578.5 L1190.8,577.9 L1190.8,577.2 L1191.5,577.2 L1191.5,576.5 L1191.5,575.9 L1192.1,575.9 L1192.1,575.3 L1192.1,574.9 L1192.5,574.9 L1192.5,574.5 L1192.5,573.5 L1193.5,573.5 L1193.5,572.5 L1193.5,571.5 L1194.5,571.5 L1194.5,570.5 L1194.5,569.4 L1195.6,569.4 L1195.6,568.3 L1195.6,567.7 L1196.1,567.7 L1196.1,567.2 L1196.1,567.0 L1196.3,567.0 L1196.3,566.8 L1196.3,566.1 L1197.2,566.1 L1197.2,565.3 L1197.2,564.4 L1198.3,564.4 L1198.3,563.4 L1198.3,562.6 L1199.2,562.6 L1199.2,561.8 L1199.2,560.8 L1200.4,560.8 L1200.4,559.8 L1200.4,559.0 L1201.3,559.0 L1201.3,558.3 L1201.3,557.6 L1202.1,557.6 L1202.1,556.9 L1202.1,556.2 L1202.9,556.2 L1202.9,555.5 L1202.9,554.5 L1204.1,554.5 L1204.1,553.5 L1204.1,552.7 L1205.0,552.7 L1205.0,552.0 L1205.0,551.4 L1205.7,551.4 L1205.7,550.7 L1205.7,550.0 L1206.6,550.0 L1206.6,549.2 L1206.6,548.3 L1207.6,548.3 L1207.6,547.4 L1207.6,546.6 L1208.5,546.6 L1208.5,545.8 L1208.5,544.9 L1209.6,544.9 L1209.6,544.0 L1209.6,542.8 L1210.9,542.8 L1210.9,541.7 L1210.9,540.8 L1212.0,540.8 L1212.0,539.8 L1212.0,538.7 L1213.2,538.7 L1213.2,537.7 L1213.2,536.9 L1214.0,536.9 L1214.0,536.2 L1214.0,535.3 L1215.0,535.3 L1215.0,534.5 L1215.0,533.3 L1216.3,533.3 L1216.3,532.2 L1216.3,531.3 L1217.4,531.3 L1217.4,530.4 L1217.4,529.8 L1218.0,529.8 L1218.0,529.3 L1218.0,528.7 L1218.6,528.7 L1218.6,528.1 L1218.6,527.1 L1219.8,527.1 L1219.8,526.0 L1219.8,524.9 L1221.1,524.9 L1221.1,523.8 L1221.1,522.8 L1222.3,522.8 L1222.3,521.7 L1222.3,520.9 L1223.3,520.9 L1223.3,520.0 L1223.3,519.1 L1224.3,519.1 L1224.3,518.2 L1224.3,517.6 L1225.0,517.6 L1225.0,517.0 L1225.0,517.0 L1225.0,517.0 L1225.0,517.0 L1225.0,515.8 L1226.6,515.8 L1226.6,514.7 L1226.6,514.0 L1227.4,514.0 L1227.4,513.4 L1227.4,512.5 L1228.6,512.5 L1228.6,511.6 L1228.6,510.5 L1230.0,510.5 L1230.0,509.5 L1230.0,508.5 L1231.3,508.5 L1231.3,507.6 L1231.3,506.9 L1232.2,506.9 L1232.2,506.1 L1232.2,505.5 L1233.1,505.5 L1233.1,504.8 L1233.1,503.8 L1234.4,503.8 L1234.4,502.8 L1234.4,502.4 L1235.0,502.4 L1235.0,502.0 L1235.0,500.9 L1236.4,500.9 L1236.4,499.8 L1236.4,499.1 L1237.5,499.1 L1237.5,498.3 L1237.5,497.3 L1238.8,497.3 L1238.8,496.3 L1238.8,495.3 L1240.2,495.3 L1240.2,494.2 L1240.2,493.5 L1241.2,493.5 L1241.2,492.7 L1241.2,491.7 L1242.5,491.7 L1242.5,490.7 L1242.5,490.0 L1243.5,490.0 L1243.5,489.2 L1243.5,488.6 L1244.4,488.6 L1244.4,488.0 L1244.4,487.5 L1245.0,487.5 L1245.0,487.0 L1245.0,486.0 L1246.4,486.0 L1246.4,485.1 L1246.4,484.1 L1247.8,484.1 L1247.8,483.2 L1247.8,482.6 L1248.6,482.6 L1248.6,482.1 L1248.6,481.6 L1249.3,481.6 L1249.3,481.1 L1249.3,480.4 L1250.3,480.4 L1250.3,479.7 L1250.3,479.1 L1251.2,479.1 L1251.2,478.5 L1251.2,477.5 L1252.6,477.5 L1252.6,476.5 L1252.6,475.9 L1253.5,475.9 L1253.5,475.3 L1253.5,474.5 L1254.8,474.5 L1254.8,473.6 L1254.8,473.5 L1255.0,473.5 L1255.0,473.3 L1255.0,472.6 L1256.0,472.6 L1256.0,471.8 L1256.0,470.8 L1257.4,470.8 L1257.4,469.7 L1257.4,468.9 L1258.5,468.9 L1258.5,468.1 L1258.5,467.3 L1259.6,467.3 L1259.6,466.4 L1259.6,465.5 L1260.8,465.5 L1260.8,464.6 L1260.8,463.8 L1261.9,463.8 L1261.9,463.0 L1261.9,462.4 L1262.7,462.4 L1262.7,461.8 L1262.7,460.6 L1264.2,460.6 L1264.2,459.5 L1264.2,458.9 L1265.0,458.9 L1265.0,458.3 L1265.0,457.4 L1266.1,457.4 L1266.1,456.6 L1266.1,455.7 L1267.3,455.7 L1267.3,454.9 L1267.3,454.0 L1268.5,454.0 L1268.5,453.1 L1268.5,452.4 L1269.4,452.4 L1269.4,451.7 L1269.4,451.2 L1270.1,451.2 L1270.1,450.6 L1270.1,449.7 L1271.3,449.7 L1271.3,448.9 L1271.3,447.8 L1272.7,447.8 L1272.7,446.7 L1272.7,446.1 L1273.5,446.1 L1273.5,445.6 L1273.5,444.4 L1275.0,444.4 L1275.0,443.3 L1275.0,442.5 L1275.9,442.5 L1275.9,441.7 L1275.9,440.5 L1277.2,440.5 L1277.2,439.3 L1277.2,438.2 L1278.4,438.2 L1278.4,437.2 L1278.4,436.4 L1279.2,436.4 L1279.2,435.7 L1279.2,435.1 L1280.0,435.1 L1280.0,434.4 L1280.0,433.2 L1281.2,433.2 L1281.2,432.1 L1281.2,432.0 L1281.3,432.0 L1281.3,432.0 L1281.3,431.1 L1283.1,431.1 L1283.1,430.2 L1283.1,429.5 L1284.6,429.5 L1284.6,428.7 L1284.6,428.0 L1286.0,428.0 L1286.0,427.3 L1286.0,426.4 L1287.8,426.4 L1287.8,425.5 L1287.8,424.6 L1289.5,424.6 L1289.5,423.8 L1289.5,423.5 L1290.0,423.5 L1290.0,423.3 L1290.0,422.8 L1291.3,422.8 L1291.3,422.2 L1291.3,421.4 L1293.2,421.4 L1293.2,420.6 L1293.2,419.7 L1295.3,419.7 L1295.3,418.8 L1295.3,418.1 L1296.9,418.1 L1296.9,417.4 L1296.9,417.0 L1297.8,417.0 L1297.8,416.7 L1297.8,416.2 L1298.8,416.2 L1298.8,415.8 L1298.8,415.3 L1300.8,415.3 L1300.8,414.9 L1300.8,414.5 L1302.6,414.5 L1302.6,414.1 L1302.6,413.6 L1305.0,413.6 L1305.0,413.0 L1305.0,412.6 L1307.0,412.6 L1307.0,412.1 L1307.0,411.7 L1309.2,411.7 L1309.2,411.2 L1309.2,411.0 L1310.0,411.0 L1310.0,410.8 L1310.0,409.9 L1311.0,409.9 L1311.0,409.1 L1311.0,408.0 L1312.3,408.0 L1312.3,407.0 L1312.3,405.9 L1313.6,405.9 L1313.6,404.8 L1313.6,403.6 L1315.0,403.6 L1315.0,402.5 L1315.0,401.8 L1315.8,401.8 L1315.8,401.1 L1315.8,400.2 L1316.8,400.2 L1316.8,399.4 L1316.8,398.8 L1317.5,398.8 L1317.5,398.3 L1317.5,397.8 L1318.3,397.8 L1318.3,397.2 L1318.3,396.7 L1319.1,396.7 L1319.1,396.1 L1319.1,395.5 L1319.9,395.5 L1319.9,394.9 L1319.9,394.0 L1321.3,394.0 L1321.3,393.0 L1321.3,392.3 L1322.3,392.3 L1322.3,391.6 L1322.3,390.7 L1323.7,390.7 L1323.7,389.7 L1323.7,388.7 L1325.2,388.7 L1325.2,387.7 L1325.2,386.7 L1326.6,386.7 L1326.6,385.7 L1326.6,385.2 L1327.4,385.2 L1327.4,384.7 L1327.4,384.6 L1327.5,384.6 L1327.5,384.5 L1327.5,383.5 L1329.0,383.5 L1329.0,382.5 L1329.0,381.6 L1330.3,381.6 L1330.3,380.6 L1330.3,379.6 L1331.9,379.6 L1331.9,378.5 L1331.9,377.5 L1333.3,377.5 L1333.3,376.5 L1333.3,375.6 L1334.6,375.6 L1334.6,374.7 L1334.6,373.7 L1336.1,373.7 L1336.1,372.7 L1336.1,371.8 L1337.4,371.8 L1337.4,371.0 L1337.4,370.9 L1337.5,370.9 L1337.5,370.8 L1337.5,370.2 L1338.7,370.2 L1338.7,369.6 L1338.7,368.7 L1340.6,368.7 L1340.6,367.7 L1340.6,367.1 L1341.8,367.1 L1341.8,366.5 L1341.8,365.8 L1343.2,365.8 L1343.2,365.1 L1343.2,364.2 L1345.0,364.2 L1345.0,363.3 L1345.0,362.5 L1346.6,362.5 L1346.6,361.7 L1346.6,361.2 L1347.5,361.2 L1347.5,360.8 L1347.5,360.0 L1348.7,360.0 L1348.7,359.3 L1348.7,358.5 L1350.0,358.5 L1350.0,357.7 L1350.0,357.2 L1350.8,357.2 L1350.8,356.7 L1350.8,356.1 L1351.8,356.1 L1351.8,355.5 L1351.8,354.9 L1352.7,354.9 L1352.7,354.3 L1352.7,353.5 L1353.9,353.5 L1353.9,352.7 L1353.9,351.9 L1355.2,351.9 L1355.2,351.1 L1355.2,350.6 L1356.0,350.6 L1356.0,350.1 L1356.0,349.3 L1357.4,349.3 L1357.4,348.4 L1357.4,348.3 L1357.5,348.3 L1357.5,348.3 L1357.5,347.7 L1358.8,347.7 L1358.8,347.1 L1358.8,346.6 L1359.8,346.6 L1359.8,346.2 L1359.8,345.6 L1361.2,345.6 L1361.2,344.9 L1361.2,344.4 L1362.2,344.4 L1362.2,343.9 L1362.2,343.0 L1364.2,343.0 L1364.2,342.1 L1364.2,341.5 L1365.5,341.5 L1365.5,340.9 L1365.5,340.0 L1367.4,340.0 L1367.4,339.2 L1367.4,338.5 L1368.8,338.5 L1368.8,337.9 L1368.8,337.3 L1370.0,337.3 L1370.0,336.8 L1370.0,336.0 L1372.0,336.0 L1372.0,335.2 L1372.0,334.7 L1373.2,334.7 L1373.2,334.1 L1373.2,333.5 L1374.8,333.5 L1374.8,332.9 L1374.8,332.2 L1376.5,332.2 L1376.5,331.5 L1376.5,330.6 L1378.7,330.6 L1378.7,329.7 L1378.7,328.9 L1380.5,328.9 L1380.5,328.2 L1380.5,327.8 L1381.5,327.8 L1381.5,327.4 L1381.5,326.8 L1383.0,326.8 L1383.0,326.2 L1383.0,325.3 L1385.0,325.3 L1385.0,324.5 L1385.0,323.8 L1387.1,323.8 L1387.1,323.1 L1387.1,322.6 L1388.6,322.6 L1388.6,322.1 L1388.6,321.7 L1389.8,321.7 L1389.8,321.3 L1389.8,320.9 L1391.2,320.9 L1391.2,320.4 L1391.2,319.7 L1393.2,319.7 L1393.2,319.1 L1393.2,318.6 L1394.4,318.6 L1394.4,318.2 L1394.4,317.5 L1396.6,317.5 L1396.6,316.8 L1396.6,316.3 L1397.9,316.3 L1397.9,315.9 L1397.9,315.2 L1399.9,315.2 L1399.9,314.6 L1399.9,314.5 L1400.0,314.5 L1400.0,314.5 L1400.0,314.0 L1401.2,314.0 L1401.2,313.4 L1401.2,312.7 L1402.7,312.7 L1402.7,312.1 L1402.7,311.3 L1404.3,311.3 L1404.3,310.6 L1404.3,310.0 L1405.5,310.0 L1405.5,309.5 L1405.5,308.8 L1407.0,308.8 L1407.0,308.1 L1407.0,307.3 L1408.6,307.3 L1408.6,306.6 L1408.6,305.7 L1410.7,305.7 L1410.7,304.8 L1410.7,304.2 L1411.9,304.2 L1411.9,303.6 L1411.9,303.1 L1413.0,303.1 L1413.0,302.6 L1413.0,302.0 L1414.5,302.0 L1414.5,301.3 L1414.5,301.0 L1415.0,301.0 L1415.0,300.8 L1415.0,300.2 L1416.5,300.2 L1416.5,299.5 L1416.5,298.6 L1418.5,298.6 L1418.5,297.8 L1418.5,297.3 L1419.7,297.3 L1419.7,296.8 L1419.7,296.1 L1421.2,296.1 L1421.2,295.5 L1421.2,294.8 L1422.7,294.8 L1422.7,294.2 L1422.7,293.7 L1423.8,293.7 L1423.8,293.2 L1423.8,292.6 L1425.3,292.6 L1425.3,292.0 L1425.3,291.3 L1426.8,291.3 L1426.8,290.7 L1426.8,290.1 L1428.1,290.1 L1428.1,289.5 L1428.1,288.7 L1430.0,288.7 L1430.0,288.0 L1430.0,287.1 L1432.1,287.1 L1432.1,286.1 L1432.1,286.0 L1432.5,286.0 L1432.5,285.8 L1432.5,285.4 L1433.8,285.4 L1433.8,284.9 L1433.8,284.4 L1435.2,284.4 L1435.2,283.9 L1435.2,283.1 L1437.5,283.1 L1437.5,282.3 L1437.5,281.9 L1438.5,281.9 L1438.5,281.5 L1438.5,281.2 L1439.6,281.2 L1439.6,280.8 L1439.6,280.4 L1440.7,280.4 L1440.7,280.0 L1440.7,279.2 L1442.9,279.2 L1442.9,278.4 L1442.9,277.9 L1444.6,277.9 L1444.6,277.3 L1444.6,277.1 L1445.0,277.1 L1445.0,277.0 L1445.0,276.7 L1446.2,276.7 L1446.2,276.3 L1446.2,275.7 L1448.4,275.7 L1448.4,275.0 L1448.4,274.3 L1450.9,274.3 L1450.9,273.6 L1450.9,273.1 L1452.9,273.1 L1452.9,272.5 L1452.9,271.8 L1455.2,271.8 L1455.2,271.2 L1455.2,270.7 L1457.0,270.7 L1457.0,270.1 L1457.0,269.7 L1458.5,269.7 L1458.5,269.3 L1458.5,268.9 L1459.8,268.9 L1459.8,268.6 L1459.8,268.1 L1461.2,268.1 L1461.2,267.7 L1461.2,267.4 L1462.5,267.4 L1462.5,267.0 L1462.5,267.0 L1462.5,267.0 L1462.5,267.0 L1462.5,266.7 L1463.6,266.7 L1463.6,266.3 L1463.6,266.0 L1464.6,266.0 L1464.6,265.6 L1464.6,264.9 L1466.9,264.9 L1466.9,264.2 L1466.9,263.5 L1469.0,263.5 L1469.0,262.8 L1469.0,262.2 L1471.1,262.2 L1471.1,261.5 L1471.1,261.0 L1472.6,261.0 L1472.6,260.5 L1472.6,260.0 L1474.2,260.0 L1474.2,259.5 L1474.2,258.9 L1476.0,258.9 L1476.0,258.4 L1476.0,257.7 L1478.0,257.7 L1478.0,257.1 L1478.0,256.6 L1479.5,256.6 L1479.5,256.1 L1479.5,256.0 L1480.0,256.0 L1480.0,255.8 L1480.0,255.2 L1481.7,255.2 L1481.7,254.6 L1481.7,253.8 L1483.7,253.8 L1483.7,253.0 L1483.7,252.5 L1485.1,252.5 L1485.1,252.0 L1485.1,251.6 L1486.1,251.6 L1486.1,251.2 L1486.1,250.7 L1487.5,250.7 L1487.5,250.1 L1487.5,249.4 L1489.6,249.4 L1489.6,248.6 L1489.6,248.1 L1490.8,248.1 L1490.8,247.7 L1490.8,247.0 L1492.6,247.0 L1492.6,246.4 L1492.6,245.9 L1493.7,245.9 L1493.7,245.5 L1493.7,245.0 L1495.0,245.0 L1495.0,244.5 L1495.0,243.9 L1496.8,243.9 L1496.8,243.2 L1496.8,242.8 L1497.9,242.8 L1497.9,242.4 L1497.9,241.8 L1499.4,241.8 L1499.4,241.2 L1499.4,241.0 L1500.0,241.0 L1500.0,240.8 L1500.0,240.4 L1501.6,240.4 L1501.6,240.0 L1501.6,239.4 L1503.8,239.4 L1503.8,238.9 L1503.8,238.3 L1506.1,238.3 L1506.1,237.8 L1506.1,237.4 L1507.5,237.4 L1507.5,237.0 L1507.5,236.5 L1509.7,236.5 L1509.7,235.9 L1509.7,235.4 L1511.9,235.4 L1511.9,234.9 L1511.9,234.4 L1513.8,234.4 L1513.8,233.9 L1513.8,233.4 L1515.7,233.4 L1515.7,232.9 L1515.7,232.5 L1517.6,232.5 L1517.6,232.0 L1517.6,231.5 L1519.7,231.5 L1519.7,230.9 L1519.7,230.9 L1520.0,230.9 L1520.0,230.8 L1520.0,230.4 L1521.5,230.4 L1521.5,230.1 L1521.5,229.6 L1523.5,229.6 L1523.5,229.1 L1523.5,228.5 L1525.6,228.5 L1525.6,228.0 L1525.6,227.6 L1527.3,227.6 L1527.3,227.2 L1527.3,226.6 L1529.6,226.6 L1529.6,226.0 L1529.6,225.6 L1531.2,225.6 L1531.2,225.2 L1531.2,224.7 L1533.0,224.7 L1533.0,224.3 L1533.0,223.8 L1534.9,223.8 L1534.9,223.3 L1534.9,222.9 L1536.9,222.9 L1536.9,222.4 L1536.9,222.0 L1538.2,222.0 L1538.2,221.7 L1538.2,221.3 L1540.0,221.3 L1540.0,220.8 L1540.0,220.5 L1541.2,220.5 L1541.2,220.1 L1541.2,219.6 L1543.0,219.6 L1543.0,219.1 L1543.0,218.6 L1544.7,218.6 L1544.7,218.1 L1544.7,217.6 L1546.7,217.6 L1546.7,217.0 L1546.7,216.4 L1548.9,216.4 L1548.9,215.7 L1548.9,215.0 L1551.3,215.0 L1551.3,214.3 L1551.3,214.0 L1552.7,214.0 L1552.7,213.6 L1552.7,212.9 L1555.0,212.9 L1555.0,212.2 L1555.0,211.8 L1556.7,211.8 L1556.7,211.3 L1556.7,211.0 L1557.5,211.0 L1557.5,210.8 L1557.5,210.5 L1558.6,210.5 L1558.6,210.1 L1558.6,209.4 L1560.8,209.4 L1560.8,208.8 L1560.8,208.3 L1562.1,208.3 L1562.1,207.9 L1562.1,207.5 L1563.5,207.5 L1563.5,207.1 L1563.5,206.6 L1564.9,206.6 L1564.9,206.2 L1564.9,205.8 L1566.2,205.8 L1566.2,205.3 L1566.2,204.9 L1567.7,204.9 L1567.7,204.5 L1567.7,204.0 L1569.1,204.0 L1569.1,203.6 L1569.1,203.0 L1570.8,203.0 L1570.8,202.5 L1570.8,202.0 L1572.3,202.0 L1572.3,201.5 L1572.3,200.9 L1574.4,200.9 L1574.4,200.3 L1574.4,199.6 L1576.6,199.6 L1576.6,198.8 L1576.6,198.6 L1577.5,198.6 L1577.5,198.3 L1577.5,198.0 L1579.2,198.0 L1579.2,197.7 L1579.2,197.3 L1581.3,197.3 L1581.3,196.9 L1581.3,196.4 L1583.6,196.4 L1583.6,196.0 L1583.6,195.6 L1585.8,195.6 L1585.8,195.2 L1585.8,194.9 L1587.5,194.9 L1587.5,194.6 L1587.5,194.3 L1588.9,194.3 L1588.9,194.0 L1588.9,193.6 L1591.2,193.6 L1591.2,193.2 L1591.2,192.8 L1593.3,192.8 L1593.3,192.4 L1593.3,192.1 L1594.9,192.1 L1594.9,191.8 L1594.9,191.4 L1597.0,191.4 L1597.0,191.0 L1597.0,190.9 L1597.5,190.9 L1597.5,190.8 L1597.5,190.2 L1599.7,190.2 L1599.7,189.7 L1599.7,189.1 L1602.0,189.1 L1602.0,188.5 L1602.0,187.9 L1604.5,187.9 L1604.5,187.3 L1604.5,187.0 L1605.7,187.0 L1605.7,186.7 L1605.7,186.1 L1607.8,186.1 L1607.8,185.6 L1607.8,185.1 L1610.0,185.1 L1610.0,184.5 L1610.0,184.2 L1611.3,184.2 L1611.3,183.9 L1611.3,183.4 L1613.2,183.4 L1613.2,182.9 L1613.2,182.6 L1614.6,182.6 L1614.6,182.2 L1614.6,182.1 L1615.0,182.1 L1615.0,182.0 L1615.0,181.8 L1616.1,181.8 L1616.1,181.5 L1616.1,181.2 L1617.7,181.2 L1617.7,180.8 L1617.7,180.3 L1620.0,180.3 L1620.0,179.8 L1620.0,179.4 L1622.0,179.4 L1622.0,179.0 L1622.0,178.5 L1624.2,178.5 L1624.2,178.0 L1624.2,177.4 L1626.8,177.4 L1626.8,176.9 L1626.8,176.6 L1628.1,176.6 L1628.1,176.3 L1628.1,175.8 L1630.4,175.8 L1630.4,175.3 L1630.4,174.8 L1632.8,174.8 L1632.8,174.2 L1632.8,173.8 L1634.9,173.8 L1634.9,173.3 L1634.9,173.3 L1635.0,173.3 L1635.0,173.3 L1635.0,173.0 L1636.4,173.0 L1636.4,172.8 L1636.4,172.4 L1638.2,172.4 L1638.2,172.1 L1638.2,171.8 L1639.8,171.8 L1639.8,171.5 L1639.8,171.2 L1641.4,171.2 L1641.4,170.9 L1641.4,170.5 L1643.5,170.5 L1643.5,170.1 L1643.5,169.7 L1645.6,169.7 L1645.6,169.3 L1645.6,169.1 L1647.1,169.1 L1647.1,168.8 L1647.1,168.5 L1648.5,168.5 L1648.5,168.3 L1648.5,167.9 L1650.3,167.9 L1650.3,167.5 L1650.3,167.1 L1652.5,167.1 L1652.5,166.7 L1652.5,166.3 L1654.6,166.3 L1654.6,165.9 L1654.6,165.9 L1655.0,165.9 L1655.0,165.8 L1655.0,165.3 L1657.4,165.3 L1657.4,164.8 L1657.4,164.3 L1659.7,164.3 L1659.7,163.9 L1659.7,163.5 L1661.4,163.5 L1661.4,163.1 L1661.4,162.7 L1663.6,162.7 L1663.6,162.2 L1663.6,161.8 L1665.7,161.8 L1665.7,161.3 L1665.7,161.0 L1667.3,161.0 L1667.3,160.7 L1667.3,160.4 L1668.7,160.4 L1668.7,160.1 L1668.7,159.8 L1670.4,159.8 L1670.4,159.4 L1670.4,159.0 L1672.5,159.0 L1672.5,158.5 L1672.5,158.0 L1674.7,158.0 L1674.7,157.6 L1674.7,157.3 L1676.3,157.3 L1676.3,156.9 L1676.3,156.5 L1678.2,156.5 L1678.2,156.1 L1678.2,155.9 L1679.4,155.9 L1679.4,155.6 L1679.4,155.6 L1679.5,155.6 L1679.5,155.6 L1679.5,155.2 L1681.3,155.2 L1681.3,154.9 L1681.3,154.5 L1683.5,154.5 L1683.5,154.0 L1683.5,153.5 L1685.9,153.5 L1685.9,153.1 L1685.9,152.8 L1687.1,152.8 L1687.1,152.6 L1687.1,152.1 L1689.7,152.1 L1689.7,151.6 L1689.7,151.3 L1691.1,151.3 L1691.1,151.0 L1691.1,150.5 L1693.6,150.5 L1693.6,150.0 L1693.6,149.8 L1695.0,149.8 L1695.0,149.5 L1695.0,149.3 L1696.5,149.3 L1696.5,149.1 L1696.5,148.8 L1698.1,148.8 L1698.1,148.6 L1698.1,148.4 L1699.5,148.4 L1699.5,148.2 L1699.5,147.9 L1702.0,147.9 L1702.0,147.5 L1702.0,147.2 L1704.3,147.2 L1704.3,146.8 L1704.3,146.5 L1707.0,146.5 L1707.0,146.1 L1707.0,145.7 L1709.4,145.7 L1709.4,145.4 L1709.4,145.2 L1710.8,145.2 L1710.8,145.0 L1710.8,144.6 L1713.1,144.6 L1713.1,144.1 L1713.1,143.8 L1714.7,143.8 L1714.7,143.5 L1714.7,143.2 L1716.3,143.2 L1716.3,142.9 L1716.3,142.5 L1718.1,142.5 L1718.1,142.2 L1718.1,141.8 L1720.3,141.8 L1720.3,141.4 L1720.3,141.1 L1721.9,141.1 L1721.9,140.8 L1721.9,140.4 L1723.8,140.4 L1723.8,140.0 L1723.8,139.6 L1725.8,139.6 L1725.8,139.3 L1725.8,138.8 L1728.1,138.8 L1728.1,138.4 L1728.1,138.0 L1729.9,138.0 L1729.9,137.7 L1729.9,137.4 L1731.7,137.4 L1731.7,137.0 L1731.7,137.0 L1732.0,137.0 L1732.0,136.9 L1732.0,136.7 L1733.9,136.7 L1733.9,136.4 L1733.9,136.2 L1736.2,136.2 L1736.2,135.9 L1736.2,135.7 L1737.5,135.7 L1737.5,135.6 L1737.5,135.4 L1739.0,135.4 L1739.0,135.2 L1739.0,135.1 L1740.2,135.1 L1740.2,134.9 L1740.2,134.7 L1742.0,134.7 L1742.0,134.5 L1742.0,134.2 L1744.5,134.2 L1744.5,133.9 L1744.5,133.7 L1746.6,133.7 L1746.6,133.4 L1746.6,133.1 L1748.7,133.1 L1748.7,132.9 L1748.7,132.6 L1751.4,132.6 L1751.4,132.3 L1751.4,132.0 L1753.8,132.0 L1753.8,131.7 L1753.8,131.5 L1755.4,131.5 L1755.4,131.3 L1755.4,131.1 L1757.0,131.1 L1757.0,130.9 L1757.0,130.7 L1759.0,130.7 L1759.0,130.4 L1759.0,130.3 L1760.5,130.3 L1760.5,130.1 L1760.5,130.0 L1760.8,130.0 L1760.8,130.0 L1760.8,129.9 L1762.1,129.9 L1762.1,129.8 L1762.1,129.6 L1763.9,129.6 L1763.9,129.4 L1763.9,129.2 L1766.2,129.2 L1766.2,129.0 L1766.2,128.9 L1767.8,128.9 L1767.8,128.7 L1767.8,128.6 L1769.2,128.6 L1769.2,128.5 L1769.2,128.3 L1771.6,128.3 L1771.6,128.1 L1771.6,127.9 L1773.1,127.9 L1773.1,127.8 L1773.1,127.6 L1775.7,127.6 L1775.7,127.3 L1775.7,127.1 L1777.8,127.1 L1777.8,126.9 L1777.8,126.7 L1780.4,126.7 L1780.4,126.5 L1780.4,126.3 L1782.4,126.3 L1782.4,126.1 L1782.4,125.9 L1784.4,125.9 L1784.4,125.8 L1784.4,125.6 L1786.0,125.6 L1786.0,125.5 L1786.0,125.4 L1787.2,125.4 L1787.2,125.3 L1787.2,125.0 L1789.9,125.0 L1789.9,124.8 L1789.9,124.6 L1791.4,124.6 L1791.4,124.5 L1791.4,124.5 L1792.0,124.5 L1792.0,124.4 L1792.0,124.2 L1794.7,124.2 L1794.7,123.9 L1794.7,123.8 L1796.7,123.8 L1796.7,123.6 L1796.7,123.4 L1798.8,123.4 L1798.8,123.2 L1798.8,123.0 L1801.4,123.0 L1801.4,122.7 L1801.4,122.5 L1803.7,122.5 L1803.7,122.3 L1803.7,122.2 L1805.3,122.2 L1805.3,122.1 L1805.3,121.9 L1807.0,121.9 L1807.0,121.8 L1807.0,121.6 L1809.2,121.6 L1809.2,121.4 L1809.2,121.2 L1811.4,121.2 L1811.4,121.0 L1811.4,120.8 L1813.0,120.8 L1813.0,120.7 L1813.0,120.6 L1814.5,120.6 L1814.5,120.4 L1814.5,120.3 L1816.5,120.3 L1816.5,120.1 L1816.5,120.0 L1817.0,120.0 L1817.0,120.0 L1817.0,119.6 L1819.4,119.6 L1819.4,119.3 L1819.4,119.0 L1821.5,119.0 L1821.5,118.6 L1821.5,118.4 L1822.9,118.4 L1822.9,118.2 L1822.9,117.9 L1825.0,117.9 L1825.0,117.6 L1825.0,117.3 L1827.0,117.3 L1827.0,117.0 L1827.0,116.8 L1828.3,116.8 L1828.3,116.6 L1828.3,116.4 L1830.1,116.4 L1830.1,116.1 L1830.1,115.7 L1832.5,115.7 L1832.5,115.4 L1832.5,115.1 L1834.3,115.1 L1834.3,114.8 L1834.3,114.6 L1835.8,114.6 L1835.8,114.4 L1835.8,114.3 L1837.4,114.3 L1837.4,114.2 L1837.4,114.0 L1840.1,114.0 L1840.1,113.9 L1840.1,113.7 L1842.4,113.7 L1842.4,113.6 L1842.4,113.5 L1844.5,113.5 L1844.5,113.3 L1844.5,113.3 L1845.7,113.3 L1845.7,113.2 L1845.7,113.1 L1847.4,113.1 L1847.4,113.0 L1847.4,112.9 L1848.6,112.9 L1848.6,112.8 L1848.6,112.7 L1850.5,112.7 L1850.5,112.6 L1850.5,112.5 L1852.0,112.5 L1852.0,112.4 L1852.0,112.3 L1853.6,112.3 L1853.6,112.2 L1853.6,112.1 L1855.2,112.1 L1855.2,112.0 L1855.2,111.9 L1856.7,111.9 L1856.7,111.8 L1856.7,111.7 L1858.3,111.7 L1858.3,111.6 L1858.3,111.5 L1860.3,111.5 L1860.3,111.4 L1860.3,111.3 L1860.8,111.3 L1860.8,111.3"/>
<rect class="ax" x="1087.0" y="85.3" width="814.0" height="711.7"/>
<line class="ax" x1="1127.7" y1="797.0" x2="1127.7" y2="815.0"/>
<line class="ax" x1="1087.0" y1="770.6" x2="1069.0" y2="770.6"/>
<text class="t" x="1127.7" y="858.7" text-anchor="middle">0.0</text>
<text class="t" transform="translate(1046.4,770.6) rotate(-90)" text-anchor="middle">0.0</text>
<line class="ax" x1="1274.2" y1="797.0" x2="1274.2" y2="815.0"/>
<line class="ax" x1="1087.0" y1="638.8" x2="1069.0" y2="638.8"/>
<text class="t" x="1274.2" y="858.7" text-anchor="middle">0.2</text>
<text class="t" transform="translate(1046.4,638.8) rotate(-90)" text-anchor="middle">0.2</text>
<line class="ax" x1="1420.7" y1="797.0" x2="1420.7" y2="815.0"/>
<line class="ax" x1="1087.0" y1="506.9" x2="1069.0" y2="506.9"/>
<text class="t" x="1420.7" y="858.7" text-anchor="middle">0.4</text>
<text class="t" transform="translate(1046.4,506.9) rotate(-90)" text-anchor="middle">0.4</text>
<line class="ax" x1="1567.1" y1="797.0" x2="1567.1" y2="815.0"/>
<line class="ax" x1="1087.0" y1="375.1" x2="1069.0" y2="375.1"/>
<text class="t" x="1567.1" y="858.7" text-anchor="middle">0.6</text>
<text class="t" transform="translate(1046.4,375.1) rotate(-90)" text-anchor="middle">0.6</text>
<line class="ax" x1="1713.6" y1="797.0" x2="1713.6" y2="815.0"/>
<line class="ax" x1="1087.0" y1="243.2" x2="1069.0" y2="243.2"/>
<text class="t" x="1713.6" y="858.7" text-anchor="middle">0.8</text>
<text class="t" transform="translate(1046.4,243.2) rotate(-90)" text-anchor="middle">0.8</text>
<line class="ax" x1="1860.1" y1="797.0" x2="1860.1" y2="815.0"/>
<line class="ax" x1="1087.0" y1="111.4" x2="1069.0" y2="111.4"/>
<text class="t" x="1860.1" y="858.7" text-anchor="middle">1.0</text>
<text class="t" transform="translate(1046.4,111.4) rotate(-90)" text-anchor="middle">1.0</text>
<text class="t" x="1494.0" y="909.6" text-anchor="middle">1 − Specificity</text>
<text class="t" transform="translate(995.3,441.1) rotate(-90)" text-anchor="middle">Sensitivity</text>
<text class="ttl" x="1505" y="26.3" text-anchor="middle">ROC curve for normal-high BP values</text>
<text class="t" x="1697.1" y="541.7">AUC</text>
<line x1="1591.8" y1="575.8" x2="1644.9" y2="575.8" stroke="#00cd00" stroke-width="1.6"/>
<text class="t" x="1669.9" y="585.6">TyG-BMI</text>
<text class="t" x="1797.5" y="585.6">: 0.72</text>
<line x1="1591.8" y1="610.1" x2="1644.9" y2="610.1" stroke="#ff0000" stroke-width="1.6"/>
<text class="t" x="1669.9" y="619.9">BMI</text>
<text class="t" x="1801.6" y="619.9">: 0.70</text>
<line x1="1591.8" y1="644.1" x2="1644.9" y2="644.1" stroke="#000000" stroke-width="1.6"/>
<text class="t" x="1669.9" y="653.9">TyG index</text>
<text class="t" x="1798.8" y="653.9">: 0.66</text>
</g>
</svg></body></html>
